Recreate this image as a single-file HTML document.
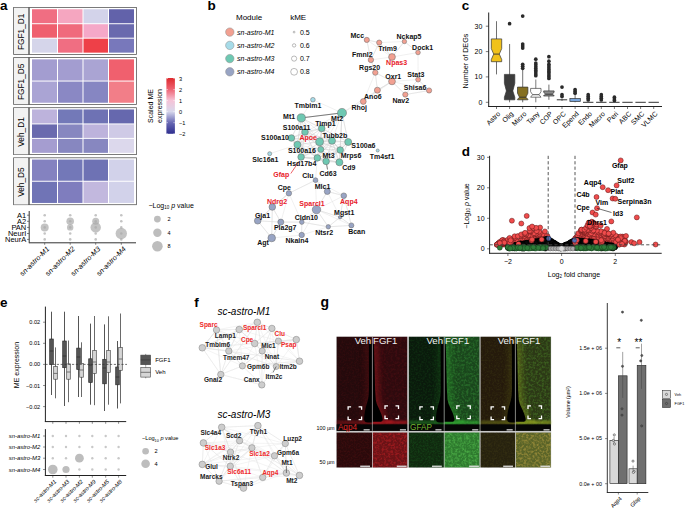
<!DOCTYPE html>
<html><head><meta charset="utf-8"><style>
html,body{margin:0;padding:0;background:#fff;width:685px;height:510px;overflow:hidden}
svg{display:block;font-family:"Liberation Sans",sans-serif}
</style></head><body>
<svg width="685" height="510" viewBox="0 0 685 510">
<rect width="685" height="510" fill="#fff"/>
<text x="0.00" y="9.80" font-size="13.5" text-anchor="start" font-weight="bold">a</text>
<rect x="13.6" y="7.5" width="122.8" height="46.9" fill="#fff" stroke="#5a5a5a" stroke-width="0.8"/>
<rect x="14.0" y="7.9" width="14.3" height="46.1" fill="#f2f2f2"/>
<line x1="29.0" y1="7.5" x2="29.0" y2="54.4" stroke="#444" stroke-width="1.3"/>
<text x="21.30" y="34.74" font-size="8.3" text-anchor="middle" transform="rotate(-90 21.30 31.75)">FGF1_D1</text>
<rect x="32.00" y="9.25" width="25.00" height="13.97" fill="#f06e82"/>
<rect x="58.00" y="9.25" width="24.50" height="13.97" fill="#f5a6c0"/>
<rect x="83.50" y="9.25" width="24.50" height="13.97" fill="#d3d3ea"/>
<rect x="109.00" y="9.25" width="25.00" height="13.97" fill="#6262aa"/>
<rect x="32.00" y="24.22" width="25.00" height="13.47" fill="#ef5f6e"/>
<rect x="58.00" y="24.22" width="24.50" height="13.47" fill="#f06a7c"/>
<rect x="83.50" y="24.22" width="24.50" height="13.47" fill="#f5a8c8"/>
<rect x="109.00" y="24.22" width="25.00" height="13.47" fill="#6a6aae"/>
<rect x="32.00" y="38.68" width="25.00" height="13.97" fill="#d5d5ea"/>
<rect x="58.00" y="38.68" width="24.50" height="13.97" fill="#f06e82"/>
<rect x="83.50" y="38.68" width="24.50" height="13.97" fill="#ee4048"/>
<rect x="109.00" y="38.68" width="25.00" height="13.97" fill="#7878bb"/>
<rect x="13.6" y="57.6" width="122.8" height="46.9" fill="#fff" stroke="#5a5a5a" stroke-width="0.8"/>
<rect x="14.0" y="58.0" width="14.3" height="46.1" fill="#f2f2f2"/>
<line x1="29.0" y1="57.6" x2="29.0" y2="104.5" stroke="#444" stroke-width="1.3"/>
<text x="21.30" y="84.84" font-size="8.3" text-anchor="middle" transform="rotate(-90 21.30 81.85)">FGF1_D5</text>
<rect x="32.00" y="59.35" width="25.00" height="21.20" fill="#a39dd0"/>
<rect x="58.00" y="59.35" width="24.50" height="21.20" fill="#a39dd0"/>
<rect x="83.50" y="59.35" width="24.50" height="21.20" fill="#aaa4d3"/>
<rect x="109.00" y="59.35" width="25.00" height="21.20" fill="#f0606e"/>
<rect x="32.00" y="81.55" width="25.00" height="21.20" fill="#aaa4d4"/>
<rect x="58.00" y="81.55" width="24.50" height="21.20" fill="#8a88c4"/>
<rect x="83.50" y="81.55" width="24.50" height="21.20" fill="#8686c2"/>
<rect x="109.00" y="81.55" width="25.00" height="21.20" fill="#f27e88"/>
<rect x="13.6" y="107.7" width="122.8" height="46.9" fill="#fff" stroke="#5a5a5a" stroke-width="0.8"/>
<rect x="14.0" y="108.10000000000001" width="14.3" height="46.1" fill="#f2f2f2"/>
<line x1="29.0" y1="107.7" x2="29.0" y2="154.6" stroke="#444" stroke-width="1.3"/>
<text x="21.30" y="134.94" font-size="8.3" text-anchor="middle" transform="rotate(-90 21.30 131.95)">Veh_D1</text>
<rect x="32.00" y="109.45" width="25.00" height="13.97" fill="#bdb3dc"/>
<rect x="58.00" y="109.45" width="24.50" height="13.97" fill="#7379b8"/>
<rect x="83.50" y="109.45" width="24.50" height="13.97" fill="#6e72b4"/>
<rect x="109.00" y="109.45" width="25.00" height="13.97" fill="#6668ae"/>
<rect x="32.00" y="124.42" width="25.00" height="13.47" fill="#6a6aae"/>
<rect x="58.00" y="124.42" width="24.50" height="13.47" fill="#8787c0"/>
<rect x="83.50" y="124.42" width="24.50" height="13.47" fill="#bdb3dc"/>
<rect x="109.00" y="124.42" width="25.00" height="13.47" fill="#cfcae6"/>
<rect x="32.00" y="138.88" width="25.00" height="13.97" fill="#a59dd0"/>
<rect x="58.00" y="138.88" width="24.50" height="13.97" fill="#8787c0"/>
<rect x="83.50" y="138.88" width="24.50" height="13.97" fill="#8787c0"/>
<rect x="109.00" y="138.88" width="25.00" height="13.97" fill="#dcd8ec"/>
<rect x="13.6" y="157.8" width="122.8" height="46.9" fill="#fff" stroke="#5a5a5a" stroke-width="0.8"/>
<rect x="14.0" y="158.20000000000002" width="14.3" height="46.1" fill="#f2f2f2"/>
<line x1="29.0" y1="157.8" x2="29.0" y2="204.70000000000002" stroke="#444" stroke-width="1.3"/>
<text x="21.30" y="185.04" font-size="8.3" text-anchor="middle" transform="rotate(-90 21.30 182.05)">Veh_D5</text>
<rect x="32.00" y="159.55" width="25.00" height="21.20" fill="#8482c0"/>
<rect x="58.00" y="159.55" width="24.50" height="21.20" fill="#7378b8"/>
<rect x="83.50" y="159.55" width="24.50" height="21.20" fill="#6e72b4"/>
<rect x="109.00" y="159.55" width="25.00" height="21.20" fill="#d2d2ea"/>
<rect x="32.00" y="181.75" width="25.00" height="21.20" fill="#7074b6"/>
<rect x="58.00" y="181.75" width="24.50" height="21.20" fill="#7f7dbe"/>
<rect x="83.50" y="181.75" width="24.50" height="21.20" fill="#c2b8de"/>
<rect x="109.00" y="181.75" width="25.00" height="21.20" fill="#d2d2ea"/>
<defs><linearGradient id="cb" x1="0" y1="1" x2="0" y2="0">
<stop offset="0" stop-color="#2e2e8e"/><stop offset="0.2" stop-color="#6868b4"/>
<stop offset="0.4" stop-color="#d8d8ec"/><stop offset="0.6" stop-color="#f6c2d6"/>
<stop offset="0.8" stop-color="#ee6272"/><stop offset="1" stop-color="#de2a2e"/></linearGradient></defs>
<rect x="166.4" y="78" width="8.5" height="55.8" fill="url(#cb)"/>
<line x1="166.4" y1="78.5" x2="168" y2="78.5" stroke="#fff" stroke-width="0.5"/>
<line x1="173.3" y1="78.5" x2="174.9" y2="78.5" stroke="#fff" stroke-width="0.5"/>
<text x="179.00" y="80.52" font-size="5.6" text-anchor="start">3</text>
<line x1="166.4" y1="89.6" x2="168" y2="89.6" stroke="#fff" stroke-width="0.5"/>
<line x1="173.3" y1="89.6" x2="174.9" y2="89.6" stroke="#fff" stroke-width="0.5"/>
<text x="179.00" y="91.58" font-size="5.6" text-anchor="start">2</text>
<line x1="166.4" y1="100.6" x2="168" y2="100.6" stroke="#fff" stroke-width="0.5"/>
<line x1="173.3" y1="100.6" x2="174.9" y2="100.6" stroke="#fff" stroke-width="0.5"/>
<text x="179.00" y="102.64" font-size="5.6" text-anchor="start">1</text>
<line x1="166.4" y1="111.7" x2="168" y2="111.7" stroke="#fff" stroke-width="0.5"/>
<line x1="173.3" y1="111.7" x2="174.9" y2="111.7" stroke="#fff" stroke-width="0.5"/>
<text x="179.00" y="113.70" font-size="5.6" text-anchor="start">0</text>
<line x1="166.4" y1="122.7" x2="168" y2="122.7" stroke="#fff" stroke-width="0.5"/>
<line x1="173.3" y1="122.7" x2="174.9" y2="122.7" stroke="#fff" stroke-width="0.5"/>
<text x="179.00" y="124.76" font-size="5.6" text-anchor="start">−1</text>
<line x1="166.4" y1="133.8" x2="168" y2="133.8" stroke="#fff" stroke-width="0.5"/>
<line x1="173.3" y1="133.8" x2="174.9" y2="133.8" stroke="#fff" stroke-width="0.5"/>
<text x="179.00" y="135.82" font-size="5.6" text-anchor="start">−2</text>
<text x="150.50" y="108.52" font-size="7" text-anchor="middle" transform="rotate(-90 150.50 106.00)">Scaled ME</text>
<text x="159.00" y="108.52" font-size="7" text-anchor="middle" transform="rotate(-90 159.00 106.00)">expression</text>
<line x1="29.2" y1="211" x2="29.2" y2="243.2" stroke="#333" stroke-width="1"/>
<line x1="29.2" y1="242.8" x2="136" y2="242.8" stroke="#333" stroke-width="1"/>
<line x1="27" y1="215.2" x2="29.2" y2="215.2" stroke="#333" stroke-width="0.6"/>
<text x="26.30" y="217.90" font-size="7.5" text-anchor="end">A1</text>
<line x1="27" y1="221.3" x2="29.2" y2="221.3" stroke="#333" stroke-width="0.6"/>
<text x="26.30" y="224.00" font-size="7.5" text-anchor="end">A2</text>
<line x1="27" y1="227.4" x2="29.2" y2="227.4" stroke="#333" stroke-width="0.6"/>
<text x="26.30" y="230.10" font-size="7.5" text-anchor="end">PAN</text>
<line x1="27" y1="233.5" x2="29.2" y2="233.5" stroke="#333" stroke-width="0.6"/>
<text x="26.30" y="236.20" font-size="7.5" text-anchor="end">NeurI</text>
<line x1="27" y1="239.4" x2="29.2" y2="239.4" stroke="#333" stroke-width="0.6"/>
<text x="26.30" y="242.10" font-size="7.5" text-anchor="end">NeurA</text>
<line x1="44.7" y1="242.8" x2="44.7" y2="244.8" stroke="#333" stroke-width="0.6"/>
<circle cx="44.7" cy="215.2" r="1.3" fill="#c4c4c4"/>
<circle cx="44.7" cy="221.3" r="1.3" fill="#c4c4c4"/>
<circle cx="44.7" cy="227.4" r="1.3" fill="#c4c4c4"/>
<circle cx="44.7" cy="233.5" r="1.3" fill="#c4c4c4"/>
<circle cx="44.7" cy="239.4" r="1.3" fill="#c4c4c4"/>
<line x1="70.2" y1="242.8" x2="70.2" y2="244.8" stroke="#333" stroke-width="0.6"/>
<circle cx="70.2" cy="215.2" r="1.3" fill="#c4c4c4"/>
<circle cx="70.2" cy="221.3" r="1.3" fill="#c4c4c4"/>
<circle cx="70.2" cy="227.4" r="1.3" fill="#c4c4c4"/>
<circle cx="70.2" cy="233.5" r="1.3" fill="#c4c4c4"/>
<circle cx="70.2" cy="239.4" r="1.3" fill="#c4c4c4"/>
<line x1="95.7" y1="242.8" x2="95.7" y2="244.8" stroke="#333" stroke-width="0.6"/>
<circle cx="95.7" cy="215.2" r="1.3" fill="#c4c4c4"/>
<circle cx="95.7" cy="221.3" r="1.3" fill="#c4c4c4"/>
<circle cx="95.7" cy="227.4" r="1.3" fill="#c4c4c4"/>
<circle cx="95.7" cy="233.5" r="1.3" fill="#c4c4c4"/>
<circle cx="95.7" cy="239.4" r="1.3" fill="#c4c4c4"/>
<line x1="121.3" y1="242.8" x2="121.3" y2="244.8" stroke="#333" stroke-width="0.6"/>
<circle cx="121.3" cy="215.2" r="1.3" fill="#c4c4c4"/>
<circle cx="121.3" cy="221.3" r="1.3" fill="#c4c4c4"/>
<circle cx="121.3" cy="227.4" r="1.3" fill="#c4c4c4"/>
<circle cx="121.3" cy="233.5" r="1.3" fill="#c4c4c4"/>
<circle cx="121.3" cy="239.4" r="1.3" fill="#c4c4c4"/>
<circle cx="44.7" cy="227.4" r="4.0" fill="#a9a9a9" fill-opacity="0.7"/>
<circle cx="70.2" cy="221.3" r="3.8" fill="#a9a9a9" fill-opacity="0.7"/>
<circle cx="70.2" cy="227.4" r="3.2" fill="#a9a9a9" fill-opacity="0.7"/>
<circle cx="95.7" cy="221.3" r="3.5" fill="#a9a9a9" fill-opacity="0.7"/>
<circle cx="95.7" cy="227.4" r="5.2" fill="#a9a9a9" fill-opacity="0.7"/>
<circle cx="121.3" cy="233.5" r="5.7" fill="#a9a9a9" fill-opacity="0.7"/>
<text x="47.90" y="250.09" font-size="7.2" text-anchor="end" font-style="italic" transform="rotate(-45 47.90 247.50)">sn-astro-M1</text>
<text x="73.40" y="250.09" font-size="7.2" text-anchor="end" font-style="italic" transform="rotate(-45 73.40 247.50)">sn-astro-M2</text>
<text x="98.90" y="250.09" font-size="7.2" text-anchor="end" font-style="italic" transform="rotate(-45 98.90 247.50)">sn-astro-M3</text>
<text x="124.50" y="250.09" font-size="7.2" text-anchor="end" font-style="italic" transform="rotate(-45 124.50 247.50)">sn-astro-M4</text>
<text x="148.50" y="207.92" font-size="7" text-anchor="start">−Log<tspan font-size="4.5" dy="1.5">10</tspan><tspan dy="-1.5"> </tspan><tspan font-style="italic">p</tspan> value</text>
<circle cx="157.4" cy="219.1" r="3.4" fill="#bdbdbd"/>
<text x="167.50" y="221.08" font-size="5.5" text-anchor="start">2</text>
<circle cx="157.4" cy="232.8" r="4.2" fill="#bdbdbd"/>
<text x="167.50" y="234.78" font-size="5.5" text-anchor="start">4</text>
<circle cx="157.4" cy="246.3" r="5.3" fill="#bdbdbd"/>
<text x="167.50" y="248.28" font-size="5.5" text-anchor="start">8</text>
<text x="207.60" y="9.60" font-size="13.5" text-anchor="start" font-weight="bold">b</text>
<text x="236.00" y="20.38" font-size="8" text-anchor="start">Module</text>
<text x="290.20" y="20.38" font-size="8" text-anchor="start">kME</text>
<circle cx="229.8" cy="32.1" r="4.2" fill="#f2a091" stroke="#888" stroke-width="0.5"/>
<text x="237.10" y="34.62" font-size="7" text-anchor="start" font-style="italic">sn-astro-M1</text>
<circle cx="229.8" cy="45.4" r="4.2" fill="#a6dbe8" stroke="#888" stroke-width="0.5"/>
<text x="237.10" y="47.87" font-size="7" text-anchor="start" font-style="italic">sn-astro-M2</text>
<circle cx="229.8" cy="58.6" r="4.2" fill="#6ec8b2" stroke="#888" stroke-width="0.5"/>
<text x="237.10" y="61.12" font-size="7" text-anchor="start" font-style="italic">sn-astro-M3</text>
<circle cx="229.8" cy="71.8" r="4.2" fill="#98a4c4" stroke="#888" stroke-width="0.5"/>
<text x="237.10" y="74.37" font-size="7" text-anchor="start" font-style="italic">sn-astro-M4</text>
<circle cx="294.1" cy="32.1" r="0.9" fill="#fff" stroke="#777" stroke-width="0.5"/>
<text x="299.90" y="34.62" font-size="7" text-anchor="start">0.5</text>
<circle cx="294.1" cy="45.4" r="1.7" fill="#fff" stroke="#777" stroke-width="0.5"/>
<text x="299.90" y="47.87" font-size="7" text-anchor="start">0.6</text>
<circle cx="294.1" cy="58.6" r="2.6" fill="#fff" stroke="#777" stroke-width="0.5"/>
<text x="299.90" y="61.12" font-size="7" text-anchor="start">0.7</text>
<circle cx="294.1" cy="71.8" r="3.4" fill="#fff" stroke="#777" stroke-width="0.5"/>
<text x="299.90" y="74.37" font-size="7" text-anchor="start">0.8</text>
<line x1="366.8" y1="39.9" x2="379.2" y2="42.6" stroke="#d8d8d8" stroke-width="0.4"/>
<line x1="366.8" y1="39.9" x2="370.9" y2="59.9" stroke="#d8d8d8" stroke-width="0.4"/>
<line x1="366.8" y1="39.9" x2="392" y2="57" stroke="#d8d8d8" stroke-width="0.4"/>
<line x1="379.2" y1="42.6" x2="366.8" y2="39.9" stroke="#d8d8d8" stroke-width="0.4"/>
<line x1="379.2" y1="42.6" x2="370.9" y2="59.9" stroke="#d8d8d8" stroke-width="0.4"/>
<line x1="379.2" y1="42.6" x2="392" y2="57" stroke="#d8d8d8" stroke-width="0.4"/>
<line x1="404.4" y1="41.5" x2="418" y2="52.5" stroke="#d8d8d8" stroke-width="0.4"/>
<line x1="404.4" y1="41.5" x2="392" y2="57" stroke="#d8d8d8" stroke-width="0.4"/>
<line x1="404.4" y1="41.5" x2="379.2" y2="42.6" stroke="#d8d8d8" stroke-width="0.4"/>
<line x1="418" y1="52.5" x2="404.4" y2="41.5" stroke="#d8d8d8" stroke-width="0.4"/>
<line x1="418" y1="52.5" x2="392" y2="57" stroke="#d8d8d8" stroke-width="0.4"/>
<line x1="418" y1="52.5" x2="418.1" y2="79.6" stroke="#d8d8d8" stroke-width="0.4"/>
<line x1="392" y1="57" x2="379.2" y2="42.6" stroke="#d8d8d8" stroke-width="0.4"/>
<line x1="392" y1="57" x2="404.4" y2="41.5" stroke="#d8d8d8" stroke-width="0.4"/>
<line x1="392" y1="57" x2="370.9" y2="59.9" stroke="#d8d8d8" stroke-width="0.4"/>
<line x1="370.9" y1="59.9" x2="375.3" y2="72.6" stroke="#d8d8d8" stroke-width="0.4"/>
<line x1="370.9" y1="59.9" x2="379.2" y2="42.6" stroke="#d8d8d8" stroke-width="0.4"/>
<line x1="370.9" y1="59.9" x2="366.8" y2="39.9" stroke="#d8d8d8" stroke-width="0.4"/>
<line x1="375.3" y1="72.6" x2="370.9" y2="59.9" stroke="#d8d8d8" stroke-width="0.4"/>
<line x1="375.3" y1="72.6" x2="377.4" y2="90.2" stroke="#d8d8d8" stroke-width="0.4"/>
<line x1="375.3" y1="72.6" x2="392" y2="81.4" stroke="#d8d8d8" stroke-width="0.4"/>
<line x1="392" y1="81.4" x2="377.4" y2="90.2" stroke="#d8d8d8" stroke-width="0.4"/>
<line x1="392" y1="81.4" x2="405.3" y2="94.6" stroke="#d8d8d8" stroke-width="0.4"/>
<line x1="392" y1="81.4" x2="375.3" y2="72.6" stroke="#d8d8d8" stroke-width="0.4"/>
<line x1="418.1" y1="79.6" x2="429.1" y2="90.5" stroke="#d8d8d8" stroke-width="0.4"/>
<line x1="418.1" y1="79.6" x2="405.3" y2="94.6" stroke="#d8d8d8" stroke-width="0.4"/>
<line x1="418.1" y1="79.6" x2="392" y2="81.4" stroke="#d8d8d8" stroke-width="0.4"/>
<line x1="429.1" y1="90.5" x2="418.1" y2="79.6" stroke="#d8d8d8" stroke-width="0.4"/>
<line x1="429.1" y1="90.5" x2="405.3" y2="94.6" stroke="#d8d8d8" stroke-width="0.4"/>
<line x1="429.1" y1="90.5" x2="392" y2="81.4" stroke="#d8d8d8" stroke-width="0.4"/>
<line x1="377.4" y1="90.2" x2="392" y2="81.4" stroke="#d8d8d8" stroke-width="0.4"/>
<line x1="377.4" y1="90.2" x2="375.3" y2="72.6" stroke="#d8d8d8" stroke-width="0.4"/>
<line x1="377.4" y1="90.2" x2="363.3" y2="101.5" stroke="#d8d8d8" stroke-width="0.4"/>
<line x1="405.3" y1="94.6" x2="392" y2="81.4" stroke="#d8d8d8" stroke-width="0.4"/>
<line x1="405.3" y1="94.6" x2="418.1" y2="79.6" stroke="#d8d8d8" stroke-width="0.4"/>
<line x1="405.3" y1="94.6" x2="429.1" y2="90.5" stroke="#d8d8d8" stroke-width="0.4"/>
<line x1="363.3" y1="101.5" x2="377.4" y2="90.2" stroke="#d8d8d8" stroke-width="0.4"/>
<line x1="363.3" y1="101.5" x2="375.3" y2="72.6" stroke="#d8d8d8" stroke-width="0.4"/>
<line x1="363.3" y1="101.5" x2="392" y2="81.4" stroke="#d8d8d8" stroke-width="0.4"/>
<line x1="301.3" y1="117.9" x2="305" y2="132" stroke="#cfcfcf" stroke-width="0.35"/>
<line x1="301.3" y1="117.9" x2="291.4" y2="138" stroke="#cfcfcf" stroke-width="0.35"/>
<line x1="301.3" y1="117.9" x2="321.7" y2="128.4" stroke="#cfcfcf" stroke-width="0.35"/>
<line x1="301.3" y1="117.9" x2="297.4" y2="144.7" stroke="#cfcfcf" stroke-width="0.35"/>
<line x1="301.3" y1="117.9" x2="319.6" y2="141.7" stroke="#cfcfcf" stroke-width="0.35"/>
<line x1="301.3" y1="117.9" x2="320.8" y2="149.4" stroke="#cfcfcf" stroke-width="0.35"/>
<line x1="301.3" y1="117.9" x2="332" y2="140.8" stroke="#cfcfcf" stroke-width="0.35"/>
<line x1="301.3" y1="117.9" x2="301.1" y2="157" stroke="#cfcfcf" stroke-width="0.35"/>
<line x1="301.3" y1="117.9" x2="342" y2="112.9" stroke="#cfcfcf" stroke-width="0.35"/>
<line x1="342" y1="112.9" x2="321.7" y2="128.4" stroke="#cfcfcf" stroke-width="0.35"/>
<line x1="342" y1="112.9" x2="332" y2="140.8" stroke="#cfcfcf" stroke-width="0.35"/>
<line x1="342" y1="112.9" x2="348.2" y2="142" stroke="#cfcfcf" stroke-width="0.35"/>
<line x1="342" y1="112.9" x2="319.6" y2="141.7" stroke="#cfcfcf" stroke-width="0.35"/>
<line x1="342" y1="112.9" x2="340.2" y2="150" stroke="#cfcfcf" stroke-width="0.35"/>
<line x1="342" y1="112.9" x2="301.3" y2="117.9" stroke="#cfcfcf" stroke-width="0.35"/>
<line x1="342" y1="112.9" x2="305" y2="132" stroke="#cfcfcf" stroke-width="0.35"/>
<line x1="342" y1="112.9" x2="320.8" y2="149.4" stroke="#cfcfcf" stroke-width="0.35"/>
<line x1="342" y1="112.9" x2="339.4" y2="162.3" stroke="#cfcfcf" stroke-width="0.35"/>
<line x1="321.7" y1="128.4" x2="319.6" y2="141.7" stroke="#cfcfcf" stroke-width="0.35"/>
<line x1="321.7" y1="128.4" x2="332" y2="140.8" stroke="#cfcfcf" stroke-width="0.35"/>
<line x1="321.7" y1="128.4" x2="305" y2="132" stroke="#cfcfcf" stroke-width="0.35"/>
<line x1="321.7" y1="128.4" x2="320.8" y2="149.4" stroke="#cfcfcf" stroke-width="0.35"/>
<line x1="321.7" y1="128.4" x2="301.3" y2="117.9" stroke="#cfcfcf" stroke-width="0.35"/>
<line x1="321.7" y1="128.4" x2="342" y2="112.9" stroke="#cfcfcf" stroke-width="0.35"/>
<line x1="321.7" y1="128.4" x2="340.2" y2="150" stroke="#cfcfcf" stroke-width="0.35"/>
<line x1="321.7" y1="128.4" x2="297.4" y2="144.7" stroke="#cfcfcf" stroke-width="0.35"/>
<line x1="321.7" y1="128.4" x2="348.2" y2="142" stroke="#cfcfcf" stroke-width="0.35"/>
<line x1="305" y1="132" x2="301.3" y2="117.9" stroke="#cfcfcf" stroke-width="0.35"/>
<line x1="305" y1="132" x2="297.4" y2="144.7" stroke="#cfcfcf" stroke-width="0.35"/>
<line x1="305" y1="132" x2="291.4" y2="138" stroke="#cfcfcf" stroke-width="0.35"/>
<line x1="305" y1="132" x2="321.7" y2="128.4" stroke="#cfcfcf" stroke-width="0.35"/>
<line x1="305" y1="132" x2="319.6" y2="141.7" stroke="#cfcfcf" stroke-width="0.35"/>
<line x1="305" y1="132" x2="320.8" y2="149.4" stroke="#cfcfcf" stroke-width="0.35"/>
<line x1="305" y1="132" x2="301.1" y2="157" stroke="#cfcfcf" stroke-width="0.35"/>
<line x1="305" y1="132" x2="332" y2="140.8" stroke="#cfcfcf" stroke-width="0.35"/>
<line x1="305" y1="132" x2="317.3" y2="157.9" stroke="#cfcfcf" stroke-width="0.35"/>
<line x1="291.4" y1="138" x2="297.4" y2="144.7" stroke="#cfcfcf" stroke-width="0.35"/>
<line x1="291.4" y1="138" x2="305" y2="132" stroke="#cfcfcf" stroke-width="0.35"/>
<line x1="291.4" y1="138" x2="301.1" y2="157" stroke="#cfcfcf" stroke-width="0.35"/>
<line x1="291.4" y1="138" x2="301.3" y2="117.9" stroke="#cfcfcf" stroke-width="0.35"/>
<line x1="291.4" y1="138" x2="319.6" y2="141.7" stroke="#cfcfcf" stroke-width="0.35"/>
<line x1="291.4" y1="138" x2="320.8" y2="149.4" stroke="#cfcfcf" stroke-width="0.35"/>
<line x1="291.4" y1="138" x2="321.7" y2="128.4" stroke="#cfcfcf" stroke-width="0.35"/>
<line x1="291.4" y1="138" x2="317.3" y2="157.9" stroke="#cfcfcf" stroke-width="0.35"/>
<line x1="291.4" y1="138" x2="332" y2="140.8" stroke="#cfcfcf" stroke-width="0.35"/>
<line x1="319.6" y1="141.7" x2="320.8" y2="149.4" stroke="#cfcfcf" stroke-width="0.35"/>
<line x1="319.6" y1="141.7" x2="332" y2="140.8" stroke="#cfcfcf" stroke-width="0.35"/>
<line x1="319.6" y1="141.7" x2="321.7" y2="128.4" stroke="#cfcfcf" stroke-width="0.35"/>
<line x1="319.6" y1="141.7" x2="317.3" y2="157.9" stroke="#cfcfcf" stroke-width="0.35"/>
<line x1="319.6" y1="141.7" x2="305" y2="132" stroke="#cfcfcf" stroke-width="0.35"/>
<line x1="319.6" y1="141.7" x2="326.1" y2="161.4" stroke="#cfcfcf" stroke-width="0.35"/>
<line x1="319.6" y1="141.7" x2="340.2" y2="150" stroke="#cfcfcf" stroke-width="0.35"/>
<line x1="319.6" y1="141.7" x2="297.4" y2="144.7" stroke="#cfcfcf" stroke-width="0.35"/>
<line x1="319.6" y1="141.7" x2="301.1" y2="157" stroke="#cfcfcf" stroke-width="0.35"/>
<line x1="332" y1="140.8" x2="340.2" y2="150" stroke="#cfcfcf" stroke-width="0.35"/>
<line x1="332" y1="140.8" x2="319.6" y2="141.7" stroke="#cfcfcf" stroke-width="0.35"/>
<line x1="332" y1="140.8" x2="320.8" y2="149.4" stroke="#cfcfcf" stroke-width="0.35"/>
<line x1="332" y1="140.8" x2="321.7" y2="128.4" stroke="#cfcfcf" stroke-width="0.35"/>
<line x1="332" y1="140.8" x2="348.2" y2="142" stroke="#cfcfcf" stroke-width="0.35"/>
<line x1="332" y1="140.8" x2="326.1" y2="161.4" stroke="#cfcfcf" stroke-width="0.35"/>
<line x1="332" y1="140.8" x2="317.3" y2="157.9" stroke="#cfcfcf" stroke-width="0.35"/>
<line x1="332" y1="140.8" x2="339.4" y2="162.3" stroke="#cfcfcf" stroke-width="0.35"/>
<line x1="332" y1="140.8" x2="305" y2="132" stroke="#cfcfcf" stroke-width="0.35"/>
<line x1="348.2" y1="142" x2="340.2" y2="150" stroke="#cfcfcf" stroke-width="0.35"/>
<line x1="348.2" y1="142" x2="332" y2="140.8" stroke="#cfcfcf" stroke-width="0.35"/>
<line x1="348.2" y1="142" x2="339.4" y2="162.3" stroke="#cfcfcf" stroke-width="0.35"/>
<line x1="348.2" y1="142" x2="320.8" y2="149.4" stroke="#cfcfcf" stroke-width="0.35"/>
<line x1="348.2" y1="142" x2="319.6" y2="141.7" stroke="#cfcfcf" stroke-width="0.35"/>
<line x1="348.2" y1="142" x2="326.1" y2="161.4" stroke="#cfcfcf" stroke-width="0.35"/>
<line x1="348.2" y1="142" x2="342" y2="112.9" stroke="#cfcfcf" stroke-width="0.35"/>
<line x1="348.2" y1="142" x2="321.7" y2="128.4" stroke="#cfcfcf" stroke-width="0.35"/>
<line x1="348.2" y1="142" x2="317.3" y2="157.9" stroke="#cfcfcf" stroke-width="0.35"/>
<line x1="297.4" y1="144.7" x2="291.4" y2="138" stroke="#cfcfcf" stroke-width="0.35"/>
<line x1="297.4" y1="144.7" x2="301.1" y2="157" stroke="#cfcfcf" stroke-width="0.35"/>
<line x1="297.4" y1="144.7" x2="305" y2="132" stroke="#cfcfcf" stroke-width="0.35"/>
<line x1="297.4" y1="144.7" x2="319.6" y2="141.7" stroke="#cfcfcf" stroke-width="0.35"/>
<line x1="297.4" y1="144.7" x2="320.8" y2="149.4" stroke="#cfcfcf" stroke-width="0.35"/>
<line x1="297.4" y1="144.7" x2="317.3" y2="157.9" stroke="#cfcfcf" stroke-width="0.35"/>
<line x1="297.4" y1="144.7" x2="301.3" y2="117.9" stroke="#cfcfcf" stroke-width="0.35"/>
<line x1="297.4" y1="144.7" x2="321.7" y2="128.4" stroke="#cfcfcf" stroke-width="0.35"/>
<line x1="297.4" y1="144.7" x2="326.1" y2="161.4" stroke="#cfcfcf" stroke-width="0.35"/>
<line x1="320.8" y1="149.4" x2="319.6" y2="141.7" stroke="#cfcfcf" stroke-width="0.35"/>
<line x1="320.8" y1="149.4" x2="317.3" y2="157.9" stroke="#cfcfcf" stroke-width="0.35"/>
<line x1="320.8" y1="149.4" x2="326.1" y2="161.4" stroke="#cfcfcf" stroke-width="0.35"/>
<line x1="320.8" y1="149.4" x2="332" y2="140.8" stroke="#cfcfcf" stroke-width="0.35"/>
<line x1="320.8" y1="149.4" x2="340.2" y2="150" stroke="#cfcfcf" stroke-width="0.35"/>
<line x1="320.8" y1="149.4" x2="321.7" y2="128.4" stroke="#cfcfcf" stroke-width="0.35"/>
<line x1="320.8" y1="149.4" x2="301.1" y2="157" stroke="#cfcfcf" stroke-width="0.35"/>
<line x1="320.8" y1="149.4" x2="339.4" y2="162.3" stroke="#cfcfcf" stroke-width="0.35"/>
<line x1="320.8" y1="149.4" x2="305" y2="132" stroke="#cfcfcf" stroke-width="0.35"/>
<line x1="340.2" y1="150" x2="348.2" y2="142" stroke="#cfcfcf" stroke-width="0.35"/>
<line x1="340.2" y1="150" x2="332" y2="140.8" stroke="#cfcfcf" stroke-width="0.35"/>
<line x1="340.2" y1="150" x2="339.4" y2="162.3" stroke="#cfcfcf" stroke-width="0.35"/>
<line x1="340.2" y1="150" x2="326.1" y2="161.4" stroke="#cfcfcf" stroke-width="0.35"/>
<line x1="340.2" y1="150" x2="320.8" y2="149.4" stroke="#cfcfcf" stroke-width="0.35"/>
<line x1="340.2" y1="150" x2="319.6" y2="141.7" stroke="#cfcfcf" stroke-width="0.35"/>
<line x1="340.2" y1="150" x2="317.3" y2="157.9" stroke="#cfcfcf" stroke-width="0.35"/>
<line x1="340.2" y1="150" x2="321.7" y2="128.4" stroke="#cfcfcf" stroke-width="0.35"/>
<line x1="340.2" y1="150" x2="342" y2="112.9" stroke="#cfcfcf" stroke-width="0.35"/>
<line x1="301.1" y1="157" x2="297.4" y2="144.7" stroke="#cfcfcf" stroke-width="0.35"/>
<line x1="301.1" y1="157" x2="317.3" y2="157.9" stroke="#cfcfcf" stroke-width="0.35"/>
<line x1="301.1" y1="157" x2="320.8" y2="149.4" stroke="#cfcfcf" stroke-width="0.35"/>
<line x1="301.1" y1="157" x2="291.4" y2="138" stroke="#cfcfcf" stroke-width="0.35"/>
<line x1="301.1" y1="157" x2="319.6" y2="141.7" stroke="#cfcfcf" stroke-width="0.35"/>
<line x1="301.1" y1="157" x2="305" y2="132" stroke="#cfcfcf" stroke-width="0.35"/>
<line x1="301.1" y1="157" x2="326.1" y2="161.4" stroke="#cfcfcf" stroke-width="0.35"/>
<line x1="301.1" y1="157" x2="332" y2="140.8" stroke="#cfcfcf" stroke-width="0.35"/>
<line x1="301.1" y1="157" x2="321.7" y2="128.4" stroke="#cfcfcf" stroke-width="0.35"/>
<line x1="317.3" y1="157.9" x2="320.8" y2="149.4" stroke="#cfcfcf" stroke-width="0.35"/>
<line x1="317.3" y1="157.9" x2="326.1" y2="161.4" stroke="#cfcfcf" stroke-width="0.35"/>
<line x1="317.3" y1="157.9" x2="301.1" y2="157" stroke="#cfcfcf" stroke-width="0.35"/>
<line x1="317.3" y1="157.9" x2="319.6" y2="141.7" stroke="#cfcfcf" stroke-width="0.35"/>
<line x1="317.3" y1="157.9" x2="339.4" y2="162.3" stroke="#cfcfcf" stroke-width="0.35"/>
<line x1="317.3" y1="157.9" x2="332" y2="140.8" stroke="#cfcfcf" stroke-width="0.35"/>
<line x1="317.3" y1="157.9" x2="297.4" y2="144.7" stroke="#cfcfcf" stroke-width="0.35"/>
<line x1="317.3" y1="157.9" x2="340.2" y2="150" stroke="#cfcfcf" stroke-width="0.35"/>
<line x1="317.3" y1="157.9" x2="305" y2="132" stroke="#cfcfcf" stroke-width="0.35"/>
<line x1="326.1" y1="161.4" x2="317.3" y2="157.9" stroke="#cfcfcf" stroke-width="0.35"/>
<line x1="326.1" y1="161.4" x2="320.8" y2="149.4" stroke="#cfcfcf" stroke-width="0.35"/>
<line x1="326.1" y1="161.4" x2="339.4" y2="162.3" stroke="#cfcfcf" stroke-width="0.35"/>
<line x1="326.1" y1="161.4" x2="340.2" y2="150" stroke="#cfcfcf" stroke-width="0.35"/>
<line x1="326.1" y1="161.4" x2="319.6" y2="141.7" stroke="#cfcfcf" stroke-width="0.35"/>
<line x1="326.1" y1="161.4" x2="332" y2="140.8" stroke="#cfcfcf" stroke-width="0.35"/>
<line x1="326.1" y1="161.4" x2="301.1" y2="157" stroke="#cfcfcf" stroke-width="0.35"/>
<line x1="326.1" y1="161.4" x2="348.2" y2="142" stroke="#cfcfcf" stroke-width="0.35"/>
<line x1="326.1" y1="161.4" x2="297.4" y2="144.7" stroke="#cfcfcf" stroke-width="0.35"/>
<line x1="339.4" y1="162.3" x2="340.2" y2="150" stroke="#cfcfcf" stroke-width="0.35"/>
<line x1="339.4" y1="162.3" x2="326.1" y2="161.4" stroke="#cfcfcf" stroke-width="0.35"/>
<line x1="339.4" y1="162.3" x2="348.2" y2="142" stroke="#cfcfcf" stroke-width="0.35"/>
<line x1="339.4" y1="162.3" x2="317.3" y2="157.9" stroke="#cfcfcf" stroke-width="0.35"/>
<line x1="339.4" y1="162.3" x2="320.8" y2="149.4" stroke="#cfcfcf" stroke-width="0.35"/>
<line x1="339.4" y1="162.3" x2="332" y2="140.8" stroke="#cfcfcf" stroke-width="0.35"/>
<line x1="339.4" y1="162.3" x2="319.6" y2="141.7" stroke="#cfcfcf" stroke-width="0.35"/>
<line x1="339.4" y1="162.3" x2="321.7" y2="128.4" stroke="#cfcfcf" stroke-width="0.35"/>
<line x1="339.4" y1="162.3" x2="301.1" y2="157" stroke="#cfcfcf" stroke-width="0.35"/>
<line x1="315.5" y1="180.2" x2="327.3" y2="191.5" stroke="#d8d8d8" stroke-width="0.4"/>
<line x1="315.5" y1="180.2" x2="316.5" y2="209.6" stroke="#d8d8d8" stroke-width="0.4"/>
<line x1="315.5" y1="180.2" x2="288.9" y2="193.3" stroke="#d8d8d8" stroke-width="0.4"/>
<line x1="315.5" y1="180.2" x2="343.8" y2="195.7" stroke="#d8d8d8" stroke-width="0.4"/>
<line x1="327.3" y1="191.5" x2="315.5" y2="180.2" stroke="#d8d8d8" stroke-width="0.4"/>
<line x1="327.3" y1="191.5" x2="343.8" y2="195.7" stroke="#d8d8d8" stroke-width="0.4"/>
<line x1="327.3" y1="191.5" x2="316.5" y2="209.6" stroke="#d8d8d8" stroke-width="0.4"/>
<line x1="327.3" y1="191.5" x2="340.1" y2="217.2" stroke="#d8d8d8" stroke-width="0.4"/>
<line x1="288.9" y1="193.3" x2="272.3" y2="207" stroke="#d8d8d8" stroke-width="0.4"/>
<line x1="288.9" y1="193.3" x2="315.5" y2="180.2" stroke="#d8d8d8" stroke-width="0.4"/>
<line x1="288.9" y1="193.3" x2="280.8" y2="222.1" stroke="#d8d8d8" stroke-width="0.4"/>
<line x1="288.9" y1="193.3" x2="301.8" y2="222.1" stroke="#d8d8d8" stroke-width="0.4"/>
<line x1="272.3" y1="207" x2="280.8" y2="222.1" stroke="#d8d8d8" stroke-width="0.4"/>
<line x1="272.3" y1="207" x2="257.7" y2="220.8" stroke="#d8d8d8" stroke-width="0.4"/>
<line x1="272.3" y1="207" x2="288.9" y2="193.3" stroke="#d8d8d8" stroke-width="0.4"/>
<line x1="272.3" y1="207" x2="271.7" y2="238" stroke="#d8d8d8" stroke-width="0.4"/>
<line x1="316.5" y1="209.6" x2="301.8" y2="222.1" stroke="#d8d8d8" stroke-width="0.4"/>
<line x1="316.5" y1="209.6" x2="328.3" y2="226.8" stroke="#d8d8d8" stroke-width="0.4"/>
<line x1="316.5" y1="209.6" x2="327.3" y2="191.5" stroke="#d8d8d8" stroke-width="0.4"/>
<line x1="316.5" y1="209.6" x2="340.1" y2="217.2" stroke="#d8d8d8" stroke-width="0.4"/>
<line x1="257.7" y1="220.8" x2="272.3" y2="207" stroke="#d8d8d8" stroke-width="0.4"/>
<line x1="257.7" y1="220.8" x2="271.7" y2="238" stroke="#d8d8d8" stroke-width="0.4"/>
<line x1="257.7" y1="220.8" x2="280.8" y2="222.1" stroke="#d8d8d8" stroke-width="0.4"/>
<line x1="257.7" y1="220.8" x2="288.9" y2="193.3" stroke="#d8d8d8" stroke-width="0.4"/>
<line x1="301.8" y1="222.1" x2="301.7" y2="235" stroke="#d8d8d8" stroke-width="0.4"/>
<line x1="301.8" y1="222.1" x2="316.5" y2="209.6" stroke="#d8d8d8" stroke-width="0.4"/>
<line x1="301.8" y1="222.1" x2="280.8" y2="222.1" stroke="#d8d8d8" stroke-width="0.4"/>
<line x1="301.8" y1="222.1" x2="328.3" y2="226.8" stroke="#d8d8d8" stroke-width="0.4"/>
<line x1="280.8" y1="222.1" x2="272.3" y2="207" stroke="#d8d8d8" stroke-width="0.4"/>
<line x1="280.8" y1="222.1" x2="271.7" y2="238" stroke="#d8d8d8" stroke-width="0.4"/>
<line x1="280.8" y1="222.1" x2="301.8" y2="222.1" stroke="#d8d8d8" stroke-width="0.4"/>
<line x1="280.8" y1="222.1" x2="257.7" y2="220.8" stroke="#d8d8d8" stroke-width="0.4"/>
<line x1="343.8" y1="195.7" x2="327.3" y2="191.5" stroke="#d8d8d8" stroke-width="0.4"/>
<line x1="343.8" y1="195.7" x2="340.1" y2="217.2" stroke="#d8d8d8" stroke-width="0.4"/>
<line x1="343.8" y1="195.7" x2="316.5" y2="209.6" stroke="#d8d8d8" stroke-width="0.4"/>
<line x1="343.8" y1="195.7" x2="351.4" y2="225.4" stroke="#d8d8d8" stroke-width="0.4"/>
<line x1="340.1" y1="217.2" x2="351.4" y2="225.4" stroke="#d8d8d8" stroke-width="0.4"/>
<line x1="340.1" y1="217.2" x2="328.3" y2="226.8" stroke="#d8d8d8" stroke-width="0.4"/>
<line x1="340.1" y1="217.2" x2="343.8" y2="195.7" stroke="#d8d8d8" stroke-width="0.4"/>
<line x1="340.1" y1="217.2" x2="316.5" y2="209.6" stroke="#d8d8d8" stroke-width="0.4"/>
<line x1="351.4" y1="225.4" x2="340.1" y2="217.2" stroke="#d8d8d8" stroke-width="0.4"/>
<line x1="351.4" y1="225.4" x2="328.3" y2="226.8" stroke="#d8d8d8" stroke-width="0.4"/>
<line x1="351.4" y1="225.4" x2="343.8" y2="195.7" stroke="#d8d8d8" stroke-width="0.4"/>
<line x1="351.4" y1="225.4" x2="316.5" y2="209.6" stroke="#d8d8d8" stroke-width="0.4"/>
<line x1="328.3" y1="226.8" x2="340.1" y2="217.2" stroke="#d8d8d8" stroke-width="0.4"/>
<line x1="328.3" y1="226.8" x2="316.5" y2="209.6" stroke="#d8d8d8" stroke-width="0.4"/>
<line x1="328.3" y1="226.8" x2="351.4" y2="225.4" stroke="#d8d8d8" stroke-width="0.4"/>
<line x1="328.3" y1="226.8" x2="301.8" y2="222.1" stroke="#d8d8d8" stroke-width="0.4"/>
<line x1="301.7" y1="235" x2="301.8" y2="222.1" stroke="#d8d8d8" stroke-width="0.4"/>
<line x1="301.7" y1="235" x2="280.8" y2="222.1" stroke="#d8d8d8" stroke-width="0.4"/>
<line x1="301.7" y1="235" x2="328.3" y2="226.8" stroke="#d8d8d8" stroke-width="0.4"/>
<line x1="301.7" y1="235" x2="316.5" y2="209.6" stroke="#d8d8d8" stroke-width="0.4"/>
<line x1="271.7" y1="238" x2="280.8" y2="222.1" stroke="#d8d8d8" stroke-width="0.4"/>
<line x1="271.7" y1="238" x2="257.7" y2="220.8" stroke="#d8d8d8" stroke-width="0.4"/>
<line x1="271.7" y1="238" x2="301.7" y2="235" stroke="#d8d8d8" stroke-width="0.4"/>
<line x1="271.7" y1="238" x2="272.3" y2="207" stroke="#d8d8d8" stroke-width="0.4"/>
<line x1="312.9" y1="99.7" x2="301.4" y2="117.3" stroke="#d8d8d8" stroke-width="0.4"/>
<line x1="312.9" y1="99.7" x2="342" y2="112.9" stroke="#d8d8d8" stroke-width="0.4"/>
<line x1="363.3" y1="101.5" x2="342" y2="112.9" stroke="#d8d8d8" stroke-width="0.4"/>
<line x1="269.7" y1="153.7" x2="297.4" y2="144.7" stroke="#d8d8d8" stroke-width="0.4"/>
<line x1="315.5" y1="180.2" x2="317.3" y2="157.9" stroke="#d8d8d8" stroke-width="0.4"/>
<line x1="315.5" y1="180.2" x2="327.3" y2="191.5" stroke="#d8d8d8" stroke-width="0.4"/>
<line x1="377.4" y1="90.2" x2="342" y2="112.9" stroke="#d8d8d8" stroke-width="0.4"/>
<line x1="392" y1="81.4" x2="377.4" y2="90.2" stroke="#d8d8d8" stroke-width="0.4"/>
<line x1="301.3" y1="117.9" x2="342" y2="112.9" stroke="#333" stroke-width="0.6"/>
<line x1="326.1" y1="161.4" x2="327.5" y2="169.5" stroke="#222" stroke-width="0.6"/>
<line x1="290.8" y1="173.5" x2="298.6" y2="162" stroke="#e8202a" stroke-width="0.7"/>
<circle cx="366.8" cy="39.9" r="2.6" fill="#f2a091" stroke="#707070" stroke-width="0.55"/>
<circle cx="379.2" cy="42.6" r="2.6" fill="#f2a091" stroke="#707070" stroke-width="0.55"/>
<circle cx="404.4" cy="41.5" r="2.2" fill="#f2a091" stroke="#707070" stroke-width="0.55"/>
<circle cx="418" cy="52.5" r="2.3" fill="#f2a091" stroke="#707070" stroke-width="0.55"/>
<circle cx="392" cy="57" r="3.4" fill="#f2a091" stroke="#707070" stroke-width="0.55"/>
<circle cx="370.9" cy="59.9" r="2.7" fill="#f2a091" stroke="#707070" stroke-width="0.55"/>
<circle cx="375.3" cy="72.6" r="2.7" fill="#f2a091" stroke="#707070" stroke-width="0.55"/>
<circle cx="392" cy="81.4" r="3.4" fill="#f2a091" stroke="#707070" stroke-width="0.55"/>
<circle cx="418.1" cy="79.6" r="2.4" fill="#f2a091" stroke="#707070" stroke-width="0.55"/>
<circle cx="429.1" cy="90.5" r="2.6" fill="#f2a091" stroke="#707070" stroke-width="0.55"/>
<circle cx="377.4" cy="90.2" r="3.0" fill="#f2a091" stroke="#707070" stroke-width="0.55"/>
<circle cx="405.3" cy="94.6" r="2.6" fill="#f2a091" stroke="#707070" stroke-width="0.55"/>
<circle cx="363.3" cy="101.5" r="2.9" fill="#f2a091" stroke="#707070" stroke-width="0.55"/>
<circle cx="301.3" cy="117.9" r="4.1" fill="#6ec8b2" stroke="#707070" stroke-width="0.55"/>
<circle cx="342" cy="112.9" r="4.5" fill="#6ec8b2" stroke="#707070" stroke-width="0.55"/>
<circle cx="321.7" cy="128.4" r="3.3" fill="#6ec8b2" stroke="#707070" stroke-width="0.55"/>
<circle cx="305" cy="132" r="3.3" fill="#6ec8b2" stroke="#707070" stroke-width="0.55"/>
<circle cx="291.4" cy="138" r="3.3" fill="#6ec8b2" stroke="#707070" stroke-width="0.55"/>
<circle cx="319.6" cy="141.7" r="4.0" fill="#6ec8b2" stroke="#707070" stroke-width="0.55"/>
<circle cx="332" cy="140.8" r="3.5" fill="#6ec8b2" stroke="#707070" stroke-width="0.55"/>
<circle cx="348.2" cy="142" r="3.5" fill="#6ec8b2" stroke="#707070" stroke-width="0.55"/>
<circle cx="297.4" cy="144.7" r="3.5" fill="#6ec8b2" stroke="#707070" stroke-width="0.55"/>
<circle cx="320.8" cy="149.4" r="3.0" fill="#6ec8b2" stroke="#707070" stroke-width="0.55"/>
<circle cx="340.2" cy="150" r="3.3" fill="#6ec8b2" stroke="#707070" stroke-width="0.55"/>
<circle cx="301.1" cy="157" r="3.3" fill="#6ec8b2" stroke="#707070" stroke-width="0.55"/>
<circle cx="317.3" cy="157.9" r="3.3" fill="#6ec8b2" stroke="#707070" stroke-width="0.55"/>
<circle cx="326.1" cy="161.4" r="3.3" fill="#6ec8b2" stroke="#707070" stroke-width="0.55"/>
<circle cx="339.4" cy="162.3" r="3.5" fill="#6ec8b2" stroke="#707070" stroke-width="0.55"/>
<circle cx="312.9" cy="99.7" r="2.3" fill="#a6dbe8" stroke="#707070" stroke-width="0.55"/>
<circle cx="269.7" cy="153.7" r="2.0" fill="#a6dbe8" stroke="#707070" stroke-width="0.55"/>
<circle cx="377.7" cy="150.5" r="1.5" fill="#a6dbe8" stroke="#707070" stroke-width="0.55"/>
<circle cx="315.5" cy="180.2" r="2.4" fill="#98a4c4" stroke="#707070" stroke-width="0.55"/>
<circle cx="327.3" cy="191.5" r="3.0" fill="#98a4c4" stroke="#707070" stroke-width="0.55"/>
<circle cx="288.9" cy="193.3" r="2.7" fill="#98a4c4" stroke="#707070" stroke-width="0.55"/>
<circle cx="272.3" cy="207" r="3.3" fill="#98a4c4" stroke="#707070" stroke-width="0.55"/>
<circle cx="316.5" cy="209.6" r="4.2" fill="#98a4c4" stroke="#707070" stroke-width="0.55"/>
<circle cx="257.7" cy="220.8" r="3.3" fill="#98a4c4" stroke="#707070" stroke-width="0.55"/>
<circle cx="301.8" cy="222.1" r="2.3" fill="#98a4c4" stroke="#707070" stroke-width="0.55"/>
<circle cx="280.8" cy="222.1" r="3.0" fill="#98a4c4" stroke="#707070" stroke-width="0.55"/>
<circle cx="343.8" cy="195.7" r="2.8" fill="#98a4c4" stroke="#707070" stroke-width="0.55"/>
<circle cx="340.1" cy="217.2" r="1.7" fill="#98a4c4" stroke="#707070" stroke-width="0.55"/>
<circle cx="351.4" cy="225.4" r="2.5" fill="#98a4c4" stroke="#707070" stroke-width="0.55"/>
<circle cx="328.3" cy="226.8" r="2.2" fill="#98a4c4" stroke="#707070" stroke-width="0.55"/>
<circle cx="301.7" cy="235" r="2.7" fill="#98a4c4" stroke="#707070" stroke-width="0.55"/>
<circle cx="271.7" cy="238" r="3.8" fill="#98a4c4" stroke="#707070" stroke-width="0.55"/>
<text x="357.30" y="38.42" font-size="7" text-anchor="middle" font-weight="bold" fill="#111">Mcc</text>
<text x="387.60" y="50.72" font-size="7" text-anchor="middle" font-weight="bold" fill="#111">Trim9</text>
<text x="409.00" y="38.72" font-size="7" text-anchor="middle" font-weight="bold" fill="#111">Nckap5</text>
<text x="422.60" y="49.82" font-size="7" text-anchor="middle" font-weight="bold" fill="#111">Dock1</text>
<text x="396.60" y="64.82" font-size="7" text-anchor="middle" font-weight="bold" fill="#e8202a">Npas3</text>
<text x="362.30" y="56.92" font-size="7" text-anchor="middle" font-weight="bold" fill="#111">Fmnl2</text>
<text x="369.60" y="69.82" font-size="7" text-anchor="middle" font-weight="bold" fill="#111">Rgs20</text>
<text x="393.30" y="78.62" font-size="7" text-anchor="middle" font-weight="bold" fill="#111">Oxr1</text>
<text x="415.90" y="76.82" font-size="7" text-anchor="middle" font-weight="bold" fill="#111">Stat3</text>
<text x="415.10" y="89.52" font-size="7" text-anchor="middle" font-weight="bold" fill="#111">Shisa6</text>
<text x="372.80" y="98.72" font-size="7" text-anchor="middle" font-weight="bold" fill="#111">Ano6</text>
<text x="400.80" y="103.32" font-size="7" text-anchor="middle" font-weight="bold" fill="#111">Nav2</text>
<text x="359.20" y="109.82" font-size="7" text-anchor="middle" font-weight="bold" fill="#111">Rhoj</text>
<text x="289.10" y="119.02" font-size="7" text-anchor="middle" font-weight="bold" fill="#111">Mt1</text>
<text x="337.10" y="120.72" font-size="7" text-anchor="middle" font-weight="bold" fill="#111">Mt2</text>
<text x="325.40" y="125.72" font-size="7" text-anchor="middle" font-weight="bold" fill="#111">Timp1</text>
<text x="296.60" y="129.52" font-size="7" text-anchor="middle" font-weight="bold" fill="#111">S100a11</text>
<text x="275.00" y="140.12" font-size="7" text-anchor="middle" font-weight="bold" fill="#111">S100a10</text>
<text x="308.20" y="140.12" font-size="7" text-anchor="middle" font-weight="bold" fill="#e8202a">Apoe</text>
<text x="334.90" y="137.52" font-size="7" text-anchor="middle" font-weight="bold" fill="#111">Tubb2b</text>
<text x="363.40" y="148.02" font-size="7" text-anchor="middle" font-weight="bold" fill="#111">S100a6</text>
<text x="301.90" y="153.02" font-size="7" text-anchor="middle" font-weight="bold" fill="#111">S100a16</text>
<text x="351.10" y="158.22" font-size="7" text-anchor="middle" font-weight="bold" fill="#111">Mrps6</text>
<text x="301.70" y="165.72" font-size="7" text-anchor="middle" font-weight="bold" fill="#111">Hsd17b4</text>
<text x="328.50" y="157.82" font-size="7" text-anchor="middle" font-weight="bold" fill="#111">Mt3</text>
<text x="328.10" y="176.32" font-size="7" text-anchor="middle" font-weight="bold" fill="#111">Cd63</text>
<text x="348.90" y="169.62" font-size="7" text-anchor="middle" font-weight="bold" fill="#111">Cd9</text>
<text x="308.00" y="108.42" font-size="7" text-anchor="middle" font-weight="bold" fill="#111">Tmbim1</text>
<text x="265.30" y="161.92" font-size="7" text-anchor="middle" font-weight="bold" fill="#111">Slc16a1</text>
<text x="382.10" y="158.52" font-size="7" text-anchor="middle" font-weight="bold" fill="#111">Tm4sf1</text>
<text x="307.90" y="177.82" font-size="7" text-anchor="middle" font-weight="bold" fill="#111">Clu</text>
<text x="322.50" y="188.72" font-size="7" text-anchor="middle" font-weight="bold" fill="#111">Mlc1</text>
<text x="284.30" y="190.12" font-size="7" text-anchor="middle" font-weight="bold" fill="#111">Cpe</text>
<text x="277.00" y="204.22" font-size="7" text-anchor="middle" font-weight="bold" fill="#e8202a">Ndrg2</text>
<text x="312.00" y="206.32" font-size="7" text-anchor="middle" font-weight="bold" fill="#e8202a">Sparcl1</text>
<text x="262.50" y="218.02" font-size="7" text-anchor="middle" font-weight="bold" fill="#111">Gja1</text>
<text x="306.30" y="219.62" font-size="7" text-anchor="middle" font-weight="bold" fill="#111">Cldn10</text>
<text x="285.20" y="230.12" font-size="7" text-anchor="middle" font-weight="bold" fill="#111">Pla2g7</text>
<text x="348.80" y="203.72" font-size="7" text-anchor="middle" font-weight="bold" fill="#e8202a">Aqp4</text>
<text x="344.20" y="214.62" font-size="7" text-anchor="middle" font-weight="bold" fill="#111">Mgst1</text>
<text x="356.70" y="234.02" font-size="7" text-anchor="middle" font-weight="bold" fill="#111">Bcan</text>
<text x="324.10" y="235.42" font-size="7" text-anchor="middle" font-weight="bold" fill="#111">Ntsr2</text>
<text x="297.00" y="243.22" font-size="7" text-anchor="middle" font-weight="bold" fill="#111">Nkain4</text>
<text x="263.00" y="245.22" font-size="7" text-anchor="middle" font-weight="bold" fill="#111">Agt</text>
<text x="281.30" y="176.92" font-size="7" text-anchor="middle" font-weight="bold" fill="#e8202a">Gfap</text>
<text x="461.80" y="10.30" font-size="13.5" text-anchor="start" font-weight="bold">c</text>
<line x1="488.7" y1="12.5" x2="488.7" y2="106.9" stroke="#222" stroke-width="1"/>
<line x1="488.2" y1="106.5" x2="662" y2="106.5" stroke="#222" stroke-width="1"/>
<line x1="485.8" y1="102.3" x2="488.7" y2="102.3" stroke="#222" stroke-width="0.6"/>
<text x="482.30" y="104.82" font-size="7" text-anchor="end">0</text>
<line x1="485.8" y1="76.9" x2="488.7" y2="76.9" stroke="#222" stroke-width="0.6"/>
<text x="482.30" y="79.47" font-size="7" text-anchor="end">10</text>
<line x1="485.8" y1="51.6" x2="488.7" y2="51.6" stroke="#222" stroke-width="0.6"/>
<text x="482.30" y="54.12" font-size="7" text-anchor="end">20</text>
<line x1="485.8" y1="26.2" x2="488.7" y2="26.2" stroke="#222" stroke-width="0.6"/>
<text x="482.30" y="28.77" font-size="7" text-anchor="end">30</text>
<text x="465.30" y="63.59" font-size="7.2" text-anchor="middle" transform="rotate(-90 465.30 61.00)">Number of DEGs</text>
<line x1="496.5" y1="106.5" x2="496.5" y2="109" stroke="#222" stroke-width="0.6"/>
<line x1="496.5" y1="21.2" x2="496.5" y2="74.4" stroke="#333" stroke-width="0.7"/>
<path d="M491.3,38.9 L501.7,38.9 L501.7,48.6 L499.3,54.1 L501.7,59.5 L501.7,61.7 L491.3,61.7 L491.3,59.5 L493.7,54.1 L491.3,48.6 Z" fill="#f1c21b" stroke="#333" stroke-width="0.7"/>
<line x1="493.7" y1="54.1" x2="499.3" y2="54.1" stroke="#333" stroke-width="0.9"/>
<text x="499.00" y="115.02" font-size="7" text-anchor="end" transform="rotate(-45 499.00 112.50)">Astro</text>
<line x1="509.6" y1="106.5" x2="509.6" y2="109" stroke="#222" stroke-width="0.6"/>
<line x1="509.6" y1="44.0" x2="509.6" y2="102.3" stroke="#333" stroke-width="0.7"/>
<path d="M504.4,74.4 L514.8,74.4 L514.8,83.3 L512.8,90.9 L514.8,97.2 L514.8,99.8 L504.4,99.8 L504.4,97.2 L506.4,90.9 L504.4,83.3 Z" fill="#3c3c3c" stroke="#333" stroke-width="0.7"/>
<line x1="506.4" y1="90.9" x2="512.8" y2="90.9" stroke="#333" stroke-width="0.9"/>
<circle cx="509.6" cy="23.7" r="1.85" fill="#2a2a2a"/>
<text x="512.10" y="115.02" font-size="7" text-anchor="end" transform="rotate(-45 512.10 112.50)">Olig</text>
<line x1="522.7" y1="106.5" x2="522.7" y2="109" stroke="#222" stroke-width="0.6"/>
<line x1="522.7" y1="69.3" x2="522.7" y2="102.3" stroke="#333" stroke-width="0.7"/>
<path d="M517.5,87.1 L527.9,87.1 L527.9,93.2 L525.9,97.2 L527.9,99.3 L527.9,99.8 L517.5,99.8 L517.5,99.3 L519.5,97.2 L517.5,93.2 Z" fill="#857022" stroke="#333" stroke-width="0.7"/>
<line x1="519.5" y1="97.2" x2="525.9" y2="97.2" stroke="#333" stroke-width="0.9"/>
<circle cx="522.7" cy="16.1" r="1.85" fill="#2a2a2a"/>
<circle cx="522.7" cy="44.0" r="1.85" fill="#2a2a2a"/>
<circle cx="522.7" cy="46.0" r="1.85" fill="#2a2a2a"/>
<circle cx="522.7" cy="48.1" r="1.85" fill="#2a2a2a"/>
<circle cx="522.7" cy="64.3" r="1.85" fill="#2a2a2a"/>
<circle cx="522.7" cy="66.3" r="1.85" fill="#2a2a2a"/>
<circle cx="522.7" cy="68.3" r="1.85" fill="#2a2a2a"/>
<text x="525.20" y="115.02" font-size="7" text-anchor="end" transform="rotate(-45 525.20 112.50)">Micro</text>
<line x1="535.8" y1="106.5" x2="535.8" y2="109" stroke="#222" stroke-width="0.6"/>
<line x1="535.8" y1="79.5" x2="535.8" y2="102.3" stroke="#444" stroke-width="0.7"/>
<path d="M530.6,88.4 L541.0,88.4 L541.0,91.7 L539.0,94.7 L541.0,97.2 L541.0,97.2 L530.6,97.2 L530.6,97.2 L532.6,94.7 L530.6,91.7 Z" fill="#ffffff" stroke="#444" stroke-width="0.7"/>
<line x1="532.6" y1="94.7" x2="539.0" y2="94.7" stroke="#444" stroke-width="0.9"/>
<circle cx="535.8" cy="59.2" r="1.85" fill="#2a2a2a"/>
<circle cx="535.8" cy="63.0" r="1.85" fill="#2a2a2a"/>
<circle cx="535.8" cy="64.8" r="1.85" fill="#2a2a2a"/>
<circle cx="535.8" cy="66.8" r="1.85" fill="#2a2a2a"/>
<circle cx="535.8" cy="68.6" r="1.85" fill="#2a2a2a"/>
<circle cx="535.8" cy="70.4" r="1.85" fill="#2a2a2a"/>
<circle cx="535.8" cy="72.1" r="1.85" fill="#2a2a2a"/>
<circle cx="535.8" cy="73.9" r="1.85" fill="#2a2a2a"/>
<circle cx="535.8" cy="75.7" r="1.85" fill="#2a2a2a"/>
<text x="538.30" y="115.02" font-size="7" text-anchor="end" transform="rotate(-45 538.30 112.50)">Tany</text>
<line x1="548.9" y1="106.5" x2="548.9" y2="109" stroke="#222" stroke-width="0.6"/>
<line x1="548.9" y1="84.6" x2="548.9" y2="99.8" stroke="#333" stroke-width="0.7"/>
<path d="M543.7,90.9 L554.1,90.9 L554.1,92.4 L552.1,94.2 L554.1,95.5 L554.1,96.0 L543.7,96.0 L543.7,95.5 L545.7,94.2 L543.7,92.4 Z" fill="#8c8c8c" stroke="#333" stroke-width="0.7"/>
<line x1="545.7" y1="94.2" x2="552.1" y2="94.2" stroke="#333" stroke-width="0.9"/>
<circle cx="548.9" cy="56.7" r="1.85" fill="#2a2a2a"/>
<circle cx="548.9" cy="61.2" r="1.85" fill="#2a2a2a"/>
<circle cx="548.9" cy="64.3" r="1.85" fill="#2a2a2a"/>
<circle cx="548.9" cy="66.0" r="1.85" fill="#2a2a2a"/>
<circle cx="548.9" cy="67.8" r="1.85" fill="#2a2a2a"/>
<circle cx="548.9" cy="69.6" r="1.85" fill="#2a2a2a"/>
<circle cx="548.9" cy="71.4" r="1.85" fill="#2a2a2a"/>
<circle cx="548.9" cy="73.1" r="1.85" fill="#2a2a2a"/>
<circle cx="548.9" cy="74.9" r="1.85" fill="#2a2a2a"/>
<circle cx="548.9" cy="76.7" r="1.85" fill="#2a2a2a"/>
<circle cx="548.9" cy="78.5" r="1.85" fill="#2a2a2a"/>
<text x="551.40" y="115.02" font-size="7" text-anchor="end" transform="rotate(-45 551.40 112.50)">COP</text>
<line x1="562.0" y1="106.5" x2="562.0" y2="109" stroke="#222" stroke-width="0.6"/>
<line x1="562.0" y1="98.5" x2="562.0" y2="101.0" stroke="#333" stroke-width="0.7"/>
<line x1="556.8" y1="99.8" x2="567.2" y2="99.8" stroke="#333" stroke-width="1"/>
<circle cx="562.0" cy="87.1" r="1.85" fill="#2a2a2a"/>
<circle cx="562.0" cy="94.7" r="1.85" fill="#2a2a2a"/>
<circle cx="562.0" cy="96.5" r="1.85" fill="#2a2a2a"/>
<text x="564.50" y="115.02" font-size="7" text-anchor="end" transform="rotate(-45 564.50 112.50)">OPC</text>
<line x1="575.1" y1="106.5" x2="575.1" y2="109" stroke="#222" stroke-width="0.6"/>
<line x1="575.1" y1="94.7" x2="575.1" y2="102.3" stroke="#333" stroke-width="0.7"/>
<rect x="569.9" y="98.5" width="10.4" height="3.0" fill="#7aa6dc" stroke="#333" stroke-width="0.7"/>
<circle cx="575.1" cy="89.6" r="1.85" fill="#2a2a2a"/>
<circle cx="575.1" cy="91.4" r="1.85" fill="#2a2a2a"/>
<circle cx="575.1" cy="93.2" r="1.85" fill="#2a2a2a"/>
<text x="577.60" y="115.02" font-size="7" text-anchor="end" transform="rotate(-45 577.60 112.50)">Epend</text>
<line x1="588.2" y1="106.5" x2="588.2" y2="109" stroke="#222" stroke-width="0.6"/>
<line x1="588.2" y1="102.3" x2="588.2" y2="102.3" stroke="#333" stroke-width="0.7"/>
<line x1="583.0" y1="102.3" x2="593.4" y2="102.3" stroke="#333" stroke-width="1"/>
<circle cx="588.2" cy="94.7" r="1.85" fill="#2a2a2a"/>
<circle cx="588.2" cy="96.5" r="1.85" fill="#2a2a2a"/>
<circle cx="588.2" cy="98.2" r="1.85" fill="#2a2a2a"/>
<circle cx="588.2" cy="100.0" r="1.85" fill="#2a2a2a"/>
<text x="590.70" y="115.02" font-size="7" text-anchor="end" transform="rotate(-45 590.70 112.50)">Endo</text>
<line x1="601.3" y1="106.5" x2="601.3" y2="109" stroke="#222" stroke-width="0.6"/>
<line x1="601.3" y1="102.3" x2="601.3" y2="102.3" stroke="#333" stroke-width="0.7"/>
<line x1="596.1" y1="102.3" x2="606.5" y2="102.3" stroke="#333" stroke-width="1"/>
<circle cx="601.3" cy="94.7" r="1.85" fill="#2a2a2a"/>
<circle cx="601.3" cy="96.5" r="1.85" fill="#2a2a2a"/>
<circle cx="601.3" cy="98.2" r="1.85" fill="#2a2a2a"/>
<circle cx="601.3" cy="100.0" r="1.85" fill="#2a2a2a"/>
<text x="603.80" y="115.02" font-size="7" text-anchor="end" transform="rotate(-45 603.80 112.50)">Macro</text>
<line x1="614.4" y1="106.5" x2="614.4" y2="109" stroke="#222" stroke-width="0.6"/>
<line x1="614.4" y1="102.3" x2="614.4" y2="102.3" stroke="#333" stroke-width="0.7"/>
<line x1="609.2" y1="102.3" x2="619.6" y2="102.3" stroke="#333" stroke-width="1"/>
<circle cx="614.4" cy="97.2" r="1.85" fill="#2a2a2a"/>
<circle cx="614.4" cy="99.0" r="1.85" fill="#2a2a2a"/>
<circle cx="614.4" cy="100.5" r="1.85" fill="#2a2a2a"/>
<text x="616.90" y="115.02" font-size="7" text-anchor="end" transform="rotate(-45 616.90 112.50)">Peri</text>
<line x1="627.5" y1="106.5" x2="627.5" y2="109" stroke="#222" stroke-width="0.6"/>
<line x1="627.5" y1="102.3" x2="627.5" y2="102.3" stroke="#333" stroke-width="0.7"/>
<line x1="622.3" y1="102.3" x2="632.7" y2="102.3" stroke="#333" stroke-width="1"/>
<text x="630.00" y="115.02" font-size="7" text-anchor="end" transform="rotate(-45 630.00 112.50)">ABC</text>
<line x1="640.6" y1="106.5" x2="640.6" y2="109" stroke="#222" stroke-width="0.6"/>
<line x1="640.6" y1="102.3" x2="640.6" y2="102.3" stroke="#333" stroke-width="0.7"/>
<line x1="635.4" y1="102.3" x2="645.8" y2="102.3" stroke="#333" stroke-width="1"/>
<text x="643.10" y="115.02" font-size="7" text-anchor="end" transform="rotate(-45 643.10 112.50)">SMC</text>
<line x1="653.7" y1="106.5" x2="653.7" y2="109" stroke="#222" stroke-width="0.6"/>
<line x1="653.7" y1="102.3" x2="653.7" y2="102.3" stroke="#333" stroke-width="0.7"/>
<line x1="648.5" y1="102.3" x2="658.9" y2="102.3" stroke="#333" stroke-width="1"/>
<text x="656.20" y="115.02" font-size="7" text-anchor="end" transform="rotate(-45 656.20 112.50)">VLMC</text>
<text x="461.80" y="156.30" font-size="13.5" text-anchor="start" font-weight="bold">d</text>
<line x1="489.6" y1="155.8" x2="489.6" y2="253.8" stroke="#222" stroke-width="1"/>
<line x1="489.1" y1="253.3" x2="661.7" y2="253.3" stroke="#222" stroke-width="1"/>
<line x1="487" y1="248.8" x2="489.6" y2="248.8" stroke="#222" stroke-width="0.6"/>
<text x="484.60" y="251.32" font-size="7" text-anchor="end">0</text>
<line x1="487" y1="218.3" x2="489.6" y2="218.3" stroke="#222" stroke-width="0.6"/>
<text x="484.60" y="220.82" font-size="7" text-anchor="end">10</text>
<line x1="487" y1="187.8" x2="489.6" y2="187.8" stroke="#222" stroke-width="0.6"/>
<text x="484.60" y="190.32" font-size="7" text-anchor="end">20</text>
<line x1="487" y1="157.3" x2="489.6" y2="157.3" stroke="#222" stroke-width="0.6"/>
<text x="484.60" y="159.82" font-size="7" text-anchor="end">30</text>
<line x1="507.9" y1="253.3" x2="507.9" y2="256" stroke="#222" stroke-width="0.6"/>
<text x="507.90" y="264.12" font-size="7" text-anchor="middle">−2</text>
<line x1="561.6" y1="253.3" x2="561.6" y2="256" stroke="#222" stroke-width="0.6"/>
<text x="561.60" y="264.12" font-size="7" text-anchor="middle">0</text>
<line x1="615.3" y1="253.3" x2="615.3" y2="256" stroke="#222" stroke-width="0.6"/>
<text x="615.30" y="264.12" font-size="7" text-anchor="middle">2</text>
<text x="574.00" y="276.62" font-size="7" text-anchor="middle">Log<tspan font-size="4.5" dy="1.5">2</tspan><tspan dy="-1.5"> fold change</tspan></text>
<text x="466.00" y="208.52" font-size="7" text-anchor="middle" transform="rotate(-90 466.00 206.00)">−Log<tspan font-size="4.5" dy="1.5">10</tspan><tspan dy="-1.5"> </tspan><tspan font-style="italic">p</tspan> value</text>
<circle cx="512.0" cy="244.8" r="2.5" fill="#f04c4c" stroke="#5a1414" stroke-width="0.5"/>
<circle cx="496.8" cy="244.8" r="2.5" fill="#f04c4c" stroke="#5a1414" stroke-width="0.5"/>
<circle cx="506.3" cy="244.8" r="2.5" fill="#f04c4c" stroke="#5a1414" stroke-width="0.5"/>
<circle cx="602.0" cy="244.7" r="2.5" fill="#f04c4c" stroke="#5a1414" stroke-width="0.5"/>
<circle cx="584.1" cy="244.7" r="2.5" fill="#f04c4c" stroke="#5a1414" stroke-width="0.5"/>
<circle cx="501.1" cy="244.7" r="2.5" fill="#f04c4c" stroke="#5a1414" stroke-width="0.5"/>
<circle cx="584.1" cy="244.7" r="2.5" fill="#f04c4c" stroke="#5a1414" stroke-width="0.5"/>
<circle cx="498.9" cy="244.7" r="2.5" fill="#f04c4c" stroke="#5a1414" stroke-width="0.5"/>
<circle cx="511.8" cy="244.6" r="2.5" fill="#f04c4c" stroke="#5a1414" stroke-width="0.5"/>
<circle cx="501.3" cy="244.6" r="2.5" fill="#f04c4c" stroke="#5a1414" stroke-width="0.5"/>
<circle cx="498.6" cy="244.6" r="2.5" fill="#f04c4c" stroke="#5a1414" stroke-width="0.5"/>
<circle cx="575.7" cy="244.6" r="2.5" fill="#f04c4c" stroke="#5a1414" stroke-width="0.5"/>
<circle cx="499.6" cy="244.6" r="2.5" fill="#f04c4c" stroke="#5a1414" stroke-width="0.5"/>
<circle cx="524.5" cy="244.6" r="2.5" fill="#f04c4c" stroke="#5a1414" stroke-width="0.5"/>
<circle cx="503.8" cy="244.6" r="2.5" fill="#f04c4c" stroke="#5a1414" stroke-width="0.5"/>
<circle cx="498.0" cy="244.5" r="2.5" fill="#f04c4c" stroke="#5a1414" stroke-width="0.5"/>
<circle cx="497.0" cy="244.5" r="2.5" fill="#f04c4c" stroke="#5a1414" stroke-width="0.5"/>
<circle cx="497.4" cy="244.5" r="2.5" fill="#f04c4c" stroke="#5a1414" stroke-width="0.5"/>
<circle cx="497.3" cy="244.5" r="2.5" fill="#f04c4c" stroke="#5a1414" stroke-width="0.5"/>
<circle cx="624.4" cy="244.5" r="2.5" fill="#f04c4c" stroke="#5a1414" stroke-width="0.5"/>
<circle cx="619.4" cy="244.5" r="2.5" fill="#f04c4c" stroke="#5a1414" stroke-width="0.5"/>
<circle cx="499.1" cy="244.5" r="2.5" fill="#f04c4c" stroke="#5a1414" stroke-width="0.5"/>
<circle cx="618.4" cy="244.4" r="2.5" fill="#f04c4c" stroke="#5a1414" stroke-width="0.5"/>
<circle cx="509.2" cy="244.3" r="2.5" fill="#f04c4c" stroke="#5a1414" stroke-width="0.5"/>
<circle cx="522.9" cy="244.3" r="2.5" fill="#f04c4c" stroke="#5a1414" stroke-width="0.5"/>
<circle cx="577.8" cy="244.3" r="2.5" fill="#f04c4c" stroke="#5a1414" stroke-width="0.5"/>
<circle cx="539.2" cy="244.3" r="2.5" fill="#f04c4c" stroke="#5a1414" stroke-width="0.5"/>
<circle cx="498.5" cy="244.3" r="2.5" fill="#f04c4c" stroke="#5a1414" stroke-width="0.5"/>
<circle cx="579.8" cy="244.2" r="2.5" fill="#f04c4c" stroke="#5a1414" stroke-width="0.5"/>
<circle cx="517.0" cy="244.1" r="2.5" fill="#f04c4c" stroke="#5a1414" stroke-width="0.5"/>
<circle cx="581.3" cy="244.1" r="2.5" fill="#f04c4c" stroke="#5a1414" stroke-width="0.5"/>
<circle cx="577.8" cy="244.1" r="2.5" fill="#f04c4c" stroke="#5a1414" stroke-width="0.5"/>
<circle cx="508.3" cy="244.0" r="2.5" fill="#f04c4c" stroke="#5a1414" stroke-width="0.5"/>
<circle cx="503.7" cy="244.0" r="2.5" fill="#f04c4c" stroke="#5a1414" stroke-width="0.5"/>
<circle cx="518.5" cy="243.9" r="2.5" fill="#f04c4c" stroke="#5a1414" stroke-width="0.5"/>
<circle cx="612.3" cy="243.9" r="2.5" fill="#f04c4c" stroke="#5a1414" stroke-width="0.5"/>
<circle cx="501.2" cy="243.9" r="2.5" fill="#f04c4c" stroke="#5a1414" stroke-width="0.5"/>
<circle cx="575.0" cy="243.9" r="2.5" fill="#f04c4c" stroke="#5a1414" stroke-width="0.5"/>
<circle cx="509.4" cy="243.9" r="2.5" fill="#f04c4c" stroke="#5a1414" stroke-width="0.5"/>
<circle cx="503.4" cy="243.9" r="2.5" fill="#f04c4c" stroke="#5a1414" stroke-width="0.5"/>
<circle cx="498.3" cy="243.7" r="2.5" fill="#f04c4c" stroke="#5a1414" stroke-width="0.5"/>
<circle cx="529.0" cy="243.7" r="2.5" fill="#f04c4c" stroke="#5a1414" stroke-width="0.5"/>
<circle cx="623.5" cy="243.7" r="2.5" fill="#f04c4c" stroke="#5a1414" stroke-width="0.5"/>
<circle cx="509.5" cy="243.7" r="2.5" fill="#f04c4c" stroke="#5a1414" stroke-width="0.5"/>
<circle cx="577.7" cy="243.7" r="2.5" fill="#f04c4c" stroke="#5a1414" stroke-width="0.5"/>
<circle cx="516.4" cy="243.7" r="2.5" fill="#f04c4c" stroke="#5a1414" stroke-width="0.5"/>
<circle cx="509.0" cy="243.6" r="2.5" fill="#f04c4c" stroke="#5a1414" stroke-width="0.5"/>
<circle cx="520.2" cy="243.6" r="2.5" fill="#f04c4c" stroke="#5a1414" stroke-width="0.5"/>
<circle cx="583.8" cy="243.6" r="2.5" fill="#f04c4c" stroke="#5a1414" stroke-width="0.5"/>
<circle cx="601.4" cy="243.6" r="2.5" fill="#f04c4c" stroke="#5a1414" stroke-width="0.5"/>
<circle cx="503.0" cy="243.6" r="2.5" fill="#f04c4c" stroke="#5a1414" stroke-width="0.5"/>
<circle cx="593.4" cy="243.5" r="2.5" fill="#f04c4c" stroke="#5a1414" stroke-width="0.5"/>
<circle cx="502.6" cy="243.5" r="2.5" fill="#f04c4c" stroke="#5a1414" stroke-width="0.5"/>
<circle cx="499.6" cy="243.5" r="2.5" fill="#f04c4c" stroke="#5a1414" stroke-width="0.5"/>
<circle cx="499.0" cy="243.5" r="2.5" fill="#f04c4c" stroke="#5a1414" stroke-width="0.5"/>
<circle cx="506.7" cy="243.5" r="2.5" fill="#f04c4c" stroke="#5a1414" stroke-width="0.5"/>
<circle cx="528.5" cy="243.4" r="2.5" fill="#f04c4c" stroke="#5a1414" stroke-width="0.5"/>
<circle cx="581.3" cy="243.4" r="2.5" fill="#f04c4c" stroke="#5a1414" stroke-width="0.5"/>
<circle cx="498.8" cy="243.4" r="2.5" fill="#f04c4c" stroke="#5a1414" stroke-width="0.5"/>
<circle cx="589.3" cy="243.4" r="2.5" fill="#f04c4c" stroke="#5a1414" stroke-width="0.5"/>
<circle cx="590.8" cy="243.3" r="2.5" fill="#f04c4c" stroke="#5a1414" stroke-width="0.5"/>
<circle cx="575.4" cy="243.3" r="2.5" fill="#f04c4c" stroke="#5a1414" stroke-width="0.5"/>
<circle cx="501.9" cy="243.2" r="2.5" fill="#f04c4c" stroke="#5a1414" stroke-width="0.5"/>
<circle cx="621.8" cy="243.2" r="2.5" fill="#f04c4c" stroke="#5a1414" stroke-width="0.5"/>
<circle cx="509.6" cy="243.2" r="2.5" fill="#f04c4c" stroke="#5a1414" stroke-width="0.5"/>
<circle cx="528.1" cy="243.1" r="2.5" fill="#f04c4c" stroke="#5a1414" stroke-width="0.5"/>
<circle cx="510.6" cy="243.1" r="2.5" fill="#f04c4c" stroke="#5a1414" stroke-width="0.5"/>
<circle cx="580.0" cy="243.1" r="2.5" fill="#f04c4c" stroke="#5a1414" stroke-width="0.5"/>
<circle cx="502.6" cy="243.1" r="2.5" fill="#f04c4c" stroke="#5a1414" stroke-width="0.5"/>
<circle cx="619.6" cy="243.1" r="2.5" fill="#f04c4c" stroke="#5a1414" stroke-width="0.5"/>
<circle cx="514.9" cy="243.1" r="2.5" fill="#f04c4c" stroke="#5a1414" stroke-width="0.5"/>
<circle cx="509.6" cy="243.0" r="2.5" fill="#f04c4c" stroke="#5a1414" stroke-width="0.5"/>
<circle cx="525.7" cy="243.0" r="2.5" fill="#f04c4c" stroke="#5a1414" stroke-width="0.5"/>
<circle cx="518.0" cy="243.0" r="2.5" fill="#f04c4c" stroke="#5a1414" stroke-width="0.5"/>
<circle cx="520.7" cy="242.9" r="2.5" fill="#f04c4c" stroke="#5a1414" stroke-width="0.5"/>
<circle cx="499.3" cy="242.9" r="2.5" fill="#f04c4c" stroke="#5a1414" stroke-width="0.5"/>
<circle cx="595.8" cy="242.8" r="2.5" fill="#f04c4c" stroke="#5a1414" stroke-width="0.5"/>
<circle cx="617.3" cy="242.8" r="2.5" fill="#f04c4c" stroke="#5a1414" stroke-width="0.5"/>
<circle cx="509.0" cy="242.8" r="2.5" fill="#f04c4c" stroke="#5a1414" stroke-width="0.5"/>
<circle cx="575.2" cy="242.8" r="2.5" fill="#f04c4c" stroke="#5a1414" stroke-width="0.5"/>
<circle cx="618.3" cy="242.8" r="2.5" fill="#f04c4c" stroke="#5a1414" stroke-width="0.5"/>
<circle cx="505.4" cy="242.8" r="2.5" fill="#f04c4c" stroke="#5a1414" stroke-width="0.5"/>
<circle cx="530.0" cy="242.7" r="2.5" fill="#f04c4c" stroke="#5a1414" stroke-width="0.5"/>
<circle cx="524.9" cy="242.7" r="2.5" fill="#f04c4c" stroke="#5a1414" stroke-width="0.5"/>
<circle cx="513.6" cy="242.7" r="2.5" fill="#f04c4c" stroke="#5a1414" stroke-width="0.5"/>
<circle cx="617.1" cy="242.7" r="2.5" fill="#f04c4c" stroke="#5a1414" stroke-width="0.5"/>
<circle cx="504.3" cy="242.6" r="2.5" fill="#f04c4c" stroke="#5a1414" stroke-width="0.5"/>
<circle cx="619.6" cy="242.6" r="2.5" fill="#f04c4c" stroke="#5a1414" stroke-width="0.5"/>
<circle cx="502.5" cy="242.6" r="2.5" fill="#f04c4c" stroke="#5a1414" stroke-width="0.5"/>
<circle cx="545.6" cy="242.6" r="2.5" fill="#f04c4c" stroke="#5a1414" stroke-width="0.5"/>
<circle cx="506.1" cy="242.6" r="2.5" fill="#f04c4c" stroke="#5a1414" stroke-width="0.5"/>
<circle cx="621.2" cy="242.6" r="2.5" fill="#f04c4c" stroke="#5a1414" stroke-width="0.5"/>
<circle cx="620.0" cy="242.6" r="2.5" fill="#f04c4c" stroke="#5a1414" stroke-width="0.5"/>
<circle cx="536.6" cy="242.5" r="2.5" fill="#f04c4c" stroke="#5a1414" stroke-width="0.5"/>
<circle cx="503.5" cy="242.5" r="2.5" fill="#f04c4c" stroke="#5a1414" stroke-width="0.5"/>
<circle cx="509.8" cy="242.5" r="2.5" fill="#f04c4c" stroke="#5a1414" stroke-width="0.5"/>
<circle cx="578.5" cy="242.4" r="2.5" fill="#f04c4c" stroke="#5a1414" stroke-width="0.5"/>
<circle cx="610.0" cy="242.4" r="2.5" fill="#f04c4c" stroke="#5a1414" stroke-width="0.5"/>
<circle cx="518.9" cy="242.4" r="2.5" fill="#f04c4c" stroke="#5a1414" stroke-width="0.5"/>
<circle cx="581.3" cy="242.3" r="2.5" fill="#f04c4c" stroke="#5a1414" stroke-width="0.5"/>
<circle cx="619.0" cy="242.3" r="2.5" fill="#f04c4c" stroke="#5a1414" stroke-width="0.5"/>
<circle cx="502.0" cy="242.3" r="2.5" fill="#f04c4c" stroke="#5a1414" stroke-width="0.5"/>
<circle cx="623.3" cy="242.2" r="2.5" fill="#f04c4c" stroke="#5a1414" stroke-width="0.5"/>
<circle cx="575.8" cy="242.2" r="2.5" fill="#f04c4c" stroke="#5a1414" stroke-width="0.5"/>
<circle cx="511.8" cy="242.2" r="2.5" fill="#f04c4c" stroke="#5a1414" stroke-width="0.5"/>
<circle cx="615.9" cy="242.2" r="2.5" fill="#f04c4c" stroke="#5a1414" stroke-width="0.5"/>
<circle cx="501.3" cy="242.1" r="2.5" fill="#f04c4c" stroke="#5a1414" stroke-width="0.5"/>
<circle cx="617.4" cy="242.1" r="2.5" fill="#f04c4c" stroke="#5a1414" stroke-width="0.5"/>
<circle cx="578.6" cy="242.1" r="2.5" fill="#f04c4c" stroke="#5a1414" stroke-width="0.5"/>
<circle cx="601.5" cy="242.1" r="2.5" fill="#f04c4c" stroke="#5a1414" stroke-width="0.5"/>
<circle cx="608.2" cy="242.1" r="2.5" fill="#f04c4c" stroke="#5a1414" stroke-width="0.5"/>
<circle cx="499.6" cy="242.0" r="2.5" fill="#f04c4c" stroke="#5a1414" stroke-width="0.5"/>
<circle cx="545.4" cy="241.9" r="2.5" fill="#f04c4c" stroke="#5a1414" stroke-width="0.5"/>
<circle cx="610.2" cy="241.9" r="2.5" fill="#f04c4c" stroke="#5a1414" stroke-width="0.5"/>
<circle cx="620.0" cy="241.9" r="2.5" fill="#f04c4c" stroke="#5a1414" stroke-width="0.5"/>
<circle cx="609.1" cy="241.9" r="2.5" fill="#f04c4c" stroke="#5a1414" stroke-width="0.5"/>
<circle cx="507.3" cy="241.9" r="2.5" fill="#f04c4c" stroke="#5a1414" stroke-width="0.5"/>
<circle cx="618.4" cy="241.8" r="2.5" fill="#f04c4c" stroke="#5a1414" stroke-width="0.5"/>
<circle cx="541.6" cy="241.8" r="2.5" fill="#f04c4c" stroke="#5a1414" stroke-width="0.5"/>
<circle cx="616.1" cy="241.8" r="2.5" fill="#f04c4c" stroke="#5a1414" stroke-width="0.5"/>
<circle cx="591.6" cy="241.8" r="2.5" fill="#f04c4c" stroke="#5a1414" stroke-width="0.5"/>
<circle cx="508.0" cy="241.8" r="2.5" fill="#f04c4c" stroke="#5a1414" stroke-width="0.5"/>
<circle cx="617.6" cy="241.8" r="2.5" fill="#f04c4c" stroke="#5a1414" stroke-width="0.5"/>
<circle cx="575.3" cy="241.8" r="2.5" fill="#f04c4c" stroke="#5a1414" stroke-width="0.5"/>
<circle cx="577.1" cy="241.8" r="2.5" fill="#f04c4c" stroke="#5a1414" stroke-width="0.5"/>
<circle cx="504.8" cy="241.8" r="2.5" fill="#f04c4c" stroke="#5a1414" stroke-width="0.5"/>
<circle cx="508.0" cy="241.7" r="2.5" fill="#f04c4c" stroke="#5a1414" stroke-width="0.5"/>
<circle cx="625.9" cy="241.7" r="2.5" fill="#f04c4c" stroke="#5a1414" stroke-width="0.5"/>
<circle cx="511.2" cy="241.7" r="2.5" fill="#f04c4c" stroke="#5a1414" stroke-width="0.5"/>
<circle cx="595.8" cy="241.7" r="2.5" fill="#f04c4c" stroke="#5a1414" stroke-width="0.5"/>
<circle cx="625.3" cy="241.7" r="2.5" fill="#f04c4c" stroke="#5a1414" stroke-width="0.5"/>
<circle cx="575.6" cy="241.6" r="2.5" fill="#f04c4c" stroke="#5a1414" stroke-width="0.5"/>
<circle cx="580.5" cy="241.6" r="2.5" fill="#f04c4c" stroke="#5a1414" stroke-width="0.5"/>
<circle cx="602.0" cy="241.6" r="2.5" fill="#f04c4c" stroke="#5a1414" stroke-width="0.5"/>
<circle cx="503.9" cy="241.6" r="2.5" fill="#f04c4c" stroke="#5a1414" stroke-width="0.5"/>
<circle cx="579.6" cy="241.5" r="2.5" fill="#f04c4c" stroke="#5a1414" stroke-width="0.5"/>
<circle cx="522.0" cy="241.5" r="2.5" fill="#f04c4c" stroke="#5a1414" stroke-width="0.5"/>
<circle cx="535.1" cy="241.5" r="2.5" fill="#f04c4c" stroke="#5a1414" stroke-width="0.5"/>
<circle cx="620.5" cy="241.5" r="2.5" fill="#f04c4c" stroke="#5a1414" stroke-width="0.5"/>
<circle cx="525.2" cy="241.5" r="2.5" fill="#f04c4c" stroke="#5a1414" stroke-width="0.5"/>
<circle cx="576.3" cy="241.4" r="2.5" fill="#f04c4c" stroke="#5a1414" stroke-width="0.5"/>
<circle cx="575.0" cy="241.4" r="2.5" fill="#f04c4c" stroke="#5a1414" stroke-width="0.5"/>
<circle cx="512.8" cy="241.4" r="2.5" fill="#f04c4c" stroke="#5a1414" stroke-width="0.5"/>
<circle cx="575.2" cy="241.4" r="2.5" fill="#f04c4c" stroke="#5a1414" stroke-width="0.5"/>
<circle cx="594.0" cy="241.3" r="2.5" fill="#f04c4c" stroke="#5a1414" stroke-width="0.5"/>
<circle cx="579.7" cy="241.2" r="2.5" fill="#f04c4c" stroke="#5a1414" stroke-width="0.5"/>
<circle cx="509.4" cy="241.2" r="2.5" fill="#f04c4c" stroke="#5a1414" stroke-width="0.5"/>
<circle cx="534.2" cy="241.2" r="2.5" fill="#f04c4c" stroke="#5a1414" stroke-width="0.5"/>
<circle cx="578.3" cy="241.2" r="2.5" fill="#f04c4c" stroke="#5a1414" stroke-width="0.5"/>
<circle cx="519.9" cy="241.2" r="2.5" fill="#f04c4c" stroke="#5a1414" stroke-width="0.5"/>
<circle cx="607.4" cy="241.1" r="2.5" fill="#f04c4c" stroke="#5a1414" stroke-width="0.5"/>
<circle cx="576.7" cy="241.1" r="2.5" fill="#f04c4c" stroke="#5a1414" stroke-width="0.5"/>
<circle cx="586.5" cy="241.1" r="2.5" fill="#f04c4c" stroke="#5a1414" stroke-width="0.5"/>
<circle cx="510.7" cy="241.0" r="2.5" fill="#f04c4c" stroke="#5a1414" stroke-width="0.5"/>
<circle cx="523.2" cy="241.0" r="2.5" fill="#f04c4c" stroke="#5a1414" stroke-width="0.5"/>
<circle cx="547.1" cy="241.0" r="2.5" fill="#f04c4c" stroke="#5a1414" stroke-width="0.5"/>
<circle cx="576.9" cy="241.0" r="2.5" fill="#f04c4c" stroke="#5a1414" stroke-width="0.5"/>
<circle cx="546.9" cy="241.0" r="2.5" fill="#f04c4c" stroke="#5a1414" stroke-width="0.5"/>
<circle cx="577.5" cy="241.0" r="2.5" fill="#f04c4c" stroke="#5a1414" stroke-width="0.5"/>
<circle cx="539.1" cy="240.9" r="2.5" fill="#f04c4c" stroke="#5a1414" stroke-width="0.5"/>
<circle cx="546.7" cy="240.9" r="2.5" fill="#f04c4c" stroke="#5a1414" stroke-width="0.5"/>
<circle cx="585.7" cy="240.9" r="2.5" fill="#f04c4c" stroke="#5a1414" stroke-width="0.5"/>
<circle cx="617.4" cy="240.9" r="2.5" fill="#f04c4c" stroke="#5a1414" stroke-width="0.5"/>
<circle cx="586.4" cy="240.9" r="2.5" fill="#f04c4c" stroke="#5a1414" stroke-width="0.5"/>
<circle cx="621.9" cy="240.8" r="2.5" fill="#f04c4c" stroke="#5a1414" stroke-width="0.5"/>
<circle cx="610.7" cy="240.8" r="2.5" fill="#f04c4c" stroke="#5a1414" stroke-width="0.5"/>
<circle cx="602.7" cy="240.8" r="2.5" fill="#f04c4c" stroke="#5a1414" stroke-width="0.5"/>
<circle cx="613.3" cy="240.7" r="2.5" fill="#f04c4c" stroke="#5a1414" stroke-width="0.5"/>
<circle cx="577.2" cy="240.7" r="2.5" fill="#f04c4c" stroke="#5a1414" stroke-width="0.5"/>
<circle cx="585.2" cy="240.7" r="2.5" fill="#f04c4c" stroke="#5a1414" stroke-width="0.5"/>
<circle cx="515.8" cy="240.6" r="2.5" fill="#f04c4c" stroke="#5a1414" stroke-width="0.5"/>
<circle cx="624.2" cy="240.6" r="2.5" fill="#f04c4c" stroke="#5a1414" stroke-width="0.5"/>
<circle cx="619.3" cy="240.6" r="2.5" fill="#f04c4c" stroke="#5a1414" stroke-width="0.5"/>
<circle cx="605.5" cy="240.6" r="2.5" fill="#f04c4c" stroke="#5a1414" stroke-width="0.5"/>
<circle cx="526.5" cy="240.5" r="2.5" fill="#f04c4c" stroke="#5a1414" stroke-width="0.5"/>
<circle cx="575.7" cy="240.5" r="2.5" fill="#f04c4c" stroke="#5a1414" stroke-width="0.5"/>
<circle cx="603.6" cy="240.5" r="2.5" fill="#f04c4c" stroke="#5a1414" stroke-width="0.5"/>
<circle cx="586.9" cy="240.4" r="2.5" fill="#f04c4c" stroke="#5a1414" stroke-width="0.5"/>
<circle cx="531.6" cy="240.4" r="2.5" fill="#f04c4c" stroke="#5a1414" stroke-width="0.5"/>
<circle cx="513.1" cy="240.4" r="2.5" fill="#f04c4c" stroke="#5a1414" stroke-width="0.5"/>
<circle cx="578.3" cy="240.3" r="2.5" fill="#f04c4c" stroke="#5a1414" stroke-width="0.5"/>
<circle cx="579.0" cy="240.3" r="2.5" fill="#f04c4c" stroke="#5a1414" stroke-width="0.5"/>
<circle cx="575.4" cy="240.3" r="2.5" fill="#f04c4c" stroke="#5a1414" stroke-width="0.5"/>
<circle cx="502.2" cy="240.3" r="2.5" fill="#f04c4c" stroke="#5a1414" stroke-width="0.5"/>
<circle cx="547.4" cy="240.2" r="2.5" fill="#f04c4c" stroke="#5a1414" stroke-width="0.5"/>
<circle cx="524.3" cy="240.2" r="2.5" fill="#f04c4c" stroke="#5a1414" stroke-width="0.5"/>
<circle cx="576.8" cy="240.2" r="2.5" fill="#f04c4c" stroke="#5a1414" stroke-width="0.5"/>
<circle cx="601.2" cy="240.2" r="2.5" fill="#f04c4c" stroke="#5a1414" stroke-width="0.5"/>
<circle cx="575.1" cy="240.1" r="2.5" fill="#f04c4c" stroke="#5a1414" stroke-width="0.5"/>
<circle cx="538.7" cy="240.1" r="2.5" fill="#f04c4c" stroke="#5a1414" stroke-width="0.5"/>
<circle cx="579.2" cy="240.0" r="2.5" fill="#f04c4c" stroke="#5a1414" stroke-width="0.5"/>
<circle cx="590.4" cy="240.0" r="2.5" fill="#f04c4c" stroke="#5a1414" stroke-width="0.5"/>
<circle cx="503.3" cy="240.0" r="2.5" fill="#f04c4c" stroke="#5a1414" stroke-width="0.5"/>
<circle cx="603.3" cy="240.0" r="2.5" fill="#f04c4c" stroke="#5a1414" stroke-width="0.5"/>
<circle cx="612.6" cy="240.0" r="2.5" fill="#f04c4c" stroke="#5a1414" stroke-width="0.5"/>
<circle cx="507.5" cy="239.9" r="2.5" fill="#f04c4c" stroke="#5a1414" stroke-width="0.5"/>
<circle cx="603.5" cy="239.9" r="2.5" fill="#f04c4c" stroke="#5a1414" stroke-width="0.5"/>
<circle cx="575.4" cy="239.9" r="2.5" fill="#f04c4c" stroke="#5a1414" stroke-width="0.5"/>
<circle cx="537.4" cy="239.9" r="2.5" fill="#f04c4c" stroke="#5a1414" stroke-width="0.5"/>
<circle cx="541.8" cy="239.9" r="2.5" fill="#f04c4c" stroke="#5a1414" stroke-width="0.5"/>
<circle cx="531.4" cy="239.9" r="2.5" fill="#f04c4c" stroke="#5a1414" stroke-width="0.5"/>
<circle cx="576.2" cy="239.8" r="2.5" fill="#f04c4c" stroke="#5a1414" stroke-width="0.5"/>
<circle cx="576.6" cy="239.8" r="2.5" fill="#f04c4c" stroke="#5a1414" stroke-width="0.5"/>
<circle cx="595.9" cy="239.7" r="2.5" fill="#f04c4c" stroke="#5a1414" stroke-width="0.5"/>
<circle cx="616.5" cy="239.7" r="2.5" fill="#f04c4c" stroke="#5a1414" stroke-width="0.5"/>
<circle cx="598.8" cy="239.7" r="2.5" fill="#f04c4c" stroke="#5a1414" stroke-width="0.5"/>
<circle cx="605.9" cy="239.7" r="2.5" fill="#f04c4c" stroke="#5a1414" stroke-width="0.5"/>
<circle cx="609.7" cy="239.6" r="2.5" fill="#f04c4c" stroke="#5a1414" stroke-width="0.5"/>
<circle cx="597.7" cy="239.5" r="2.5" fill="#f04c4c" stroke="#5a1414" stroke-width="0.5"/>
<circle cx="541.4" cy="239.5" r="2.5" fill="#f04c4c" stroke="#5a1414" stroke-width="0.5"/>
<circle cx="578.0" cy="239.5" r="2.5" fill="#f04c4c" stroke="#5a1414" stroke-width="0.5"/>
<circle cx="532.1" cy="239.5" r="2.5" fill="#f04c4c" stroke="#5a1414" stroke-width="0.5"/>
<circle cx="623.8" cy="239.5" r="2.5" fill="#f04c4c" stroke="#5a1414" stroke-width="0.5"/>
<circle cx="583.5" cy="239.4" r="2.5" fill="#f04c4c" stroke="#5a1414" stroke-width="0.5"/>
<circle cx="575.9" cy="239.4" r="2.5" fill="#f04c4c" stroke="#5a1414" stroke-width="0.5"/>
<circle cx="606.5" cy="239.4" r="2.5" fill="#f04c4c" stroke="#5a1414" stroke-width="0.5"/>
<circle cx="541.7" cy="239.4" r="2.5" fill="#f04c4c" stroke="#5a1414" stroke-width="0.5"/>
<circle cx="610.5" cy="239.3" r="2.5" fill="#f04c4c" stroke="#5a1414" stroke-width="0.5"/>
<circle cx="579.8" cy="239.3" r="2.5" fill="#f04c4c" stroke="#5a1414" stroke-width="0.5"/>
<circle cx="521.4" cy="239.3" r="2.5" fill="#f04c4c" stroke="#5a1414" stroke-width="0.5"/>
<circle cx="618.3" cy="239.3" r="2.5" fill="#f04c4c" stroke="#5a1414" stroke-width="0.5"/>
<circle cx="621.7" cy="239.2" r="2.5" fill="#f04c4c" stroke="#5a1414" stroke-width="0.5"/>
<circle cx="575.0" cy="239.2" r="2.5" fill="#f04c4c" stroke="#5a1414" stroke-width="0.5"/>
<circle cx="598.5" cy="239.2" r="2.5" fill="#f04c4c" stroke="#5a1414" stroke-width="0.5"/>
<circle cx="618.0" cy="239.2" r="2.5" fill="#f04c4c" stroke="#5a1414" stroke-width="0.5"/>
<circle cx="602.8" cy="239.1" r="2.5" fill="#f04c4c" stroke="#5a1414" stroke-width="0.5"/>
<circle cx="546.7" cy="239.1" r="2.5" fill="#f04c4c" stroke="#5a1414" stroke-width="0.5"/>
<circle cx="578.4" cy="239.1" r="2.5" fill="#f04c4c" stroke="#5a1414" stroke-width="0.5"/>
<circle cx="619.0" cy="239.0" r="2.5" fill="#f04c4c" stroke="#5a1414" stroke-width="0.5"/>
<circle cx="525.0" cy="239.0" r="2.5" fill="#f04c4c" stroke="#5a1414" stroke-width="0.5"/>
<circle cx="543.5" cy="239.0" r="2.5" fill="#f04c4c" stroke="#5a1414" stroke-width="0.5"/>
<circle cx="575.5" cy="239.0" r="2.5" fill="#f04c4c" stroke="#5a1414" stroke-width="0.5"/>
<circle cx="541.1" cy="239.0" r="2.5" fill="#f04c4c" stroke="#5a1414" stroke-width="0.5"/>
<circle cx="601.3" cy="238.9" r="2.5" fill="#f04c4c" stroke="#5a1414" stroke-width="0.5"/>
<circle cx="585.8" cy="238.9" r="2.5" fill="#f04c4c" stroke="#5a1414" stroke-width="0.5"/>
<circle cx="624.4" cy="238.9" r="2.5" fill="#f04c4c" stroke="#5a1414" stroke-width="0.5"/>
<circle cx="608.1" cy="238.8" r="2.5" fill="#f04c4c" stroke="#5a1414" stroke-width="0.5"/>
<circle cx="533.6" cy="238.7" r="2.5" fill="#f04c4c" stroke="#5a1414" stroke-width="0.5"/>
<circle cx="594.8" cy="238.7" r="2.5" fill="#f04c4c" stroke="#5a1414" stroke-width="0.5"/>
<circle cx="592.7" cy="238.7" r="2.5" fill="#f04c4c" stroke="#5a1414" stroke-width="0.5"/>
<circle cx="575.8" cy="238.6" r="2.5" fill="#f04c4c" stroke="#5a1414" stroke-width="0.5"/>
<circle cx="575.1" cy="238.5" r="2.5" fill="#f04c4c" stroke="#5a1414" stroke-width="0.5"/>
<circle cx="613.0" cy="238.5" r="2.5" fill="#f04c4c" stroke="#5a1414" stroke-width="0.5"/>
<circle cx="577.3" cy="238.5" r="2.5" fill="#f04c4c" stroke="#5a1414" stroke-width="0.5"/>
<circle cx="599.8" cy="238.4" r="2.5" fill="#f04c4c" stroke="#5a1414" stroke-width="0.5"/>
<circle cx="623.3" cy="238.4" r="2.5" fill="#f04c4c" stroke="#5a1414" stroke-width="0.5"/>
<circle cx="513.6" cy="238.3" r="2.5" fill="#f04c4c" stroke="#5a1414" stroke-width="0.5"/>
<circle cx="577.5" cy="238.3" r="2.5" fill="#f04c4c" stroke="#5a1414" stroke-width="0.5"/>
<circle cx="526.9" cy="238.3" r="2.5" fill="#f04c4c" stroke="#5a1414" stroke-width="0.5"/>
<circle cx="607.3" cy="238.3" r="2.5" fill="#f04c4c" stroke="#5a1414" stroke-width="0.5"/>
<circle cx="538.3" cy="238.2" r="2.5" fill="#f04c4c" stroke="#5a1414" stroke-width="0.5"/>
<circle cx="583.7" cy="238.1" r="2.5" fill="#f04c4c" stroke="#5a1414" stroke-width="0.5"/>
<circle cx="583.0" cy="238.1" r="2.5" fill="#f04c4c" stroke="#5a1414" stroke-width="0.5"/>
<circle cx="586.9" cy="238.0" r="2.5" fill="#f04c4c" stroke="#5a1414" stroke-width="0.5"/>
<circle cx="607.9" cy="237.9" r="2.5" fill="#f04c4c" stroke="#5a1414" stroke-width="0.5"/>
<circle cx="509.6" cy="237.9" r="2.5" fill="#f04c4c" stroke="#5a1414" stroke-width="0.5"/>
<circle cx="543.9" cy="237.8" r="2.5" fill="#f04c4c" stroke="#5a1414" stroke-width="0.5"/>
<circle cx="581.3" cy="237.8" r="2.5" fill="#f04c4c" stroke="#5a1414" stroke-width="0.5"/>
<circle cx="531.8" cy="237.8" r="2.5" fill="#f04c4c" stroke="#5a1414" stroke-width="0.5"/>
<circle cx="526.4" cy="237.7" r="2.5" fill="#f04c4c" stroke="#5a1414" stroke-width="0.5"/>
<circle cx="577.1" cy="237.7" r="2.5" fill="#f04c4c" stroke="#5a1414" stroke-width="0.5"/>
<circle cx="579.7" cy="237.7" r="2.5" fill="#f04c4c" stroke="#5a1414" stroke-width="0.5"/>
<circle cx="527.9" cy="237.7" r="2.5" fill="#f04c4c" stroke="#5a1414" stroke-width="0.5"/>
<circle cx="583.9" cy="237.6" r="2.5" fill="#f04c4c" stroke="#5a1414" stroke-width="0.5"/>
<circle cx="587.7" cy="237.6" r="2.5" fill="#f04c4c" stroke="#5a1414" stroke-width="0.5"/>
<circle cx="576.9" cy="237.6" r="2.5" fill="#f04c4c" stroke="#5a1414" stroke-width="0.5"/>
<circle cx="515.2" cy="237.6" r="2.5" fill="#f04c4c" stroke="#5a1414" stroke-width="0.5"/>
<circle cx="529.3" cy="237.5" r="2.5" fill="#f04c4c" stroke="#5a1414" stroke-width="0.5"/>
<circle cx="579.6" cy="237.5" r="2.5" fill="#f04c4c" stroke="#5a1414" stroke-width="0.5"/>
<circle cx="530.6" cy="237.4" r="2.5" fill="#f04c4c" stroke="#5a1414" stroke-width="0.5"/>
<circle cx="538.5" cy="237.4" r="2.5" fill="#f04c4c" stroke="#5a1414" stroke-width="0.5"/>
<circle cx="576.2" cy="237.4" r="2.5" fill="#f04c4c" stroke="#5a1414" stroke-width="0.5"/>
<circle cx="547.0" cy="237.3" r="2.5" fill="#f04c4c" stroke="#5a1414" stroke-width="0.5"/>
<circle cx="538.7" cy="237.2" r="2.5" fill="#f04c4c" stroke="#5a1414" stroke-width="0.5"/>
<circle cx="539.5" cy="237.2" r="2.5" fill="#f04c4c" stroke="#5a1414" stroke-width="0.5"/>
<circle cx="583.4" cy="237.2" r="2.5" fill="#f04c4c" stroke="#5a1414" stroke-width="0.5"/>
<circle cx="582.0" cy="237.2" r="2.5" fill="#f04c4c" stroke="#5a1414" stroke-width="0.5"/>
<circle cx="593.7" cy="237.2" r="2.5" fill="#f04c4c" stroke="#5a1414" stroke-width="0.5"/>
<circle cx="576.8" cy="237.1" r="2.5" fill="#f04c4c" stroke="#5a1414" stroke-width="0.5"/>
<circle cx="530.3" cy="237.1" r="2.5" fill="#f04c4c" stroke="#5a1414" stroke-width="0.5"/>
<circle cx="532.1" cy="237.1" r="2.5" fill="#f04c4c" stroke="#5a1414" stroke-width="0.5"/>
<circle cx="618.9" cy="237.1" r="2.5" fill="#f04c4c" stroke="#5a1414" stroke-width="0.5"/>
<circle cx="589.4" cy="237.0" r="2.5" fill="#f04c4c" stroke="#5a1414" stroke-width="0.5"/>
<circle cx="582.0" cy="237.0" r="2.5" fill="#f04c4c" stroke="#5a1414" stroke-width="0.5"/>
<circle cx="617.8" cy="237.0" r="2.5" fill="#f04c4c" stroke="#5a1414" stroke-width="0.5"/>
<circle cx="622.7" cy="237.0" r="2.5" fill="#f04c4c" stroke="#5a1414" stroke-width="0.5"/>
<circle cx="614.8" cy="236.9" r="2.5" fill="#f04c4c" stroke="#5a1414" stroke-width="0.5"/>
<circle cx="547.4" cy="236.9" r="2.5" fill="#f04c4c" stroke="#5a1414" stroke-width="0.5"/>
<circle cx="597.9" cy="236.9" r="2.5" fill="#f04c4c" stroke="#5a1414" stroke-width="0.5"/>
<circle cx="594.4" cy="236.9" r="2.5" fill="#f04c4c" stroke="#5a1414" stroke-width="0.5"/>
<circle cx="587.3" cy="236.9" r="2.5" fill="#f04c4c" stroke="#5a1414" stroke-width="0.5"/>
<circle cx="578.1" cy="236.8" r="2.5" fill="#f04c4c" stroke="#5a1414" stroke-width="0.5"/>
<circle cx="543.0" cy="236.8" r="2.5" fill="#f04c4c" stroke="#5a1414" stroke-width="0.5"/>
<circle cx="579.7" cy="236.7" r="2.5" fill="#f04c4c" stroke="#5a1414" stroke-width="0.5"/>
<circle cx="535.0" cy="236.7" r="2.5" fill="#f04c4c" stroke="#5a1414" stroke-width="0.5"/>
<circle cx="622.6" cy="236.6" r="2.5" fill="#f04c4c" stroke="#5a1414" stroke-width="0.5"/>
<circle cx="520.9" cy="236.6" r="2.5" fill="#f04c4c" stroke="#5a1414" stroke-width="0.5"/>
<circle cx="607.7" cy="236.5" r="2.5" fill="#f04c4c" stroke="#5a1414" stroke-width="0.5"/>
<circle cx="529.5" cy="236.5" r="2.5" fill="#f04c4c" stroke="#5a1414" stroke-width="0.5"/>
<circle cx="620.5" cy="236.5" r="2.5" fill="#f04c4c" stroke="#5a1414" stroke-width="0.5"/>
<circle cx="514.6" cy="236.3" r="2.5" fill="#f04c4c" stroke="#5a1414" stroke-width="0.5"/>
<circle cx="536.3" cy="236.2" r="2.5" fill="#f04c4c" stroke="#5a1414" stroke-width="0.5"/>
<circle cx="579.0" cy="236.2" r="2.5" fill="#f04c4c" stroke="#5a1414" stroke-width="0.5"/>
<circle cx="532.1" cy="236.2" r="2.5" fill="#f04c4c" stroke="#5a1414" stroke-width="0.5"/>
<circle cx="535.6" cy="236.2" r="2.5" fill="#f04c4c" stroke="#5a1414" stroke-width="0.5"/>
<circle cx="612.6" cy="236.2" r="2.5" fill="#f04c4c" stroke="#5a1414" stroke-width="0.5"/>
<circle cx="579.7" cy="236.1" r="2.5" fill="#f04c4c" stroke="#5a1414" stroke-width="0.5"/>
<circle cx="541.7" cy="236.1" r="2.5" fill="#f04c4c" stroke="#5a1414" stroke-width="0.5"/>
<circle cx="520.8" cy="236.1" r="2.5" fill="#f04c4c" stroke="#5a1414" stroke-width="0.5"/>
<circle cx="517.9" cy="236.1" r="2.5" fill="#f04c4c" stroke="#5a1414" stroke-width="0.5"/>
<circle cx="534.0" cy="236.0" r="2.5" fill="#f04c4c" stroke="#5a1414" stroke-width="0.5"/>
<circle cx="604.8" cy="236.0" r="2.5" fill="#f04c4c" stroke="#5a1414" stroke-width="0.5"/>
<circle cx="547.4" cy="236.0" r="2.5" fill="#f04c4c" stroke="#5a1414" stroke-width="0.5"/>
<circle cx="524.5" cy="235.9" r="2.5" fill="#f04c4c" stroke="#5a1414" stroke-width="0.5"/>
<circle cx="580.4" cy="235.9" r="2.5" fill="#f04c4c" stroke="#5a1414" stroke-width="0.5"/>
<circle cx="593.7" cy="235.9" r="2.5" fill="#f04c4c" stroke="#5a1414" stroke-width="0.5"/>
<circle cx="532.0" cy="235.8" r="2.5" fill="#f04c4c" stroke="#5a1414" stroke-width="0.5"/>
<circle cx="531.2" cy="235.8" r="2.5" fill="#f04c4c" stroke="#5a1414" stroke-width="0.5"/>
<circle cx="580.7" cy="235.8" r="2.5" fill="#f04c4c" stroke="#5a1414" stroke-width="0.5"/>
<circle cx="610.3" cy="235.5" r="2.5" fill="#f04c4c" stroke="#5a1414" stroke-width="0.5"/>
<circle cx="537.8" cy="235.4" r="2.5" fill="#f04c4c" stroke="#5a1414" stroke-width="0.5"/>
<circle cx="615.5" cy="235.4" r="2.5" fill="#f04c4c" stroke="#5a1414" stroke-width="0.5"/>
<circle cx="544.7" cy="235.3" r="2.5" fill="#f04c4c" stroke="#5a1414" stroke-width="0.5"/>
<circle cx="577.7" cy="235.3" r="2.5" fill="#f04c4c" stroke="#5a1414" stroke-width="0.5"/>
<circle cx="530.8" cy="235.3" r="2.5" fill="#f04c4c" stroke="#5a1414" stroke-width="0.5"/>
<circle cx="539.8" cy="235.3" r="2.5" fill="#f04c4c" stroke="#5a1414" stroke-width="0.5"/>
<circle cx="538.0" cy="235.3" r="2.5" fill="#f04c4c" stroke="#5a1414" stroke-width="0.5"/>
<circle cx="599.7" cy="235.1" r="2.5" fill="#f04c4c" stroke="#5a1414" stroke-width="0.5"/>
<circle cx="583.7" cy="235.0" r="2.5" fill="#f04c4c" stroke="#5a1414" stroke-width="0.5"/>
<circle cx="589.8" cy="235.0" r="2.5" fill="#f04c4c" stroke="#5a1414" stroke-width="0.5"/>
<circle cx="522.2" cy="235.0" r="2.5" fill="#f04c4c" stroke="#5a1414" stroke-width="0.5"/>
<circle cx="528.7" cy="235.0" r="2.5" fill="#f04c4c" stroke="#5a1414" stroke-width="0.5"/>
<circle cx="597.7" cy="234.5" r="2.5" fill="#f04c4c" stroke="#5a1414" stroke-width="0.5"/>
<circle cx="607.0" cy="234.5" r="2.5" fill="#f04c4c" stroke="#5a1414" stroke-width="0.5"/>
<circle cx="525.9" cy="234.5" r="2.5" fill="#f04c4c" stroke="#5a1414" stroke-width="0.5"/>
<circle cx="603.8" cy="234.5" r="2.5" fill="#f04c4c" stroke="#5a1414" stroke-width="0.5"/>
<circle cx="542.5" cy="234.4" r="2.5" fill="#f04c4c" stroke="#5a1414" stroke-width="0.5"/>
<circle cx="537.1" cy="234.4" r="2.5" fill="#f04c4c" stroke="#5a1414" stroke-width="0.5"/>
<circle cx="521.3" cy="234.4" r="2.5" fill="#f04c4c" stroke="#5a1414" stroke-width="0.5"/>
<circle cx="607.9" cy="234.3" r="2.5" fill="#f04c4c" stroke="#5a1414" stroke-width="0.5"/>
<circle cx="526.0" cy="234.3" r="2.5" fill="#f04c4c" stroke="#5a1414" stroke-width="0.5"/>
<circle cx="589.1" cy="234.2" r="2.5" fill="#f04c4c" stroke="#5a1414" stroke-width="0.5"/>
<circle cx="589.2" cy="234.2" r="2.5" fill="#f04c4c" stroke="#5a1414" stroke-width="0.5"/>
<circle cx="593.6" cy="234.1" r="2.5" fill="#f04c4c" stroke="#5a1414" stroke-width="0.5"/>
<circle cx="594.0" cy="234.1" r="2.5" fill="#f04c4c" stroke="#5a1414" stroke-width="0.5"/>
<circle cx="608.5" cy="234.1" r="2.5" fill="#f04c4c" stroke="#5a1414" stroke-width="0.5"/>
<circle cx="611.7" cy="234.1" r="2.5" fill="#f04c4c" stroke="#5a1414" stroke-width="0.5"/>
<circle cx="581.6" cy="234.1" r="2.5" fill="#f04c4c" stroke="#5a1414" stroke-width="0.5"/>
<circle cx="539.4" cy="234.1" r="2.5" fill="#f04c4c" stroke="#5a1414" stroke-width="0.5"/>
<circle cx="583.2" cy="233.9" r="2.5" fill="#f04c4c" stroke="#5a1414" stroke-width="0.5"/>
<circle cx="608.0" cy="233.8" r="2.5" fill="#f04c4c" stroke="#5a1414" stroke-width="0.5"/>
<circle cx="535.1" cy="233.6" r="2.5" fill="#f04c4c" stroke="#5a1414" stroke-width="0.5"/>
<circle cx="524.6" cy="233.6" r="2.5" fill="#f04c4c" stroke="#5a1414" stroke-width="0.5"/>
<circle cx="586.2" cy="233.5" r="2.5" fill="#f04c4c" stroke="#5a1414" stroke-width="0.5"/>
<circle cx="536.2" cy="233.5" r="2.5" fill="#f04c4c" stroke="#5a1414" stroke-width="0.5"/>
<circle cx="581.5" cy="233.4" r="2.5" fill="#f04c4c" stroke="#5a1414" stroke-width="0.5"/>
<circle cx="591.2" cy="233.3" r="2.5" fill="#f04c4c" stroke="#5a1414" stroke-width="0.5"/>
<circle cx="599.7" cy="233.3" r="2.5" fill="#f04c4c" stroke="#5a1414" stroke-width="0.5"/>
<circle cx="534.0" cy="233.2" r="2.5" fill="#f04c4c" stroke="#5a1414" stroke-width="0.5"/>
<circle cx="604.4" cy="233.2" r="2.5" fill="#f04c4c" stroke="#5a1414" stroke-width="0.5"/>
<circle cx="578.4" cy="233.2" r="2.5" fill="#f04c4c" stroke="#5a1414" stroke-width="0.5"/>
<circle cx="585.3" cy="233.1" r="2.5" fill="#f04c4c" stroke="#5a1414" stroke-width="0.5"/>
<circle cx="606.3" cy="233.0" r="2.5" fill="#f04c4c" stroke="#5a1414" stroke-width="0.5"/>
<circle cx="525.1" cy="232.8" r="2.5" fill="#f04c4c" stroke="#5a1414" stroke-width="0.5"/>
<circle cx="613.3" cy="232.7" r="2.5" fill="#f04c4c" stroke="#5a1414" stroke-width="0.5"/>
<circle cx="539.9" cy="232.7" r="2.5" fill="#f04c4c" stroke="#5a1414" stroke-width="0.5"/>
<circle cx="584.2" cy="232.6" r="2.5" fill="#f04c4c" stroke="#5a1414" stroke-width="0.5"/>
<circle cx="596.5" cy="232.2" r="2.5" fill="#f04c4c" stroke="#5a1414" stroke-width="0.5"/>
<circle cx="598.7" cy="232.2" r="2.5" fill="#f04c4c" stroke="#5a1414" stroke-width="0.5"/>
<circle cx="584.7" cy="231.9" r="2.5" fill="#f04c4c" stroke="#5a1414" stroke-width="0.5"/>
<circle cx="530.4" cy="231.8" r="2.5" fill="#f04c4c" stroke="#5a1414" stroke-width="0.5"/>
<circle cx="604.6" cy="231.8" r="2.5" fill="#f04c4c" stroke="#5a1414" stroke-width="0.5"/>
<circle cx="584.6" cy="231.8" r="2.5" fill="#f04c4c" stroke="#5a1414" stroke-width="0.5"/>
<circle cx="582.7" cy="231.7" r="2.5" fill="#f04c4c" stroke="#5a1414" stroke-width="0.5"/>
<circle cx="600.6" cy="231.6" r="2.5" fill="#f04c4c" stroke="#5a1414" stroke-width="0.5"/>
<circle cx="581.3" cy="231.6" r="2.5" fill="#f04c4c" stroke="#5a1414" stroke-width="0.5"/>
<circle cx="539.1" cy="231.6" r="2.5" fill="#f04c4c" stroke="#5a1414" stroke-width="0.5"/>
<circle cx="544.9" cy="231.4" r="2.5" fill="#f04c4c" stroke="#5a1414" stroke-width="0.5"/>
<circle cx="600.9" cy="231.2" r="2.5" fill="#f04c4c" stroke="#5a1414" stroke-width="0.5"/>
<circle cx="536.7" cy="231.1" r="2.5" fill="#f04c4c" stroke="#5a1414" stroke-width="0.5"/>
<circle cx="581.7" cy="231.1" r="2.5" fill="#f04c4c" stroke="#5a1414" stroke-width="0.5"/>
<circle cx="592.5" cy="231.1" r="2.5" fill="#f04c4c" stroke="#5a1414" stroke-width="0.5"/>
<circle cx="530.9" cy="231.1" r="2.5" fill="#f04c4c" stroke="#5a1414" stroke-width="0.5"/>
<circle cx="529.7" cy="230.8" r="2.5" fill="#f04c4c" stroke="#5a1414" stroke-width="0.5"/>
<circle cx="596.8" cy="230.7" r="2.5" fill="#f04c4c" stroke="#5a1414" stroke-width="0.5"/>
<circle cx="585.1" cy="230.7" r="2.5" fill="#f04c4c" stroke="#5a1414" stroke-width="0.5"/>
<circle cx="582.7" cy="230.4" r="2.5" fill="#f04c4c" stroke="#5a1414" stroke-width="0.5"/>
<circle cx="581.3" cy="230.4" r="2.5" fill="#f04c4c" stroke="#5a1414" stroke-width="0.5"/>
<circle cx="588.8" cy="230.3" r="2.5" fill="#f04c4c" stroke="#5a1414" stroke-width="0.5"/>
<circle cx="593.5" cy="230.3" r="2.5" fill="#f04c4c" stroke="#5a1414" stroke-width="0.5"/>
<circle cx="580.9" cy="230.2" r="2.5" fill="#f04c4c" stroke="#5a1414" stroke-width="0.5"/>
<circle cx="581.7" cy="229.8" r="2.5" fill="#f04c4c" stroke="#5a1414" stroke-width="0.5"/>
<circle cx="587.6" cy="229.7" r="2.5" fill="#f04c4c" stroke="#5a1414" stroke-width="0.5"/>
<circle cx="581.5" cy="229.6" r="2.5" fill="#f04c4c" stroke="#5a1414" stroke-width="0.5"/>
<circle cx="584.5" cy="229.5" r="2.5" fill="#f04c4c" stroke="#5a1414" stroke-width="0.5"/>
<circle cx="607.0" cy="228.9" r="2.5" fill="#f04c4c" stroke="#5a1414" stroke-width="0.5"/>
<circle cx="591.0" cy="228.1" r="2.5" fill="#f04c4c" stroke="#5a1414" stroke-width="0.5"/>
<circle cx="586.2" cy="227.7" r="2.5" fill="#f04c4c" stroke="#5a1414" stroke-width="0.5"/>
<circle cx="596.0" cy="227.1" r="2.5" fill="#f04c4c" stroke="#5a1414" stroke-width="0.5"/>
<circle cx="590.1" cy="226.6" r="2.5" fill="#f04c4c" stroke="#5a1414" stroke-width="0.5"/>
<circle cx="596.1" cy="226.3" r="2.5" fill="#f04c4c" stroke="#5a1414" stroke-width="0.5"/>
<circle cx="588.1" cy="226.1" r="2.5" fill="#f04c4c" stroke="#5a1414" stroke-width="0.5"/>
<circle cx="600.6" cy="225.6" r="2.5" fill="#f04c4c" stroke="#5a1414" stroke-width="0.5"/>
<circle cx="591.7" cy="225.1" r="2.5" fill="#f04c4c" stroke="#5a1414" stroke-width="0.5"/>
<circle cx="587.6" cy="225.1" r="2.5" fill="#f04c4c" stroke="#5a1414" stroke-width="0.5"/>
<circle cx="594.3" cy="223.9" r="2.5" fill="#f04c4c" stroke="#5a1414" stroke-width="0.5"/>
<circle cx="590.9" cy="223.0" r="2.5" fill="#f04c4c" stroke="#5a1414" stroke-width="0.5"/>
<circle cx="588.7" cy="222.7" r="2.5" fill="#f04c4c" stroke="#5a1414" stroke-width="0.5"/>
<circle cx="592.6" cy="222.2" r="2.5" fill="#f04c4c" stroke="#5a1414" stroke-width="0.5"/>
<circle cx="591.7" cy="221.7" r="2.5" fill="#f04c4c" stroke="#5a1414" stroke-width="0.5"/>
<circle cx="554.8" cy="243.8" r="2.5" fill="#0a0a0a" stroke="#000" stroke-width="0.5"/>
<circle cx="545.1" cy="240.9" r="2.5" fill="#0a0a0a" stroke="#000" stroke-width="0.5"/>
<circle cx="565.7" cy="247.1" r="2.5" fill="#0a0a0a" stroke="#000" stroke-width="0.5"/>
<circle cx="600.5" cy="247.4" r="2.5" fill="#0a0a0a" stroke="#000" stroke-width="0.5"/>
<circle cx="595.9" cy="246.5" r="2.5" fill="#0a0a0a" stroke="#000" stroke-width="0.5"/>
<circle cx="508.0" cy="247.9" r="2.5" fill="#0a0a0a" stroke="#000" stroke-width="0.5"/>
<circle cx="589.8" cy="241.2" r="2.5" fill="#0a0a0a" stroke="#000" stroke-width="0.5"/>
<circle cx="508.4" cy="247.1" r="2.5" fill="#0a0a0a" stroke="#000" stroke-width="0.5"/>
<circle cx="560.7" cy="246.5" r="2.5" fill="#0a0a0a" stroke="#000" stroke-width="0.5"/>
<circle cx="527.7" cy="244.5" r="2.5" fill="#0a0a0a" stroke="#000" stroke-width="0.5"/>
<circle cx="545.2" cy="240.1" r="2.5" fill="#0a0a0a" stroke="#000" stroke-width="0.5"/>
<circle cx="535.9" cy="241.2" r="2.5" fill="#0a0a0a" stroke="#000" stroke-width="0.5"/>
<circle cx="538.4" cy="245.5" r="2.5" fill="#0a0a0a" stroke="#000" stroke-width="0.5"/>
<circle cx="583.0" cy="243.3" r="2.5" fill="#0a0a0a" stroke="#000" stroke-width="0.5"/>
<circle cx="519.7" cy="244.9" r="2.5" fill="#0a0a0a" stroke="#000" stroke-width="0.5"/>
<circle cx="516.6" cy="245.0" r="2.5" fill="#0a0a0a" stroke="#000" stroke-width="0.5"/>
<circle cx="582.8" cy="241.5" r="2.5" fill="#0a0a0a" stroke="#000" stroke-width="0.5"/>
<circle cx="575.3" cy="243.9" r="2.5" fill="#0a0a0a" stroke="#000" stroke-width="0.5"/>
<circle cx="551.0" cy="244.0" r="2.5" fill="#0a0a0a" stroke="#000" stroke-width="0.5"/>
<circle cx="603.5" cy="247.6" r="2.5" fill="#0a0a0a" stroke="#000" stroke-width="0.5"/>
<circle cx="603.3" cy="248.2" r="2.5" fill="#0a0a0a" stroke="#000" stroke-width="0.5"/>
<circle cx="530.0" cy="245.7" r="2.5" fill="#0a0a0a" stroke="#000" stroke-width="0.5"/>
<circle cx="604.7" cy="245.6" r="2.5" fill="#0a0a0a" stroke="#000" stroke-width="0.5"/>
<circle cx="548.6" cy="239.5" r="2.5" fill="#0a0a0a" stroke="#000" stroke-width="0.5"/>
<circle cx="533.0" cy="244.2" r="2.5" fill="#0a0a0a" stroke="#000" stroke-width="0.5"/>
<circle cx="565.0" cy="245.5" r="2.5" fill="#0a0a0a" stroke="#000" stroke-width="0.5"/>
<circle cx="588.8" cy="242.7" r="2.5" fill="#0a0a0a" stroke="#000" stroke-width="0.5"/>
<circle cx="545.3" cy="243.8" r="2.5" fill="#0a0a0a" stroke="#000" stroke-width="0.5"/>
<circle cx="524.6" cy="243.4" r="2.5" fill="#0a0a0a" stroke="#000" stroke-width="0.5"/>
<circle cx="579.0" cy="241.5" r="2.5" fill="#0a0a0a" stroke="#000" stroke-width="0.5"/>
<circle cx="526.1" cy="245.0" r="2.5" fill="#0a0a0a" stroke="#000" stroke-width="0.5"/>
<circle cx="591.0" cy="243.4" r="2.5" fill="#0a0a0a" stroke="#000" stroke-width="0.5"/>
<circle cx="521.4" cy="245.3" r="2.5" fill="#0a0a0a" stroke="#000" stroke-width="0.5"/>
<circle cx="603.0" cy="246.6" r="2.5" fill="#0a0a0a" stroke="#000" stroke-width="0.5"/>
<circle cx="528.5" cy="245.6" r="2.5" fill="#0a0a0a" stroke="#000" stroke-width="0.5"/>
<circle cx="583.4" cy="241.2" r="2.5" fill="#0a0a0a" stroke="#000" stroke-width="0.5"/>
<circle cx="524.5" cy="246.8" r="2.5" fill="#0a0a0a" stroke="#000" stroke-width="0.5"/>
<circle cx="534.5" cy="244.9" r="2.5" fill="#0a0a0a" stroke="#000" stroke-width="0.5"/>
<circle cx="564.0" cy="247.7" r="2.5" fill="#0a0a0a" stroke="#000" stroke-width="0.5"/>
<circle cx="543.1" cy="245.4" r="2.5" fill="#0a0a0a" stroke="#000" stroke-width="0.5"/>
<circle cx="612.6" cy="246.1" r="2.5" fill="#0a0a0a" stroke="#000" stroke-width="0.5"/>
<circle cx="518.8" cy="244.0" r="2.5" fill="#0a0a0a" stroke="#000" stroke-width="0.5"/>
<circle cx="518.8" cy="246.0" r="2.5" fill="#0a0a0a" stroke="#000" stroke-width="0.5"/>
<circle cx="613.6" cy="246.1" r="2.5" fill="#0a0a0a" stroke="#000" stroke-width="0.5"/>
<circle cx="586.7" cy="243.9" r="2.5" fill="#0a0a0a" stroke="#000" stroke-width="0.5"/>
<circle cx="529.0" cy="243.7" r="2.5" fill="#0a0a0a" stroke="#000" stroke-width="0.5"/>
<circle cx="519.4" cy="246.8" r="2.5" fill="#0a0a0a" stroke="#000" stroke-width="0.5"/>
<circle cx="549.6" cy="247.6" r="2.5" fill="#0a0a0a" stroke="#000" stroke-width="0.5"/>
<circle cx="550.8" cy="241.3" r="2.5" fill="#0a0a0a" stroke="#000" stroke-width="0.5"/>
<circle cx="582.4" cy="243.2" r="2.5" fill="#0a0a0a" stroke="#000" stroke-width="0.5"/>
<circle cx="575.8" cy="243.1" r="2.5" fill="#0a0a0a" stroke="#000" stroke-width="0.5"/>
<circle cx="523.1" cy="244.5" r="2.5" fill="#0a0a0a" stroke="#000" stroke-width="0.5"/>
<circle cx="551.4" cy="242.0" r="2.5" fill="#0a0a0a" stroke="#000" stroke-width="0.5"/>
<circle cx="605.4" cy="245.9" r="2.5" fill="#0a0a0a" stroke="#000" stroke-width="0.5"/>
<circle cx="569.5" cy="243.5" r="2.5" fill="#0a0a0a" stroke="#000" stroke-width="0.5"/>
<circle cx="553.1" cy="245.9" r="2.5" fill="#0a0a0a" stroke="#000" stroke-width="0.5"/>
<circle cx="585.5" cy="241.2" r="2.5" fill="#0a0a0a" stroke="#000" stroke-width="0.5"/>
<circle cx="591.0" cy="242.8" r="2.5" fill="#0a0a0a" stroke="#000" stroke-width="0.5"/>
<circle cx="599.5" cy="244.1" r="2.5" fill="#0a0a0a" stroke="#000" stroke-width="0.5"/>
<circle cx="576.8" cy="243.2" r="2.5" fill="#0a0a0a" stroke="#000" stroke-width="0.5"/>
<circle cx="541.5" cy="242.0" r="2.5" fill="#0a0a0a" stroke="#000" stroke-width="0.5"/>
<circle cx="518.4" cy="245.9" r="2.5" fill="#0a0a0a" stroke="#000" stroke-width="0.5"/>
<circle cx="591.9" cy="242.8" r="2.5" fill="#0a0a0a" stroke="#000" stroke-width="0.5"/>
<circle cx="575.5" cy="244.8" r="2.5" fill="#0a0a0a" stroke="#000" stroke-width="0.5"/>
<circle cx="553.4" cy="244.6" r="2.5" fill="#0a0a0a" stroke="#000" stroke-width="0.5"/>
<circle cx="574.7" cy="243.6" r="2.5" fill="#0a0a0a" stroke="#000" stroke-width="0.5"/>
<circle cx="580.4" cy="240.5" r="2.5" fill="#0a0a0a" stroke="#000" stroke-width="0.5"/>
<circle cx="527.6" cy="243.8" r="2.5" fill="#0a0a0a" stroke="#000" stroke-width="0.5"/>
<circle cx="591.5" cy="244.6" r="2.5" fill="#0a0a0a" stroke="#000" stroke-width="0.5"/>
<circle cx="560.5" cy="246.1" r="2.5" fill="#0a0a0a" stroke="#000" stroke-width="0.5"/>
<circle cx="512.0" cy="246.5" r="2.5" fill="#0a0a0a" stroke="#000" stroke-width="0.5"/>
<circle cx="525.2" cy="243.5" r="2.5" fill="#0a0a0a" stroke="#000" stroke-width="0.5"/>
<circle cx="608.9" cy="246.1" r="2.5" fill="#0a0a0a" stroke="#000" stroke-width="0.5"/>
<circle cx="518.8" cy="245.3" r="2.5" fill="#0a0a0a" stroke="#000" stroke-width="0.5"/>
<circle cx="566.0" cy="245.2" r="2.5" fill="#0a0a0a" stroke="#000" stroke-width="0.5"/>
<circle cx="562.9" cy="246.7" r="2.5" fill="#0a0a0a" stroke="#000" stroke-width="0.5"/>
<circle cx="596.9" cy="244.5" r="2.5" fill="#0a0a0a" stroke="#000" stroke-width="0.5"/>
<circle cx="552.0" cy="241.3" r="2.5" fill="#0a0a0a" stroke="#000" stroke-width="0.5"/>
<circle cx="530.5" cy="243.3" r="2.5" fill="#0a0a0a" stroke="#000" stroke-width="0.5"/>
<circle cx="550.1" cy="241.1" r="2.5" fill="#0a0a0a" stroke="#000" stroke-width="0.5"/>
<circle cx="521.0" cy="243.4" r="2.5" fill="#0a0a0a" stroke="#000" stroke-width="0.5"/>
<circle cx="546.1" cy="247.0" r="2.5" fill="#0a0a0a" stroke="#000" stroke-width="0.5"/>
<circle cx="537.4" cy="244.1" r="2.5" fill="#0a0a0a" stroke="#000" stroke-width="0.5"/>
<circle cx="509.3" cy="247.2" r="2.5" fill="#0a0a0a" stroke="#000" stroke-width="0.5"/>
<circle cx="553.1" cy="243.1" r="2.5" fill="#0a0a0a" stroke="#000" stroke-width="0.5"/>
<circle cx="545.7" cy="244.4" r="2.5" fill="#0a0a0a" stroke="#000" stroke-width="0.5"/>
<circle cx="532.0" cy="242.8" r="2.5" fill="#0a0a0a" stroke="#000" stroke-width="0.5"/>
<circle cx="608.8" cy="246.0" r="2.5" fill="#0a0a0a" stroke="#000" stroke-width="0.5"/>
<circle cx="531.4" cy="242.6" r="2.5" fill="#0a0a0a" stroke="#000" stroke-width="0.5"/>
<circle cx="550.0" cy="245.2" r="2.5" fill="#0a0a0a" stroke="#000" stroke-width="0.5"/>
<circle cx="521.8" cy="244.0" r="2.5" fill="#0a0a0a" stroke="#000" stroke-width="0.5"/>
<circle cx="594.8" cy="243.7" r="2.5" fill="#0a0a0a" stroke="#000" stroke-width="0.5"/>
<circle cx="558.3" cy="246.1" r="2.5" fill="#0a0a0a" stroke="#000" stroke-width="0.5"/>
<circle cx="532.2" cy="241.7" r="2.5" fill="#0a0a0a" stroke="#000" stroke-width="0.5"/>
<circle cx="545.8" cy="241.2" r="2.5" fill="#0a0a0a" stroke="#000" stroke-width="0.5"/>
<circle cx="595.8" cy="243.0" r="2.5" fill="#0a0a0a" stroke="#000" stroke-width="0.5"/>
<circle cx="558.2" cy="246.9" r="2.5" fill="#0a0a0a" stroke="#000" stroke-width="0.5"/>
<circle cx="566.8" cy="247.4" r="2.5" fill="#0a0a0a" stroke="#000" stroke-width="0.5"/>
<circle cx="597.4" cy="245.4" r="2.5" fill="#0a0a0a" stroke="#000" stroke-width="0.5"/>
<circle cx="599.3" cy="246.1" r="2.5" fill="#0a0a0a" stroke="#000" stroke-width="0.5"/>
<circle cx="548.3" cy="244.3" r="2.5" fill="#0a0a0a" stroke="#000" stroke-width="0.5"/>
<circle cx="553.7" cy="246.4" r="2.5" fill="#0a0a0a" stroke="#000" stroke-width="0.5"/>
<circle cx="508.2" cy="246.7" r="2.5" fill="#0a0a0a" stroke="#000" stroke-width="0.5"/>
<circle cx="538.1" cy="245.2" r="2.5" fill="#0a0a0a" stroke="#000" stroke-width="0.5"/>
<circle cx="540.3" cy="243.2" r="2.5" fill="#0a0a0a" stroke="#000" stroke-width="0.5"/>
<circle cx="553.9" cy="243.9" r="2.5" fill="#0a0a0a" stroke="#000" stroke-width="0.5"/>
<circle cx="578.7" cy="244.0" r="2.5" fill="#0a0a0a" stroke="#000" stroke-width="0.5"/>
<circle cx="607.6" cy="244.9" r="2.5" fill="#0a0a0a" stroke="#000" stroke-width="0.5"/>
<circle cx="514.0" cy="245.4" r="2.5" fill="#0a0a0a" stroke="#000" stroke-width="0.5"/>
<circle cx="605.2" cy="244.6" r="2.5" fill="#0a0a0a" stroke="#000" stroke-width="0.5"/>
<circle cx="523.0" cy="243.7" r="2.5" fill="#0a0a0a" stroke="#000" stroke-width="0.5"/>
<circle cx="575.9" cy="248.1" r="2.5" fill="#0a0a0a" stroke="#000" stroke-width="0.5"/>
<circle cx="509.1" cy="246.2" r="2.5" fill="#0a0a0a" stroke="#000" stroke-width="0.5"/>
<circle cx="578.3" cy="244.9" r="2.5" fill="#0a0a0a" stroke="#000" stroke-width="0.5"/>
<circle cx="518.8" cy="247.3" r="2.5" fill="#0a0a0a" stroke="#000" stroke-width="0.5"/>
<circle cx="533.0" cy="242.5" r="2.5" fill="#0a0a0a" stroke="#000" stroke-width="0.5"/>
<circle cx="545.1" cy="245.6" r="2.5" fill="#0a0a0a" stroke="#000" stroke-width="0.5"/>
<circle cx="605.0" cy="244.6" r="2.5" fill="#0a0a0a" stroke="#000" stroke-width="0.5"/>
<circle cx="525.9" cy="243.0" r="2.5" fill="#0a0a0a" stroke="#000" stroke-width="0.5"/>
<circle cx="573.2" cy="241.7" r="2.5" fill="#0a0a0a" stroke="#000" stroke-width="0.5"/>
<circle cx="579.7" cy="240.6" r="2.5" fill="#0a0a0a" stroke="#000" stroke-width="0.5"/>
<circle cx="592.5" cy="242.3" r="2.5" fill="#0a0a0a" stroke="#000" stroke-width="0.5"/>
<circle cx="529.1" cy="243.4" r="2.5" fill="#0a0a0a" stroke="#000" stroke-width="0.5"/>
<circle cx="564.9" cy="245.6" r="2.5" fill="#0a0a0a" stroke="#000" stroke-width="0.5"/>
<circle cx="555.0" cy="243.5" r="2.5" fill="#0a0a0a" stroke="#000" stroke-width="0.5"/>
<circle cx="567.5" cy="246.5" r="2.5" fill="#0a0a0a" stroke="#000" stroke-width="0.5"/>
<circle cx="533.1" cy="246.5" r="2.5" fill="#0a0a0a" stroke="#000" stroke-width="0.5"/>
<circle cx="560.9" cy="248.3" r="2.5" fill="#0a0a0a" stroke="#000" stroke-width="0.5"/>
<circle cx="558.1" cy="247.6" r="2.5" fill="#0a0a0a" stroke="#000" stroke-width="0.5"/>
<circle cx="560.7" cy="247.1" r="2.5" fill="#0a0a0a" stroke="#000" stroke-width="0.5"/>
<circle cx="565.8" cy="244.9" r="2.5" fill="#0a0a0a" stroke="#000" stroke-width="0.5"/>
<circle cx="508.6" cy="246.5" r="2.5" fill="#0a0a0a" stroke="#000" stroke-width="0.5"/>
<circle cx="558.2" cy="246.0" r="2.5" fill="#0a0a0a" stroke="#000" stroke-width="0.5"/>
<circle cx="579.4" cy="240.9" r="2.5" fill="#0a0a0a" stroke="#000" stroke-width="0.5"/>
<circle cx="548.2" cy="242.6" r="2.5" fill="#0a0a0a" stroke="#000" stroke-width="0.5"/>
<circle cx="611.1" cy="248.0" r="2.5" fill="#0a0a0a" stroke="#000" stroke-width="0.5"/>
<circle cx="576.3" cy="241.9" r="2.5" fill="#0a0a0a" stroke="#000" stroke-width="0.5"/>
<circle cx="511.0" cy="246.5" r="2.5" fill="#0a0a0a" stroke="#000" stroke-width="0.5"/>
<circle cx="581.2" cy="240.6" r="2.5" fill="#0a0a0a" stroke="#000" stroke-width="0.5"/>
<circle cx="543.4" cy="239.5" r="2.5" fill="#0a0a0a" stroke="#000" stroke-width="0.5"/>
<circle cx="562.7" cy="247.0" r="2.5" fill="#0a0a0a" stroke="#000" stroke-width="0.5"/>
<circle cx="604.3" cy="248.1" r="2.5" fill="#0a0a0a" stroke="#000" stroke-width="0.5"/>
<circle cx="585.0" cy="242.6" r="2.5" fill="#0a0a0a" stroke="#000" stroke-width="0.5"/>
<circle cx="544.3" cy="240.0" r="2.5" fill="#0a0a0a" stroke="#000" stroke-width="0.5"/>
<circle cx="547.2" cy="242.3" r="2.5" fill="#0a0a0a" stroke="#000" stroke-width="0.5"/>
<circle cx="564.3" cy="245.8" r="2.5" fill="#0a0a0a" stroke="#000" stroke-width="0.5"/>
<circle cx="530.5" cy="244.6" r="2.5" fill="#0a0a0a" stroke="#000" stroke-width="0.5"/>
<circle cx="553.3" cy="244.0" r="2.5" fill="#0a0a0a" stroke="#000" stroke-width="0.5"/>
<circle cx="596.7" cy="245.7" r="2.5" fill="#0a0a0a" stroke="#000" stroke-width="0.5"/>
<circle cx="596.8" cy="245.1" r="2.5" fill="#0a0a0a" stroke="#000" stroke-width="0.5"/>
<circle cx="562.0" cy="247.7" r="2.5" fill="#0a0a0a" stroke="#000" stroke-width="0.5"/>
<circle cx="562.3" cy="246.3" r="2.5" fill="#0a0a0a" stroke="#000" stroke-width="0.5"/>
<circle cx="578.2" cy="241.1" r="2.5" fill="#0a0a0a" stroke="#000" stroke-width="0.5"/>
<circle cx="543.4" cy="244.1" r="2.5" fill="#0a0a0a" stroke="#000" stroke-width="0.5"/>
<circle cx="540.0" cy="242.5" r="2.5" fill="#0a0a0a" stroke="#000" stroke-width="0.5"/>
<circle cx="576.1" cy="241.0" r="2.5" fill="#0a0a0a" stroke="#000" stroke-width="0.5"/>
<circle cx="512.2" cy="246.0" r="2.5" fill="#0a0a0a" stroke="#000" stroke-width="0.5"/>
<circle cx="603.0" cy="245.1" r="2.5" fill="#0a0a0a" stroke="#000" stroke-width="0.5"/>
<circle cx="513.2" cy="247.0" r="2.5" fill="#0a0a0a" stroke="#000" stroke-width="0.5"/>
<circle cx="508.6" cy="247.8" r="2.5" fill="#0a0a0a" stroke="#000" stroke-width="0.5"/>
<circle cx="606.9" cy="245.5" r="2.5" fill="#0a0a0a" stroke="#000" stroke-width="0.5"/>
<circle cx="578.6" cy="241.1" r="2.5" fill="#0a0a0a" stroke="#000" stroke-width="0.5"/>
<circle cx="605.6" cy="245.3" r="2.5" fill="#0a0a0a" stroke="#000" stroke-width="0.5"/>
<circle cx="574.1" cy="242.2" r="2.5" fill="#0a0a0a" stroke="#000" stroke-width="0.5"/>
<circle cx="582.7" cy="242.6" r="2.5" fill="#0a0a0a" stroke="#000" stroke-width="0.5"/>
<circle cx="581.0" cy="245.4" r="2.5" fill="#0a0a0a" stroke="#000" stroke-width="0.5"/>
<circle cx="579.5" cy="243.3" r="2.5" fill="#0a0a0a" stroke="#000" stroke-width="0.5"/>
<circle cx="589.8" cy="246.9" r="2.5" fill="#0a0a0a" stroke="#000" stroke-width="0.5"/>
<circle cx="527.4" cy="247.9" r="2.5" fill="#0a0a0a" stroke="#000" stroke-width="0.5"/>
<circle cx="591.1" cy="241.7" r="2.5" fill="#0a0a0a" stroke="#000" stroke-width="0.5"/>
<circle cx="578.3" cy="243.9" r="2.5" fill="#0a0a0a" stroke="#000" stroke-width="0.5"/>
<circle cx="596.2" cy="243.2" r="2.5" fill="#0a0a0a" stroke="#000" stroke-width="0.5"/>
<circle cx="568.3" cy="246.3" r="2.5" fill="#0a0a0a" stroke="#000" stroke-width="0.5"/>
<circle cx="540.3" cy="243.6" r="2.5" fill="#0a0a0a" stroke="#000" stroke-width="0.5"/>
<circle cx="542.1" cy="243.3" r="2.5" fill="#0a0a0a" stroke="#000" stroke-width="0.5"/>
<circle cx="576.8" cy="240.2" r="2.5" fill="#0a0a0a" stroke="#000" stroke-width="0.5"/>
<circle cx="513.8" cy="246.1" r="2.5" fill="#0a0a0a" stroke="#000" stroke-width="0.5"/>
<circle cx="512.1" cy="247.9" r="2.5" fill="#0a0a0a" stroke="#000" stroke-width="0.5"/>
<circle cx="594.9" cy="244.0" r="2.5" fill="#0a0a0a" stroke="#000" stroke-width="0.5"/>
<circle cx="606.6" cy="246.0" r="2.5" fill="#0a0a0a" stroke="#000" stroke-width="0.5"/>
<circle cx="509.4" cy="247.2" r="2.5" fill="#0a0a0a" stroke="#000" stroke-width="0.5"/>
<circle cx="571.5" cy="241.8" r="2.5" fill="#0a0a0a" stroke="#000" stroke-width="0.5"/>
<circle cx="613.2" cy="246.8" r="2.5" fill="#0a0a0a" stroke="#000" stroke-width="0.5"/>
<circle cx="552.2" cy="246.9" r="2.5" fill="#0a0a0a" stroke="#000" stroke-width="0.5"/>
<circle cx="577.1" cy="245.3" r="2.5" fill="#0a0a0a" stroke="#000" stroke-width="0.5"/>
<circle cx="524.2" cy="248.3" r="2.5" fill="#0a0a0a" stroke="#000" stroke-width="0.5"/>
<circle cx="508.4" cy="246.8" r="2.5" fill="#0a0a0a" stroke="#000" stroke-width="0.5"/>
<circle cx="521.0" cy="243.5" r="2.5" fill="#0a0a0a" stroke="#000" stroke-width="0.5"/>
<circle cx="517.4" cy="244.6" r="2.5" fill="#0a0a0a" stroke="#000" stroke-width="0.5"/>
<circle cx="521.8" cy="248.3" r="2.5" fill="#0a0a0a" stroke="#000" stroke-width="0.5"/>
<circle cx="585.2" cy="245.3" r="2.5" fill="#0a0a0a" stroke="#000" stroke-width="0.5"/>
<circle cx="586.7" cy="245.8" r="2.5" fill="#0a0a0a" stroke="#000" stroke-width="0.5"/>
<circle cx="513.3" cy="245.7" r="2.5" fill="#0a0a0a" stroke="#000" stroke-width="0.5"/>
<circle cx="584.5" cy="241.3" r="2.5" fill="#0a0a0a" stroke="#000" stroke-width="0.5"/>
<circle cx="586.3" cy="247.0" r="2.5" fill="#0a0a0a" stroke="#000" stroke-width="0.5"/>
<circle cx="575.4" cy="241.4" r="2.5" fill="#0a0a0a" stroke="#000" stroke-width="0.5"/>
<circle cx="557.4" cy="244.7" r="2.5" fill="#0a0a0a" stroke="#000" stroke-width="0.5"/>
<circle cx="535.2" cy="241.3" r="2.5" fill="#0a0a0a" stroke="#000" stroke-width="0.5"/>
<circle cx="584.9" cy="248.2" r="2.5" fill="#0a0a0a" stroke="#000" stroke-width="0.5"/>
<circle cx="509.5" cy="246.6" r="2.5" fill="#0a0a0a" stroke="#000" stroke-width="0.5"/>
<circle cx="595.7" cy="247.3" r="2.5" fill="#0a0a0a" stroke="#000" stroke-width="0.5"/>
<circle cx="541.3" cy="241.4" r="2.5" fill="#0a0a0a" stroke="#000" stroke-width="0.5"/>
<circle cx="525.7" cy="243.1" r="2.5" fill="#0a0a0a" stroke="#000" stroke-width="0.5"/>
<circle cx="560.1" cy="248.3" r="2.5" fill="#0a0a0a" stroke="#000" stroke-width="0.5"/>
<circle cx="547.4" cy="241.5" r="2.5" fill="#0a0a0a" stroke="#000" stroke-width="0.5"/>
<circle cx="555.0" cy="244.3" r="2.5" fill="#0a0a0a" stroke="#000" stroke-width="0.5"/>
<circle cx="523.5" cy="243.7" r="2.5" fill="#0a0a0a" stroke="#000" stroke-width="0.5"/>
<circle cx="546.9" cy="241.0" r="2.5" fill="#0a0a0a" stroke="#000" stroke-width="0.5"/>
<circle cx="575.5" cy="243.4" r="2.5" fill="#0a0a0a" stroke="#000" stroke-width="0.5"/>
<circle cx="549.3" cy="240.5" r="2.5" fill="#0a0a0a" stroke="#000" stroke-width="0.5"/>
<circle cx="609.4" cy="245.4" r="2.5" fill="#0a0a0a" stroke="#000" stroke-width="0.5"/>
<circle cx="568.8" cy="246.0" r="2.5" fill="#0a0a0a" stroke="#000" stroke-width="0.5"/>
<circle cx="514.4" cy="244.9" r="2.5" fill="#0a0a0a" stroke="#000" stroke-width="0.5"/>
<circle cx="583.4" cy="241.3" r="2.5" fill="#0a0a0a" stroke="#000" stroke-width="0.5"/>
<circle cx="543.6" cy="241.8" r="2.5" fill="#0a0a0a" stroke="#000" stroke-width="0.5"/>
<circle cx="612.9" cy="245.9" r="2.5" fill="#0a0a0a" stroke="#000" stroke-width="0.5"/>
<circle cx="572.5" cy="245.0" r="2.5" fill="#0a0a0a" stroke="#000" stroke-width="0.5"/>
<circle cx="553.9" cy="242.8" r="2.5" fill="#0a0a0a" stroke="#000" stroke-width="0.5"/>
<circle cx="548.4" cy="240.6" r="2.5" fill="#0a0a0a" stroke="#000" stroke-width="0.5"/>
<circle cx="572.5" cy="241.5" r="2.5" fill="#0a0a0a" stroke="#000" stroke-width="0.5"/>
<circle cx="594.6" cy="245.6" r="2.5" fill="#0a0a0a" stroke="#000" stroke-width="0.5"/>
<circle cx="508.1" cy="247.7" r="2.5" fill="#0a0a0a" stroke="#000" stroke-width="0.5"/>
<circle cx="553.3" cy="243.8" r="2.5" fill="#0a0a0a" stroke="#000" stroke-width="0.5"/>
<circle cx="595.5" cy="242.6" r="2.5" fill="#0a0a0a" stroke="#000" stroke-width="0.5"/>
<circle cx="512.4" cy="245.7" r="2.5" fill="#0a0a0a" stroke="#000" stroke-width="0.5"/>
<circle cx="595.1" cy="242.6" r="2.5" fill="#0a0a0a" stroke="#000" stroke-width="0.5"/>
<circle cx="569.3" cy="246.0" r="2.5" fill="#0a0a0a" stroke="#000" stroke-width="0.5"/>
<circle cx="599.3" cy="243.6" r="2.5" fill="#0a0a0a" stroke="#000" stroke-width="0.5"/>
<circle cx="581.4" cy="240.7" r="2.5" fill="#0a0a0a" stroke="#000" stroke-width="0.5"/>
<circle cx="545.2" cy="246.6" r="2.5" fill="#0a0a0a" stroke="#000" stroke-width="0.5"/>
<circle cx="567.4" cy="244.4" r="2.5" fill="#0a0a0a" stroke="#000" stroke-width="0.5"/>
<circle cx="529.4" cy="243.1" r="2.5" fill="#0a0a0a" stroke="#000" stroke-width="0.5"/>
<circle cx="608.0" cy="247.0" r="2.5" fill="#0a0a0a" stroke="#000" stroke-width="0.5"/>
<circle cx="573.1" cy="242.4" r="2.5" fill="#0a0a0a" stroke="#000" stroke-width="0.5"/>
<circle cx="557.9" cy="247.2" r="2.5" fill="#0a0a0a" stroke="#000" stroke-width="0.5"/>
<circle cx="535.3" cy="242.3" r="2.5" fill="#0a0a0a" stroke="#000" stroke-width="0.5"/>
<circle cx="592.9" cy="244.3" r="2.5" fill="#0a0a0a" stroke="#000" stroke-width="0.5"/>
<circle cx="517.3" cy="244.8" r="2.5" fill="#0a0a0a" stroke="#000" stroke-width="0.5"/>
<circle cx="590.8" cy="245.7" r="2.5" fill="#0a0a0a" stroke="#000" stroke-width="0.5"/>
<circle cx="570.1" cy="242.7" r="2.5" fill="#0a0a0a" stroke="#000" stroke-width="0.5"/>
<circle cx="603.0" cy="245.2" r="2.5" fill="#0a0a0a" stroke="#000" stroke-width="0.5"/>
<circle cx="559.1" cy="246.3" r="2.5" fill="#0a0a0a" stroke="#000" stroke-width="0.5"/>
<circle cx="528.2" cy="246.4" r="2.5" fill="#0a0a0a" stroke="#000" stroke-width="0.5"/>
<circle cx="527.3" cy="243.6" r="2.5" fill="#0a0a0a" stroke="#000" stroke-width="0.5"/>
<circle cx="546.9" cy="241.6" r="2.5" fill="#0a0a0a" stroke="#000" stroke-width="0.5"/>
<circle cx="551.1" cy="243.2" r="2.5" fill="#0a0a0a" stroke="#000" stroke-width="0.5"/>
<circle cx="523.9" cy="247.9" r="2.5" fill="#0a0a0a" stroke="#000" stroke-width="0.5"/>
<circle cx="615.0" cy="247.2" r="2.5" fill="#0a0a0a" stroke="#000" stroke-width="0.5"/>
<circle cx="519.3" cy="245.0" r="2.5" fill="#0a0a0a" stroke="#000" stroke-width="0.5"/>
<circle cx="592.5" cy="246.4" r="2.5" fill="#0a0a0a" stroke="#000" stroke-width="0.5"/>
<circle cx="572.0" cy="244.8" r="2.5" fill="#0a0a0a" stroke="#000" stroke-width="0.5"/>
<circle cx="563.7" cy="248.5" r="2.5" fill="#0a0a0a" stroke="#000" stroke-width="0.5"/>
<circle cx="511.5" cy="245.6" r="2.5" fill="#0a0a0a" stroke="#000" stroke-width="0.5"/>
<circle cx="600.9" cy="245.1" r="2.5" fill="#0a0a0a" stroke="#000" stroke-width="0.5"/>
<circle cx="568.8" cy="246.2" r="2.5" fill="#0a0a0a" stroke="#000" stroke-width="0.5"/>
<circle cx="591.6" cy="244.4" r="2.5" fill="#0a0a0a" stroke="#000" stroke-width="0.5"/>
<circle cx="609.6" cy="245.5" r="2.5" fill="#0a0a0a" stroke="#000" stroke-width="0.5"/>
<circle cx="595.8" cy="242.4" r="2.5" fill="#0a0a0a" stroke="#000" stroke-width="0.5"/>
<circle cx="535.2" cy="247.7" r="2.5" fill="#0a0a0a" stroke="#000" stroke-width="0.5"/>
<circle cx="529.5" cy="246.4" r="2.5" fill="#0a0a0a" stroke="#000" stroke-width="0.5"/>
<circle cx="516.9" cy="248.0" r="2.5" fill="#0a0a0a" stroke="#000" stroke-width="0.5"/>
<circle cx="567.8" cy="243.9" r="2.5" fill="#0a0a0a" stroke="#000" stroke-width="0.5"/>
<circle cx="557.1" cy="244.5" r="2.5" fill="#0a0a0a" stroke="#000" stroke-width="0.5"/>
<circle cx="605.6" cy="247.9" r="2.5" fill="#0a0a0a" stroke="#000" stroke-width="0.5"/>
<circle cx="572.1" cy="244.4" r="2.5" fill="#0a0a0a" stroke="#000" stroke-width="0.5"/>
<circle cx="520.8" cy="243.6" r="2.5" fill="#0a0a0a" stroke="#000" stroke-width="0.5"/>
<circle cx="535.5" cy="243.3" r="2.5" fill="#0a0a0a" stroke="#000" stroke-width="0.5"/>
<circle cx="576.7" cy="240.0" r="2.5" fill="#0a0a0a" stroke="#000" stroke-width="0.5"/>
<circle cx="579.8" cy="243.8" r="2.5" fill="#0a0a0a" stroke="#000" stroke-width="0.5"/>
<circle cx="556.1" cy="247.1" r="2.5" fill="#0a0a0a" stroke="#000" stroke-width="0.5"/>
<circle cx="611.6" cy="245.3" r="2.5" fill="#0a0a0a" stroke="#000" stroke-width="0.5"/>
<circle cx="531.7" cy="247.8" r="2.5" fill="#0a0a0a" stroke="#000" stroke-width="0.5"/>
<circle cx="535.4" cy="244.7" r="2.5" fill="#0a0a0a" stroke="#000" stroke-width="0.5"/>
<circle cx="604.9" cy="244.2" r="2.5" fill="#0a0a0a" stroke="#000" stroke-width="0.5"/>
<circle cx="597.8" cy="247.8" r="2.5" fill="#0a0a0a" stroke="#000" stroke-width="0.5"/>
<circle cx="592.4" cy="242.9" r="2.5" fill="#0a0a0a" stroke="#000" stroke-width="0.5"/>
<circle cx="577.4" cy="239.9" r="2.5" fill="#0a0a0a" stroke="#000" stroke-width="0.5"/>
<circle cx="513.9" cy="247.6" r="2.5" fill="#0a0a0a" stroke="#000" stroke-width="0.5"/>
<circle cx="589.0" cy="241.3" r="2.5" fill="#0a0a0a" stroke="#000" stroke-width="0.5"/>
<circle cx="580.6" cy="244.6" r="2.5" fill="#0a0a0a" stroke="#000" stroke-width="0.5"/>
<circle cx="571.4" cy="242.7" r="2.5" fill="#0a0a0a" stroke="#000" stroke-width="0.5"/>
<circle cx="519.2" cy="246.3" r="2.5" fill="#0a0a0a" stroke="#000" stroke-width="0.5"/>
<circle cx="535.5" cy="246.6" r="2.5" fill="#0a0a0a" stroke="#000" stroke-width="0.5"/>
<circle cx="559.6" cy="247.7" r="2.5" fill="#0a0a0a" stroke="#000" stroke-width="0.5"/>
<circle cx="533.5" cy="246.5" r="2.5" fill="#0a0a0a" stroke="#000" stroke-width="0.5"/>
<circle cx="580.7" cy="248.2" r="2.5" fill="#0a0a0a" stroke="#000" stroke-width="0.5"/>
<circle cx="584.9" cy="245.7" r="2.5" fill="#0a0a0a" stroke="#000" stroke-width="0.5"/>
<circle cx="511.8" cy="245.6" r="2.5" fill="#0a0a0a" stroke="#000" stroke-width="0.5"/>
<circle cx="531.6" cy="242.0" r="2.5" fill="#0a0a0a" stroke="#000" stroke-width="0.5"/>
<circle cx="601.0" cy="243.5" r="2.5" fill="#0a0a0a" stroke="#000" stroke-width="0.5"/>
<circle cx="522.9" cy="245.3" r="2.5" fill="#0a0a0a" stroke="#000" stroke-width="0.5"/>
<circle cx="518.3" cy="244.2" r="2.5" fill="#0a0a0a" stroke="#000" stroke-width="0.5"/>
<circle cx="598.4" cy="244.2" r="2.5" fill="#0a0a0a" stroke="#000" stroke-width="0.5"/>
<circle cx="556.5" cy="246.3" r="2.5" fill="#0a0a0a" stroke="#000" stroke-width="0.5"/>
<circle cx="596.3" cy="244.6" r="2.5" fill="#0a0a0a" stroke="#000" stroke-width="0.5"/>
<circle cx="575.4" cy="246.0" r="2.5" fill="#0a0a0a" stroke="#000" stroke-width="0.5"/>
<circle cx="531.7" cy="247.5" r="2.5" fill="#0a0a0a" stroke="#000" stroke-width="0.5"/>
<circle cx="584.6" cy="243.0" r="2.5" fill="#0a0a0a" stroke="#000" stroke-width="0.5"/>
<circle cx="523.4" cy="243.4" r="2.5" fill="#0a0a0a" stroke="#000" stroke-width="0.5"/>
<circle cx="536.5" cy="244.1" r="2.5" fill="#0a0a0a" stroke="#000" stroke-width="0.5"/>
<circle cx="524.6" cy="246.1" r="2.5" fill="#0a0a0a" stroke="#000" stroke-width="0.5"/>
<circle cx="598.1" cy="245.6" r="2.5" fill="#0a0a0a" stroke="#000" stroke-width="0.5"/>
<circle cx="525.9" cy="244.7" r="2.5" fill="#0a0a0a" stroke="#000" stroke-width="0.5"/>
<circle cx="542.1" cy="240.2" r="2.5" fill="#0a0a0a" stroke="#000" stroke-width="0.5"/>
<circle cx="520.2" cy="243.6" r="2.5" fill="#0a0a0a" stroke="#000" stroke-width="0.5"/>
<circle cx="514.0" cy="245.2" r="2.5" fill="#0a0a0a" stroke="#000" stroke-width="0.5"/>
<circle cx="579.7" cy="245.4" r="2.5" fill="#0a0a0a" stroke="#000" stroke-width="0.5"/>
<circle cx="559.2" cy="247.2" r="2.5" fill="#0a0a0a" stroke="#000" stroke-width="0.5"/>
<circle cx="535.6" cy="245.8" r="2.5" fill="#0a0a0a" stroke="#000" stroke-width="0.5"/>
<circle cx="547.0" cy="238.7" r="2.5" fill="#0a0a0a" stroke="#000" stroke-width="0.5"/>
<circle cx="615.1" cy="246.1" r="2.5" fill="#0a0a0a" stroke="#000" stroke-width="0.5"/>
<circle cx="518.4" cy="246.5" r="2.5" fill="#0a0a0a" stroke="#000" stroke-width="0.5"/>
<circle cx="604.2" cy="247.9" r="2.5" fill="#0a0a0a" stroke="#000" stroke-width="0.5"/>
<circle cx="585.9" cy="244.9" r="2.5" fill="#0a0a0a" stroke="#000" stroke-width="0.5"/>
<circle cx="613.0" cy="248.5" r="2.5" fill="#0a0a0a" stroke="#000" stroke-width="0.5"/>
<circle cx="594.6" cy="245.2" r="2.5" fill="#0a0a0a" stroke="#000" stroke-width="0.5"/>
<circle cx="523.0" cy="248.7" r="2.5" fill="#0a0a0a" stroke="#000" stroke-width="0.5"/>
<circle cx="597.3" cy="244.5" r="2.5" fill="#0a0a0a" stroke="#000" stroke-width="0.5"/>
<circle cx="527.9" cy="244.8" r="2.5" fill="#0a0a0a" stroke="#000" stroke-width="0.5"/>
<circle cx="605.8" cy="246.9" r="2.5" fill="#0a0a0a" stroke="#000" stroke-width="0.5"/>
<circle cx="569.3" cy="246.9" r="2.5" fill="#0a0a0a" stroke="#000" stroke-width="0.5"/>
<circle cx="527.2" cy="243.3" r="2.5" fill="#0a0a0a" stroke="#000" stroke-width="0.5"/>
<circle cx="584.3" cy="245.7" r="2.5" fill="#0a0a0a" stroke="#000" stroke-width="0.5"/>
<circle cx="516.4" cy="247.8" r="2.5" fill="#0a0a0a" stroke="#000" stroke-width="0.5"/>
<circle cx="573.3" cy="243.4" r="2.5" fill="#0a0a0a" stroke="#000" stroke-width="0.5"/>
<circle cx="537.3" cy="245.6" r="2.5" fill="#0a0a0a" stroke="#000" stroke-width="0.5"/>
<circle cx="573.7" cy="241.9" r="2.5" fill="#0a0a0a" stroke="#000" stroke-width="0.5"/>
<circle cx="595.1" cy="243.9" r="2.5" fill="#0a0a0a" stroke="#000" stroke-width="0.5"/>
<circle cx="529.6" cy="247.5" r="2.5" fill="#0a0a0a" stroke="#000" stroke-width="0.5"/>
<circle cx="586.6" cy="244.1" r="2.5" fill="#0a0a0a" stroke="#000" stroke-width="0.5"/>
<circle cx="585.4" cy="247.4" r="2.5" fill="#0a0a0a" stroke="#000" stroke-width="0.5"/>
<circle cx="595.0" cy="245.3" r="2.5" fill="#0a0a0a" stroke="#000" stroke-width="0.5"/>
<circle cx="598.3" cy="243.2" r="2.5" fill="#0a0a0a" stroke="#000" stroke-width="0.5"/>
<circle cx="560.9" cy="248.6" r="2.5" fill="#0a0a0a" stroke="#000" stroke-width="0.5"/>
<circle cx="605.7" cy="245.8" r="2.5" fill="#0a0a0a" stroke="#000" stroke-width="0.5"/>
<circle cx="601.6" cy="246.3" r="2.5" fill="#0a0a0a" stroke="#000" stroke-width="0.5"/>
<circle cx="527.9" cy="243.0" r="2.5" fill="#0a0a0a" stroke="#000" stroke-width="0.5"/>
<circle cx="547.3" cy="245.4" r="2.5" fill="#0a0a0a" stroke="#000" stroke-width="0.5"/>
<circle cx="547.8" cy="241.3" r="2.5" fill="#0a0a0a" stroke="#000" stroke-width="0.5"/>
<circle cx="508.4" cy="247.1" r="2.5" fill="#0a0a0a" stroke="#000" stroke-width="0.5"/>
<circle cx="555.8" cy="245.3" r="2.5" fill="#0a0a0a" stroke="#000" stroke-width="0.5"/>
<circle cx="520.9" cy="244.4" r="2.5" fill="#0a0a0a" stroke="#000" stroke-width="0.5"/>
<circle cx="595.6" cy="242.7" r="2.5" fill="#0a0a0a" stroke="#000" stroke-width="0.5"/>
<circle cx="542.4" cy="241.3" r="2.5" fill="#0a0a0a" stroke="#000" stroke-width="0.5"/>
<circle cx="548.9" cy="240.5" r="2.5" fill="#0a0a0a" stroke="#000" stroke-width="0.5"/>
<circle cx="514.5" cy="245.2" r="2.5" fill="#0a0a0a" stroke="#000" stroke-width="0.5"/>
<circle cx="610.4" cy="246.3" r="2.5" fill="#0a0a0a" stroke="#000" stroke-width="0.5"/>
<circle cx="563.0" cy="246.8" r="2.5" fill="#0a0a0a" stroke="#000" stroke-width="0.5"/>
<circle cx="565.6" cy="248.4" r="2.5" fill="#0a0a0a" stroke="#000" stroke-width="0.5"/>
<circle cx="611.8" cy="247.4" r="2.5" fill="#0a0a0a" stroke="#000" stroke-width="0.5"/>
<circle cx="527.5" cy="247.1" r="2.5" fill="#0a0a0a" stroke="#000" stroke-width="0.5"/>
<circle cx="534.8" cy="242.0" r="2.5" fill="#0a0a0a" stroke="#000" stroke-width="0.5"/>
<circle cx="511.1" cy="248.0" r="2.5" fill="#0a0a0a" stroke="#000" stroke-width="0.5"/>
<circle cx="583.0" cy="245.6" r="2.5" fill="#0a0a0a" stroke="#000" stroke-width="0.5"/>
<circle cx="509.8" cy="246.7" r="2.5" fill="#0a0a0a" stroke="#000" stroke-width="0.5"/>
<circle cx="569.8" cy="244.5" r="2.5" fill="#0a0a0a" stroke="#000" stroke-width="0.5"/>
<circle cx="583.4" cy="246.7" r="2.5" fill="#0a0a0a" stroke="#000" stroke-width="0.5"/>
<circle cx="601.3" cy="244.2" r="2.5" fill="#0a0a0a" stroke="#000" stroke-width="0.5"/>
<circle cx="512.8" cy="247.8" r="2.5" fill="#0a0a0a" stroke="#000" stroke-width="0.5"/>
<circle cx="560.9" cy="247.2" r="2.5" fill="#0a0a0a" stroke="#000" stroke-width="0.5"/>
<circle cx="537.9" cy="246.5" r="2.5" fill="#0a0a0a" stroke="#000" stroke-width="0.5"/>
<circle cx="551.5" cy="246.3" r="2.5" fill="#0a0a0a" stroke="#000" stroke-width="0.5"/>
<circle cx="571.5" cy="242.2" r="2.5" fill="#0a0a0a" stroke="#000" stroke-width="0.5"/>
<circle cx="523.7" cy="244.6" r="2.5" fill="#0a0a0a" stroke="#000" stroke-width="0.5"/>
<circle cx="588.1" cy="246.1" r="2.5" fill="#0a0a0a" stroke="#000" stroke-width="0.5"/>
<circle cx="596.6" cy="242.6" r="2.5" fill="#0a0a0a" stroke="#000" stroke-width="0.5"/>
<circle cx="549.7" cy="243.2" r="2.5" fill="#0a0a0a" stroke="#000" stroke-width="0.5"/>
<circle cx="598.1" cy="244.6" r="2.5" fill="#0a0a0a" stroke="#000" stroke-width="0.5"/>
<circle cx="550.4" cy="240.3" r="2.5" fill="#0a0a0a" stroke="#000" stroke-width="0.5"/>
<circle cx="591.3" cy="244.9" r="2.5" fill="#0a0a0a" stroke="#000" stroke-width="0.5"/>
<circle cx="533.7" cy="244.9" r="2.5" fill="#0a0a0a" stroke="#000" stroke-width="0.5"/>
<circle cx="554.7" cy="242.9" r="2.5" fill="#0a0a0a" stroke="#000" stroke-width="0.5"/>
<circle cx="594.3" cy="242.3" r="2.5" fill="#0a0a0a" stroke="#000" stroke-width="0.5"/>
<circle cx="595.4" cy="242.8" r="2.5" fill="#0a0a0a" stroke="#000" stroke-width="0.5"/>
<circle cx="513.7" cy="246.3" r="2.5" fill="#0a0a0a" stroke="#000" stroke-width="0.5"/>
<circle cx="610.8" cy="245.3" r="2.5" fill="#0a0a0a" stroke="#000" stroke-width="0.5"/>
<circle cx="534.7" cy="244.3" r="2.5" fill="#0a0a0a" stroke="#000" stroke-width="0.5"/>
<circle cx="575.9" cy="243.8" r="2.5" fill="#0a0a0a" stroke="#000" stroke-width="0.5"/>
<circle cx="564.9" cy="248.0" r="2.5" fill="#0a0a0a" stroke="#000" stroke-width="0.5"/>
<circle cx="554.4" cy="244.7" r="2.5" fill="#0a0a0a" stroke="#000" stroke-width="0.5"/>
<circle cx="510.1" cy="247.9" r="2.5" fill="#0a0a0a" stroke="#000" stroke-width="0.5"/>
<circle cx="612.0" cy="245.9" r="2.5" fill="#0a0a0a" stroke="#000" stroke-width="0.5"/>
<circle cx="608.5" cy="245.7" r="2.5" fill="#0a0a0a" stroke="#000" stroke-width="0.5"/>
<circle cx="594.8" cy="242.5" r="2.5" fill="#0a0a0a" stroke="#000" stroke-width="0.5"/>
<circle cx="602.9" cy="248.1" r="2.5" fill="#0a0a0a" stroke="#000" stroke-width="0.5"/>
<circle cx="576.8" cy="244.7" r="2.5" fill="#0a0a0a" stroke="#000" stroke-width="0.5"/>
<circle cx="580.8" cy="244.8" r="2.5" fill="#0a0a0a" stroke="#000" stroke-width="0.5"/>
<circle cx="566.1" cy="244.6" r="2.5" fill="#0a0a0a" stroke="#000" stroke-width="0.5"/>
<circle cx="574.6" cy="244.9" r="2.5" fill="#0a0a0a" stroke="#000" stroke-width="0.5"/>
<circle cx="563.8" cy="246.8" r="2.5" fill="#0a0a0a" stroke="#000" stroke-width="0.5"/>
<circle cx="610.0" cy="247.0" r="2.5" fill="#0a0a0a" stroke="#000" stroke-width="0.5"/>
<circle cx="540.7" cy="242.0" r="2.5" fill="#0a0a0a" stroke="#000" stroke-width="0.5"/>
<circle cx="520.8" cy="244.9" r="2.5" fill="#0a0a0a" stroke="#000" stroke-width="0.5"/>
<circle cx="610.6" cy="246.3" r="2.5" fill="#0a0a0a" stroke="#000" stroke-width="0.5"/>
<circle cx="536.7" cy="243.7" r="2.5" fill="#0a0a0a" stroke="#000" stroke-width="0.5"/>
<circle cx="565.2" cy="247.5" r="2.5" fill="#0a0a0a" stroke="#000" stroke-width="0.5"/>
<circle cx="521.2" cy="247.2" r="2.5" fill="#0a0a0a" stroke="#000" stroke-width="0.5"/>
<circle cx="539.4" cy="243.8" r="2.5" fill="#0a0a0a" stroke="#000" stroke-width="0.5"/>
<circle cx="538.9" cy="245.2" r="2.5" fill="#0a0a0a" stroke="#000" stroke-width="0.5"/>
<circle cx="517.3" cy="245.6" r="2.5" fill="#0a0a0a" stroke="#000" stroke-width="0.5"/>
<circle cx="598.1" cy="244.2" r="2.5" fill="#0a0a0a" stroke="#000" stroke-width="0.5"/>
<circle cx="569.1" cy="244.1" r="2.5" fill="#0a0a0a" stroke="#000" stroke-width="0.5"/>
<circle cx="529.5" cy="243.3" r="2.5" fill="#0a0a0a" stroke="#000" stroke-width="0.5"/>
<circle cx="557.4" cy="245.8" r="2.5" fill="#0a0a0a" stroke="#000" stroke-width="0.5"/>
<circle cx="573.7" cy="243.4" r="2.5" fill="#0a0a0a" stroke="#000" stroke-width="0.5"/>
<circle cx="541.2" cy="245.0" r="2.5" fill="#0a0a0a" stroke="#000" stroke-width="0.5"/>
<circle cx="531.7" cy="244.0" r="2.5" fill="#0a0a0a" stroke="#000" stroke-width="0.5"/>
<circle cx="549.1" cy="241.7" r="2.5" fill="#0a0a0a" stroke="#000" stroke-width="0.5"/>
<circle cx="509.2" cy="247.3" r="2.5" fill="#0a0a0a" stroke="#000" stroke-width="0.5"/>
<circle cx="600.5" cy="246.4" r="2.5" fill="#0a0a0a" stroke="#000" stroke-width="0.5"/>
<circle cx="567.7" cy="245.4" r="2.5" fill="#0a0a0a" stroke="#000" stroke-width="0.5"/>
<circle cx="538.5" cy="240.5" r="2.5" fill="#0a0a0a" stroke="#000" stroke-width="0.5"/>
<circle cx="539.6" cy="241.4" r="2.5" fill="#0a0a0a" stroke="#000" stroke-width="0.5"/>
<circle cx="524.9" cy="247.6" r="2.5" fill="#0a0a0a" stroke="#000" stroke-width="0.5"/>
<circle cx="601.5" cy="245.4" r="2.5" fill="#0a0a0a" stroke="#000" stroke-width="0.5"/>
<circle cx="514.6" cy="246.6" r="2.5" fill="#0a0a0a" stroke="#000" stroke-width="0.5"/>
<circle cx="555.1" cy="244.1" r="2.5" fill="#0a0a0a" stroke="#000" stroke-width="0.5"/>
<circle cx="519.6" cy="246.7" r="2.5" fill="#0a0a0a" stroke="#000" stroke-width="0.5"/>
<circle cx="610.9" cy="245.8" r="2.5" fill="#0a0a0a" stroke="#000" stroke-width="0.5"/>
<circle cx="524.5" cy="245.7" r="2.5" fill="#0a0a0a" stroke="#000" stroke-width="0.5"/>
<circle cx="545.8" cy="241.0" r="2.5" fill="#0a0a0a" stroke="#000" stroke-width="0.5"/>
<circle cx="574.1" cy="240.9" r="2.5" fill="#0a0a0a" stroke="#000" stroke-width="0.5"/>
<circle cx="596.1" cy="244.4" r="2.5" fill="#0a0a0a" stroke="#000" stroke-width="0.5"/>
<circle cx="587.2" cy="242.1" r="2.5" fill="#0a0a0a" stroke="#000" stroke-width="0.5"/>
<circle cx="589.5" cy="243.8" r="2.5" fill="#0a0a0a" stroke="#000" stroke-width="0.5"/>
<circle cx="592.2" cy="242.9" r="2.5" fill="#0a0a0a" stroke="#000" stroke-width="0.5"/>
<circle cx="606.1" cy="247.5" r="2.5" fill="#0a0a0a" stroke="#000" stroke-width="0.5"/>
<circle cx="601.4" cy="248.6" r="2.5" fill="#0a0a0a" stroke="#000" stroke-width="0.5"/>
<circle cx="590.1" cy="243.3" r="2.5" fill="#0a0a0a" stroke="#000" stroke-width="0.5"/>
<circle cx="561.4" cy="246.6" r="2.5" fill="#0a0a0a" stroke="#000" stroke-width="0.5"/>
<circle cx="569.3" cy="245.2" r="2.5" fill="#0a0a0a" stroke="#000" stroke-width="0.5"/>
<circle cx="592.1" cy="242.1" r="2.5" fill="#0a0a0a" stroke="#000" stroke-width="0.5"/>
<circle cx="573.1" cy="244.2" r="2.5" fill="#0a0a0a" stroke="#000" stroke-width="0.5"/>
<circle cx="556.5" cy="245.8" r="2.5" fill="#0a0a0a" stroke="#000" stroke-width="0.5"/>
<circle cx="585.6" cy="244.9" r="2.5" fill="#0a0a0a" stroke="#000" stroke-width="0.5"/>
<circle cx="549.9" cy="242.3" r="2.5" fill="#0a0a0a" stroke="#000" stroke-width="0.5"/>
<circle cx="549.2" cy="243.9" r="2.5" fill="#0a0a0a" stroke="#000" stroke-width="0.5"/>
<circle cx="592.4" cy="242.3" r="2.5" fill="#0a0a0a" stroke="#000" stroke-width="0.5"/>
<circle cx="561.6" cy="247.5" r="2.5" fill="#0a0a0a" stroke="#000" stroke-width="0.5"/>
<circle cx="527.7" cy="245.6" r="2.5" fill="#0a0a0a" stroke="#000" stroke-width="0.5"/>
<circle cx="523.5" cy="244.6" r="2.5" fill="#0a0a0a" stroke="#000" stroke-width="0.5"/>
<circle cx="570.4" cy="247.2" r="2.5" fill="#0a0a0a" stroke="#000" stroke-width="0.5"/>
<circle cx="606.7" cy="246.5" r="2.5" fill="#0a0a0a" stroke="#000" stroke-width="0.5"/>
<circle cx="598.5" cy="243.3" r="2.5" fill="#0a0a0a" stroke="#000" stroke-width="0.5"/>
<circle cx="610.9" cy="247.4" r="2.5" fill="#0a0a0a" stroke="#000" stroke-width="0.5"/>
<circle cx="553.7" cy="242.6" r="2.5" fill="#0a0a0a" stroke="#000" stroke-width="0.5"/>
<circle cx="509.0" cy="248.4" r="2.5" fill="#0a0a0a" stroke="#000" stroke-width="0.5"/>
<circle cx="568.6" cy="245.0" r="2.5" fill="#0a0a0a" stroke="#000" stroke-width="0.5"/>
<circle cx="606.7" cy="244.9" r="2.5" fill="#0a0a0a" stroke="#000" stroke-width="0.5"/>
<circle cx="565.7" cy="244.6" r="2.5" fill="#0a0a0a" stroke="#000" stroke-width="0.5"/>
<circle cx="563.5" cy="246.7" r="2.5" fill="#0a0a0a" stroke="#000" stroke-width="0.5"/>
<circle cx="581.5" cy="243.9" r="2.5" fill="#0a0a0a" stroke="#000" stroke-width="0.5"/>
<circle cx="546.3" cy="241.5" r="2.5" fill="#0a0a0a" stroke="#000" stroke-width="0.5"/>
<circle cx="545.6" cy="239.3" r="2.5" fill="#0a0a0a" stroke="#000" stroke-width="0.5"/>
<circle cx="580.6" cy="242.9" r="2.5" fill="#0a0a0a" stroke="#000" stroke-width="0.5"/>
<circle cx="518.5" cy="246.1" r="2.5" fill="#0a0a0a" stroke="#000" stroke-width="0.5"/>
<circle cx="551.0" cy="242.8" r="2.5" fill="#0a0a0a" stroke="#000" stroke-width="0.5"/>
<circle cx="569.6" cy="243.0" r="2.5" fill="#0a0a0a" stroke="#000" stroke-width="0.5"/>
<circle cx="611.5" cy="246.5" r="2.5" fill="#0a0a0a" stroke="#000" stroke-width="0.5"/>
<circle cx="555.2" cy="244.6" r="2.5" fill="#0a0a0a" stroke="#000" stroke-width="0.5"/>
<circle cx="614.9" cy="247.3" r="2.5" fill="#0a0a0a" stroke="#000" stroke-width="0.5"/>
<circle cx="564.8" cy="245.4" r="2.5" fill="#0a0a0a" stroke="#000" stroke-width="0.5"/>
<circle cx="526.2" cy="245.6" r="2.5" fill="#0a0a0a" stroke="#000" stroke-width="0.5"/>
<circle cx="613.0" cy="245.9" r="2.5" fill="#0a0a0a" stroke="#000" stroke-width="0.5"/>
<circle cx="563.0" cy="248.0" r="2.5" fill="#0a0a0a" stroke="#000" stroke-width="0.5"/>
<circle cx="604.0" cy="244.7" r="2.5" fill="#0a0a0a" stroke="#000" stroke-width="0.5"/>
<circle cx="596.0" cy="242.3" r="2.5" fill="#0a0a0a" stroke="#000" stroke-width="0.5"/>
<circle cx="603.3" cy="245.7" r="2.5" fill="#0a0a0a" stroke="#000" stroke-width="0.5"/>
<circle cx="524.7" cy="245.9" r="2.5" fill="#0a0a0a" stroke="#000" stroke-width="0.5"/>
<circle cx="562.8" cy="247.0" r="2.5" fill="#0a0a0a" stroke="#000" stroke-width="0.5"/>
<circle cx="528.1" cy="246.4" r="2.5" fill="#0a0a0a" stroke="#000" stroke-width="0.5"/>
<circle cx="575.6" cy="242.1" r="2.5" fill="#0a0a0a" stroke="#000" stroke-width="0.5"/>
<circle cx="545.8" cy="238.9" r="2.5" fill="#0a0a0a" stroke="#000" stroke-width="0.5"/>
<circle cx="576.3" cy="247.4" r="2.5" fill="#0a0a0a" stroke="#000" stroke-width="0.5"/>
<circle cx="552.1" cy="242.1" r="2.5" fill="#0a0a0a" stroke="#000" stroke-width="0.5"/>
<circle cx="540.8" cy="241.7" r="2.5" fill="#0a0a0a" stroke="#000" stroke-width="0.5"/>
<circle cx="508.3" cy="247.6" r="2.5" fill="#0a0a0a" stroke="#000" stroke-width="0.5"/>
<circle cx="598.3" cy="244.3" r="2.5" fill="#0a0a0a" stroke="#000" stroke-width="0.5"/>
<circle cx="579.7" cy="245.5" r="2.5" fill="#0a0a0a" stroke="#000" stroke-width="0.5"/>
<circle cx="561.4" cy="247.2" r="2.5" fill="#0a0a0a" stroke="#000" stroke-width="0.5"/>
<circle cx="536.5" cy="242.7" r="2.5" fill="#0a0a0a" stroke="#000" stroke-width="0.5"/>
<circle cx="565.0" cy="244.9" r="2.5" fill="#0a0a0a" stroke="#000" stroke-width="0.5"/>
<circle cx="569.6" cy="245.1" r="2.5" fill="#0a0a0a" stroke="#000" stroke-width="0.5"/>
<circle cx="520.9" cy="247.0" r="2.5" fill="#0a0a0a" stroke="#000" stroke-width="0.5"/>
<circle cx="589.5" cy="246.8" r="2.5" fill="#0a0a0a" stroke="#000" stroke-width="0.5"/>
<circle cx="518.7" cy="247.1" r="2.5" fill="#0a0a0a" stroke="#000" stroke-width="0.5"/>
<circle cx="564.0" cy="245.8" r="2.5" fill="#0a0a0a" stroke="#000" stroke-width="0.5"/>
<circle cx="573.7" cy="241.4" r="2.5" fill="#0a0a0a" stroke="#000" stroke-width="0.5"/>
<circle cx="514.6" cy="248.5" r="2.5" fill="#0a0a0a" stroke="#000" stroke-width="0.5"/>
<circle cx="590.7" cy="245.0" r="2.5" fill="#0a0a0a" stroke="#000" stroke-width="0.5"/>
<circle cx="584.7" cy="244.4" r="2.5" fill="#0a0a0a" stroke="#000" stroke-width="0.5"/>
<circle cx="526.1" cy="246.0" r="2.5" fill="#0a0a0a" stroke="#000" stroke-width="0.5"/>
<circle cx="518.6" cy="244.2" r="2.5" fill="#0a0a0a" stroke="#000" stroke-width="0.5"/>
<circle cx="570.4" cy="245.2" r="2.5" fill="#0a0a0a" stroke="#000" stroke-width="0.5"/>
<circle cx="556.2" cy="246.0" r="2.5" fill="#0a0a0a" stroke="#000" stroke-width="0.5"/>
<circle cx="513.8" cy="245.3" r="2.5" fill="#0a0a0a" stroke="#000" stroke-width="0.5"/>
<circle cx="570.5" cy="242.2" r="2.5" fill="#0a0a0a" stroke="#000" stroke-width="0.5"/>
<circle cx="555.1" cy="244.6" r="2.5" fill="#0a0a0a" stroke="#000" stroke-width="0.5"/>
<circle cx="534.7" cy="247.6" r="2.5" fill="#0a0a0a" stroke="#000" stroke-width="0.5"/>
<circle cx="607.9" cy="244.9" r="2.5" fill="#0a0a0a" stroke="#000" stroke-width="0.5"/>
<circle cx="541.7" cy="240.3" r="2.5" fill="#0a0a0a" stroke="#000" stroke-width="0.5"/>
<circle cx="595.5" cy="245.6" r="2.5" fill="#0a0a0a" stroke="#000" stroke-width="0.5"/>
<circle cx="572.6" cy="241.1" r="2.5" fill="#0a0a0a" stroke="#000" stroke-width="0.5"/>
<circle cx="561.1" cy="246.5" r="2.5" fill="#0a0a0a" stroke="#000" stroke-width="0.5"/>
<circle cx="534.0" cy="244.5" r="2.5" fill="#0a0a0a" stroke="#000" stroke-width="0.5"/>
<circle cx="585.1" cy="245.5" r="2.5" fill="#0a0a0a" stroke="#000" stroke-width="0.5"/>
<circle cx="541.1" cy="240.6" r="2.5" fill="#0a0a0a" stroke="#000" stroke-width="0.5"/>
<circle cx="559.9" cy="246.2" r="2.5" fill="#0a0a0a" stroke="#000" stroke-width="0.5"/>
<circle cx="534.0" cy="246.2" r="2.5" fill="#0a0a0a" stroke="#000" stroke-width="0.5"/>
<circle cx="546.4" cy="245.1" r="2.5" fill="#0a0a0a" stroke="#000" stroke-width="0.5"/>
<circle cx="612.2" cy="247.2" r="2.5" fill="#0a0a0a" stroke="#000" stroke-width="0.5"/>
<circle cx="568.2" cy="247.3" r="2.5" fill="#0a0a0a" stroke="#000" stroke-width="0.5"/>
<circle cx="565.2" cy="246.5" r="2.5" fill="#0a0a0a" stroke="#000" stroke-width="0.5"/>
<circle cx="551.2" cy="247.2" r="2.5" fill="#0a0a0a" stroke="#000" stroke-width="0.5"/>
<circle cx="521.1" cy="243.9" r="2.5" fill="#0a0a0a" stroke="#000" stroke-width="0.5"/>
<circle cx="545.6" cy="244.6" r="2.5" fill="#0a0a0a" stroke="#000" stroke-width="0.5"/>
<circle cx="528.4" cy="245.7" r="2.5" fill="#0a0a0a" stroke="#000" stroke-width="0.5"/>
<circle cx="533.4" cy="247.8" r="2.5" fill="#0a0a0a" stroke="#000" stroke-width="0.5"/>
<circle cx="579.2" cy="244.2" r="2.5" fill="#0a0a0a" stroke="#000" stroke-width="0.5"/>
<circle cx="524.6" cy="243.9" r="2.5" fill="#0a0a0a" stroke="#000" stroke-width="0.5"/>
<circle cx="517.8" cy="246.7" r="2.5" fill="#0a0a0a" stroke="#000" stroke-width="0.5"/>
<circle cx="597.6" cy="247.0" r="2.5" fill="#0a0a0a" stroke="#000" stroke-width="0.5"/>
<circle cx="555.5" cy="244.0" r="2.5" fill="#0a0a0a" stroke="#000" stroke-width="0.5"/>
<circle cx="594.4" cy="246.5" r="2.5" fill="#0a0a0a" stroke="#000" stroke-width="0.5"/>
<circle cx="545.8" cy="240.7" r="2.5" fill="#0a0a0a" stroke="#000" stroke-width="0.5"/>
<circle cx="548.4" cy="238.8" r="2.5" fill="#0a0a0a" stroke="#000" stroke-width="0.5"/>
<circle cx="530.2" cy="242.1" r="2.5" fill="#0a0a0a" stroke="#000" stroke-width="0.5"/>
<circle cx="562.1" cy="247.8" r="2.5" fill="#0a0a0a" stroke="#000" stroke-width="0.5"/>
<circle cx="556.5" cy="247.4" r="2.5" fill="#0a0a0a" stroke="#000" stroke-width="0.5"/>
<circle cx="583.8" cy="245.1" r="2.5" fill="#0a0a0a" stroke="#000" stroke-width="0.5"/>
<circle cx="604.5" cy="245.2" r="2.5" fill="#0a0a0a" stroke="#000" stroke-width="0.5"/>
<circle cx="547.4" cy="244.4" r="2.5" fill="#0a0a0a" stroke="#000" stroke-width="0.5"/>
<circle cx="573.2" cy="245.6" r="2.5" fill="#0a0a0a" stroke="#000" stroke-width="0.5"/>
<circle cx="601.6" cy="247.2" r="2.5" fill="#0a0a0a" stroke="#000" stroke-width="0.5"/>
<circle cx="563.0" cy="246.8" r="2.5" fill="#0a0a0a" stroke="#000" stroke-width="0.5"/>
<circle cx="536.9" cy="241.9" r="2.5" fill="#0a0a0a" stroke="#000" stroke-width="0.5"/>
<circle cx="549.2" cy="241.3" r="2.5" fill="#0a0a0a" stroke="#000" stroke-width="0.5"/>
<circle cx="568.9" cy="245.9" r="2.5" fill="#0a0a0a" stroke="#000" stroke-width="0.5"/>
<circle cx="549.8" cy="246.7" r="2.5" fill="#0a0a0a" stroke="#000" stroke-width="0.5"/>
<circle cx="526.9" cy="243.0" r="2.5" fill="#0a0a0a" stroke="#000" stroke-width="0.5"/>
<circle cx="542.4" cy="241.6" r="2.5" fill="#0a0a0a" stroke="#000" stroke-width="0.5"/>
<circle cx="519.6" cy="245.2" r="2.5" fill="#0a0a0a" stroke="#000" stroke-width="0.5"/>
<circle cx="546.7" cy="242.2" r="2.5" fill="#0a0a0a" stroke="#000" stroke-width="0.5"/>
<circle cx="539.8" cy="247.1" r="2.5" fill="#0a0a0a" stroke="#000" stroke-width="0.5"/>
<circle cx="541.3" cy="245.1" r="2.5" fill="#0a0a0a" stroke="#000" stroke-width="0.5"/>
<circle cx="521.4" cy="244.3" r="2.5" fill="#0a0a0a" stroke="#000" stroke-width="0.5"/>
<circle cx="538.2" cy="244.0" r="2.5" fill="#0a0a0a" stroke="#000" stroke-width="0.5"/>
<circle cx="605.5" cy="244.7" r="2.5" fill="#0a0a0a" stroke="#000" stroke-width="0.5"/>
<circle cx="602.7" cy="243.9" r="2.5" fill="#0a0a0a" stroke="#000" stroke-width="0.5"/>
<circle cx="522.1" cy="246.2" r="2.5" fill="#0a0a0a" stroke="#000" stroke-width="0.5"/>
<circle cx="511.1" cy="246.3" r="2.5" fill="#0a0a0a" stroke="#000" stroke-width="0.5"/>
<circle cx="579.2" cy="244.1" r="2.5" fill="#0a0a0a" stroke="#000" stroke-width="0.5"/>
<circle cx="552.2" cy="242.9" r="2.5" fill="#0a0a0a" stroke="#000" stroke-width="0.5"/>
<circle cx="583.0" cy="245.1" r="2.5" fill="#0a0a0a" stroke="#000" stroke-width="0.5"/>
<circle cx="598.8" cy="245.6" r="2.5" fill="#0a0a0a" stroke="#000" stroke-width="0.5"/>
<circle cx="575.4" cy="245.5" r="2.5" fill="#0a0a0a" stroke="#000" stroke-width="0.5"/>
<circle cx="520.3" cy="243.8" r="2.5" fill="#0a0a0a" stroke="#000" stroke-width="0.5"/>
<circle cx="586.7" cy="242.2" r="2.5" fill="#0a0a0a" stroke="#000" stroke-width="0.5"/>
<circle cx="512.2" cy="248.3" r="2.5" fill="#0a0a0a" stroke="#000" stroke-width="0.5"/>
<circle cx="525.3" cy="246.5" r="2.5" fill="#0a0a0a" stroke="#000" stroke-width="0.5"/>
<circle cx="540.5" cy="243.9" r="2.5" fill="#0a0a0a" stroke="#000" stroke-width="0.5"/>
<circle cx="512.1" cy="247.1" r="2.5" fill="#0a0a0a" stroke="#000" stroke-width="0.5"/>
<circle cx="576.5" cy="245.6" r="2.5" fill="#0a0a0a" stroke="#000" stroke-width="0.5"/>
<circle cx="598.1" cy="244.4" r="2.5" fill="#0a0a0a" stroke="#000" stroke-width="0.5"/>
<circle cx="584.9" cy="245.2" r="2.5" fill="#0a0a0a" stroke="#000" stroke-width="0.5"/>
<circle cx="554.6" cy="244.0" r="2.5" fill="#0a0a0a" stroke="#000" stroke-width="0.5"/>
<circle cx="545.4" cy="248.6" r="2.5" fill="#0a0a0a" stroke="#000" stroke-width="0.5"/>
<circle cx="597.5" cy="243.4" r="2.5" fill="#0a0a0a" stroke="#000" stroke-width="0.5"/>
<circle cx="538.7" cy="247.5" r="2.5" fill="#0a0a0a" stroke="#000" stroke-width="0.5"/>
<circle cx="599.6" cy="244.4" r="2.5" fill="#0a0a0a" stroke="#000" stroke-width="0.5"/>
<circle cx="513.0" cy="247.3" r="2.5" fill="#0a0a0a" stroke="#000" stroke-width="0.5"/>
<circle cx="519.8" cy="244.3" r="2.5" fill="#0a0a0a" stroke="#000" stroke-width="0.5"/>
<circle cx="530.5" cy="242.2" r="2.5" fill="#0a0a0a" stroke="#000" stroke-width="0.5"/>
<circle cx="588.4" cy="247.0" r="2.5" fill="#0a0a0a" stroke="#000" stroke-width="0.5"/>
<circle cx="582.5" cy="244.0" r="2.5" fill="#0a0a0a" stroke="#000" stroke-width="0.5"/>
<circle cx="588.2" cy="241.7" r="2.5" fill="#0a0a0a" stroke="#000" stroke-width="0.5"/>
<circle cx="538.1" cy="246.8" r="2.5" fill="#0a0a0a" stroke="#000" stroke-width="0.5"/>
<circle cx="609.5" cy="246.5" r="2.5" fill="#0a0a0a" stroke="#000" stroke-width="0.5"/>
<circle cx="607.8" cy="245.4" r="2.5" fill="#0a0a0a" stroke="#000" stroke-width="0.5"/>
<circle cx="587.2" cy="241.6" r="2.5" fill="#0a0a0a" stroke="#000" stroke-width="0.5"/>
<circle cx="575.4" cy="243.1" r="2.5" fill="#0a0a0a" stroke="#000" stroke-width="0.5"/>
<circle cx="513.7" cy="245.8" r="2.5" fill="#0a0a0a" stroke="#000" stroke-width="0.5"/>
<circle cx="553.9" cy="244.5" r="2.5" fill="#0a0a0a" stroke="#000" stroke-width="0.5"/>
<circle cx="607.6" cy="247.5" r="2.5" fill="#0a0a0a" stroke="#000" stroke-width="0.5"/>
<circle cx="589.7" cy="247.6" r="2.5" fill="#0a0a0a" stroke="#000" stroke-width="0.5"/>
<circle cx="583.4" cy="241.4" r="2.5" fill="#0a0a0a" stroke="#000" stroke-width="0.5"/>
<circle cx="536.0" cy="243.3" r="2.5" fill="#0a0a0a" stroke="#000" stroke-width="0.5"/>
<circle cx="612.0" cy="246.2" r="2.5" fill="#0a0a0a" stroke="#000" stroke-width="0.5"/>
<circle cx="566.3" cy="246.8" r="2.5" fill="#0a0a0a" stroke="#000" stroke-width="0.5"/>
<circle cx="514.3" cy="246.7" r="2.5" fill="#0a0a0a" stroke="#000" stroke-width="0.5"/>
<circle cx="552.1" cy="245.9" r="2.5" fill="#0a0a0a" stroke="#000" stroke-width="0.5"/>
<circle cx="541.3" cy="246.1" r="2.5" fill="#0a0a0a" stroke="#000" stroke-width="0.5"/>
<circle cx="583.8" cy="242.2" r="2.5" fill="#0a0a0a" stroke="#000" stroke-width="0.5"/>
<circle cx="533.4" cy="245.6" r="2.5" fill="#0a0a0a" stroke="#000" stroke-width="0.5"/>
<circle cx="563.3" cy="247.0" r="2.5" fill="#0a0a0a" stroke="#000" stroke-width="0.5"/>
<circle cx="608.4" cy="246.6" r="2.5" fill="#0a0a0a" stroke="#000" stroke-width="0.5"/>
<circle cx="540.1" cy="240.7" r="2.5" fill="#0a0a0a" stroke="#000" stroke-width="0.5"/>
<circle cx="523.1" cy="244.7" r="2.5" fill="#0a0a0a" stroke="#000" stroke-width="0.5"/>
<circle cx="543.7" cy="240.4" r="2.5" fill="#0a0a0a" stroke="#000" stroke-width="0.5"/>
<circle cx="566.8" cy="244.7" r="2.5" fill="#0a0a0a" stroke="#000" stroke-width="0.5"/>
<circle cx="499.6" cy="243.5" r="2.5" fill="#f04c4c" stroke="#5a1414" stroke-width="0.5"/>
<circle cx="518.5" cy="243.9" r="2.5" fill="#f04c4c" stroke="#5a1414" stroke-width="0.5"/>
<circle cx="498.3" cy="243.7" r="2.5" fill="#f04c4c" stroke="#5a1414" stroke-width="0.5"/>
<circle cx="510.7" cy="241.0" r="2.5" fill="#f04c4c" stroke="#5a1414" stroke-width="0.5"/>
<circle cx="497.0" cy="244.5" r="2.5" fill="#f04c4c" stroke="#5a1414" stroke-width="0.5"/>
<circle cx="501.9" cy="243.2" r="2.5" fill="#f04c4c" stroke="#5a1414" stroke-width="0.5"/>
<circle cx="502.2" cy="240.3" r="2.5" fill="#f04c4c" stroke="#5a1414" stroke-width="0.5"/>
<circle cx="509.5" cy="243.7" r="2.5" fill="#f04c4c" stroke="#5a1414" stroke-width="0.5"/>
<circle cx="502.5" cy="242.6" r="2.5" fill="#f04c4c" stroke="#5a1414" stroke-width="0.5"/>
<circle cx="511.2" cy="241.7" r="2.5" fill="#f04c4c" stroke="#5a1414" stroke-width="0.5"/>
<circle cx="541.7" cy="239.4" r="2.5" fill="#f04c4c" stroke="#5a1414" stroke-width="0.5"/>
<circle cx="503.9" cy="241.6" r="2.5" fill="#f04c4c" stroke="#5a1414" stroke-width="0.5"/>
<circle cx="504.3" cy="242.6" r="2.5" fill="#f04c4c" stroke="#5a1414" stroke-width="0.5"/>
<circle cx="509.8" cy="242.5" r="2.5" fill="#f04c4c" stroke="#5a1414" stroke-width="0.5"/>
<circle cx="531.6" cy="240.4" r="2.5" fill="#f04c4c" stroke="#5a1414" stroke-width="0.5"/>
<circle cx="532.1" cy="239.5" r="2.5" fill="#f04c4c" stroke="#5a1414" stroke-width="0.5"/>
<circle cx="575.0" cy="241.4" r="2.5" fill="#f04c4c" stroke="#5a1414" stroke-width="0.5"/>
<circle cx="601.4" cy="243.6" r="2.5" fill="#f04c4c" stroke="#5a1414" stroke-width="0.5"/>
<circle cx="575.2" cy="241.4" r="2.5" fill="#f04c4c" stroke="#5a1414" stroke-width="0.5"/>
<circle cx="601.5" cy="242.1" r="2.5" fill="#f04c4c" stroke="#5a1414" stroke-width="0.5"/>
<circle cx="585.7" cy="240.9" r="2.5" fill="#f04c4c" stroke="#5a1414" stroke-width="0.5"/>
<circle cx="602.0" cy="241.6" r="2.5" fill="#f04c4c" stroke="#5a1414" stroke-width="0.5"/>
<circle cx="616.1" cy="241.8" r="2.5" fill="#f04c4c" stroke="#5a1414" stroke-width="0.5"/>
<circle cx="595.8" cy="241.7" r="2.5" fill="#f04c4c" stroke="#5a1414" stroke-width="0.5"/>
<circle cx="619.3" cy="240.6" r="2.5" fill="#f04c4c" stroke="#5a1414" stroke-width="0.5"/>
<circle cx="575.7" cy="240.5" r="2.5" fill="#f04c4c" stroke="#5a1414" stroke-width="0.5"/>
<circle cx="575.4" cy="243.3" r="2.5" fill="#f04c4c" stroke="#5a1414" stroke-width="0.5"/>
<circle cx="601.2" cy="240.2" r="2.5" fill="#f04c4c" stroke="#5a1414" stroke-width="0.5"/>
<circle cx="619.4" cy="244.5" r="2.5" fill="#f04c4c" stroke="#5a1414" stroke-width="0.5"/>
<circle cx="576.8" cy="240.2" r="2.5" fill="#f04c4c" stroke="#5a1414" stroke-width="0.5"/>
<circle cx="618.0" cy="239.2" r="2.5" fill="#f04c4c" stroke="#5a1414" stroke-width="0.5"/>
<circle cx="513.4" cy="247.5" r="2.5" fill="#2e7d3a" stroke="#143c1a" stroke-width="0.5"/>
<circle cx="530.7" cy="247.8" r="2.5" fill="#2e7d3a" stroke="#143c1a" stroke-width="0.5"/>
<circle cx="537.4" cy="247.2" r="2.5" fill="#2e7d3a" stroke="#143c1a" stroke-width="0.5"/>
<circle cx="511.2" cy="248.1" r="2.5" fill="#2e7d3a" stroke="#143c1a" stroke-width="0.5"/>
<circle cx="521.1" cy="248.2" r="2.5" fill="#2e7d3a" stroke="#143c1a" stroke-width="0.5"/>
<circle cx="509.0" cy="248.1" r="2.5" fill="#2e7d3a" stroke="#143c1a" stroke-width="0.5"/>
<circle cx="514.5" cy="247.4" r="2.5" fill="#2e7d3a" stroke="#143c1a" stroke-width="0.5"/>
<circle cx="524.6" cy="248.3" r="2.5" fill="#2e7d3a" stroke="#143c1a" stroke-width="0.5"/>
<circle cx="519.6" cy="247.8" r="2.5" fill="#2e7d3a" stroke="#143c1a" stroke-width="0.5"/>
<circle cx="521.2" cy="248.2" r="2.5" fill="#2e7d3a" stroke="#143c1a" stroke-width="0.5"/>
<circle cx="509.4" cy="248.5" r="2.5" fill="#2e7d3a" stroke="#143c1a" stroke-width="0.5"/>
<circle cx="546.5" cy="247.4" r="2.5" fill="#2e7d3a" stroke="#143c1a" stroke-width="0.5"/>
<circle cx="509.9" cy="247.4" r="2.5" fill="#2e7d3a" stroke="#143c1a" stroke-width="0.5"/>
<circle cx="546.0" cy="247.6" r="2.5" fill="#2e7d3a" stroke="#143c1a" stroke-width="0.5"/>
<circle cx="510.9" cy="247.7" r="2.5" fill="#2e7d3a" stroke="#143c1a" stroke-width="0.5"/>
<circle cx="524.0" cy="248.2" r="2.5" fill="#2e7d3a" stroke="#143c1a" stroke-width="0.5"/>
<circle cx="528.4" cy="248.5" r="2.5" fill="#2e7d3a" stroke="#143c1a" stroke-width="0.5"/>
<circle cx="543.6" cy="247.5" r="2.5" fill="#2e7d3a" stroke="#143c1a" stroke-width="0.5"/>
<circle cx="531.8" cy="247.1" r="2.5" fill="#2e7d3a" stroke="#143c1a" stroke-width="0.5"/>
<circle cx="532.8" cy="248.1" r="2.5" fill="#2e7d3a" stroke="#143c1a" stroke-width="0.5"/>
<circle cx="516.5" cy="248.3" r="2.5" fill="#2e7d3a" stroke="#143c1a" stroke-width="0.5"/>
<circle cx="507.7" cy="247.3" r="2.5" fill="#2e7d3a" stroke="#143c1a" stroke-width="0.5"/>
<circle cx="540.4" cy="248.0" r="2.5" fill="#2e7d3a" stroke="#143c1a" stroke-width="0.5"/>
<circle cx="514.0" cy="247.5" r="2.5" fill="#2e7d3a" stroke="#143c1a" stroke-width="0.5"/>
<circle cx="540.6" cy="247.1" r="2.5" fill="#2e7d3a" stroke="#143c1a" stroke-width="0.5"/>
<circle cx="513.3" cy="247.3" r="2.5" fill="#2e7d3a" stroke="#143c1a" stroke-width="0.5"/>
<circle cx="540.0" cy="247.4" r="2.5" fill="#2e7d3a" stroke="#143c1a" stroke-width="0.5"/>
<circle cx="519.7" cy="248.2" r="2.5" fill="#2e7d3a" stroke="#143c1a" stroke-width="0.5"/>
<circle cx="539.8" cy="248.0" r="2.5" fill="#2e7d3a" stroke="#143c1a" stroke-width="0.5"/>
<circle cx="521.4" cy="247.7" r="2.5" fill="#2e7d3a" stroke="#143c1a" stroke-width="0.5"/>
<circle cx="521.4" cy="247.2" r="2.5" fill="#2e7d3a" stroke="#143c1a" stroke-width="0.5"/>
<circle cx="516.2" cy="248.4" r="2.5" fill="#2e7d3a" stroke="#143c1a" stroke-width="0.5"/>
<circle cx="529.4" cy="247.5" r="2.5" fill="#2e7d3a" stroke="#143c1a" stroke-width="0.5"/>
<circle cx="539.6" cy="247.4" r="2.5" fill="#2e7d3a" stroke="#143c1a" stroke-width="0.5"/>
<circle cx="543.0" cy="247.1" r="2.5" fill="#2e7d3a" stroke="#143c1a" stroke-width="0.5"/>
<circle cx="526.5" cy="247.7" r="2.5" fill="#2e7d3a" stroke="#143c1a" stroke-width="0.5"/>
<circle cx="512.9" cy="248.0" r="2.5" fill="#2e7d3a" stroke="#143c1a" stroke-width="0.5"/>
<circle cx="530.0" cy="248.4" r="2.5" fill="#2e7d3a" stroke="#143c1a" stroke-width="0.5"/>
<circle cx="534.3" cy="248.2" r="2.5" fill="#2e7d3a" stroke="#143c1a" stroke-width="0.5"/>
<circle cx="524.4" cy="247.0" r="2.5" fill="#2e7d3a" stroke="#143c1a" stroke-width="0.5"/>
<circle cx="510.2" cy="248.4" r="2.5" fill="#2e7d3a" stroke="#143c1a" stroke-width="0.5"/>
<circle cx="524.3" cy="248.2" r="2.5" fill="#2e7d3a" stroke="#143c1a" stroke-width="0.5"/>
<circle cx="535.7" cy="248.5" r="2.5" fill="#2e7d3a" stroke="#143c1a" stroke-width="0.5"/>
<circle cx="540.4" cy="247.2" r="2.5" fill="#2e7d3a" stroke="#143c1a" stroke-width="0.5"/>
<circle cx="538.3" cy="247.8" r="2.5" fill="#2e7d3a" stroke="#143c1a" stroke-width="0.5"/>
<circle cx="518.0" cy="247.5" r="2.5" fill="#2e7d3a" stroke="#143c1a" stroke-width="0.5"/>
<circle cx="527.3" cy="247.9" r="2.5" fill="#2e7d3a" stroke="#143c1a" stroke-width="0.5"/>
<circle cx="520.2" cy="247.8" r="2.5" fill="#2e7d3a" stroke="#143c1a" stroke-width="0.5"/>
<circle cx="533.4" cy="247.2" r="2.5" fill="#2e7d3a" stroke="#143c1a" stroke-width="0.5"/>
<circle cx="543.0" cy="248.2" r="2.5" fill="#2e7d3a" stroke="#143c1a" stroke-width="0.5"/>
<circle cx="587.5" cy="247.8" r="2.5" fill="#2e7d3a" stroke="#143c1a" stroke-width="0.5"/>
<circle cx="597.5" cy="248.0" r="2.5" fill="#2e7d3a" stroke="#143c1a" stroke-width="0.5"/>
<circle cx="583.7" cy="248.4" r="2.5" fill="#2e7d3a" stroke="#143c1a" stroke-width="0.5"/>
<circle cx="588.5" cy="247.8" r="2.5" fill="#2e7d3a" stroke="#143c1a" stroke-width="0.5"/>
<circle cx="612.9" cy="247.1" r="2.5" fill="#2e7d3a" stroke="#143c1a" stroke-width="0.5"/>
<circle cx="608.9" cy="247.0" r="2.5" fill="#2e7d3a" stroke="#143c1a" stroke-width="0.5"/>
<circle cx="612.5" cy="247.5" r="2.5" fill="#2e7d3a" stroke="#143c1a" stroke-width="0.5"/>
<circle cx="606.9" cy="248.4" r="2.5" fill="#2e7d3a" stroke="#143c1a" stroke-width="0.5"/>
<circle cx="601.8" cy="247.6" r="2.5" fill="#2e7d3a" stroke="#143c1a" stroke-width="0.5"/>
<circle cx="587.5" cy="247.6" r="2.5" fill="#2e7d3a" stroke="#143c1a" stroke-width="0.5"/>
<circle cx="612.2" cy="247.8" r="2.5" fill="#2e7d3a" stroke="#143c1a" stroke-width="0.5"/>
<circle cx="600.7" cy="248.0" r="2.5" fill="#2e7d3a" stroke="#143c1a" stroke-width="0.5"/>
<circle cx="589.3" cy="247.1" r="2.5" fill="#2e7d3a" stroke="#143c1a" stroke-width="0.5"/>
<circle cx="577.4" cy="248.2" r="2.5" fill="#2e7d3a" stroke="#143c1a" stroke-width="0.5"/>
<circle cx="601.9" cy="247.8" r="2.5" fill="#2e7d3a" stroke="#143c1a" stroke-width="0.5"/>
<circle cx="579.6" cy="247.5" r="2.5" fill="#2e7d3a" stroke="#143c1a" stroke-width="0.5"/>
<circle cx="590.4" cy="247.6" r="2.5" fill="#2e7d3a" stroke="#143c1a" stroke-width="0.5"/>
<circle cx="592.0" cy="247.7" r="2.5" fill="#2e7d3a" stroke="#143c1a" stroke-width="0.5"/>
<circle cx="597.6" cy="247.9" r="2.5" fill="#2e7d3a" stroke="#143c1a" stroke-width="0.5"/>
<circle cx="580.7" cy="248.2" r="2.5" fill="#2e7d3a" stroke="#143c1a" stroke-width="0.5"/>
<circle cx="609.8" cy="247.7" r="2.5" fill="#2e7d3a" stroke="#143c1a" stroke-width="0.5"/>
<circle cx="580.6" cy="247.2" r="2.5" fill="#2e7d3a" stroke="#143c1a" stroke-width="0.5"/>
<circle cx="585.9" cy="248.4" r="2.5" fill="#2e7d3a" stroke="#143c1a" stroke-width="0.5"/>
<circle cx="596.3" cy="248.1" r="2.5" fill="#2e7d3a" stroke="#143c1a" stroke-width="0.5"/>
<circle cx="594.8" cy="247.7" r="2.5" fill="#2e7d3a" stroke="#143c1a" stroke-width="0.5"/>
<circle cx="584.9" cy="247.6" r="2.5" fill="#2e7d3a" stroke="#143c1a" stroke-width="0.5"/>
<circle cx="580.6" cy="247.7" r="2.5" fill="#2e7d3a" stroke="#143c1a" stroke-width="0.5"/>
<circle cx="598.5" cy="248.4" r="2.5" fill="#2e7d3a" stroke="#143c1a" stroke-width="0.5"/>
<circle cx="591.7" cy="248.4" r="2.5" fill="#2e7d3a" stroke="#143c1a" stroke-width="0.5"/>
<circle cx="592.9" cy="247.2" r="2.5" fill="#2e7d3a" stroke="#143c1a" stroke-width="0.5"/>
<circle cx="597.1" cy="247.4" r="2.5" fill="#2e7d3a" stroke="#143c1a" stroke-width="0.5"/>
<circle cx="604.8" cy="248.3" r="2.5" fill="#2e7d3a" stroke="#143c1a" stroke-width="0.5"/>
<circle cx="613.6" cy="247.4" r="2.5" fill="#2e7d3a" stroke="#143c1a" stroke-width="0.5"/>
<circle cx="580.2" cy="247.2" r="2.5" fill="#2e7d3a" stroke="#143c1a" stroke-width="0.5"/>
<circle cx="591.1" cy="248.2" r="2.5" fill="#2e7d3a" stroke="#143c1a" stroke-width="0.5"/>
<circle cx="612.5" cy="247.6" r="2.5" fill="#2e7d3a" stroke="#143c1a" stroke-width="0.5"/>
<circle cx="605.5" cy="248.3" r="2.5" fill="#2e7d3a" stroke="#143c1a" stroke-width="0.5"/>
<circle cx="605.5" cy="248.4" r="2.5" fill="#2e7d3a" stroke="#143c1a" stroke-width="0.5"/>
<circle cx="585.3" cy="247.9" r="2.5" fill="#2e7d3a" stroke="#143c1a" stroke-width="0.5"/>
<circle cx="576.9" cy="247.6" r="2.5" fill="#2e7d3a" stroke="#143c1a" stroke-width="0.5"/>
<circle cx="584.4" cy="248.0" r="2.5" fill="#2e7d3a" stroke="#143c1a" stroke-width="0.5"/>
<circle cx="603.0" cy="247.8" r="2.5" fill="#2e7d3a" stroke="#143c1a" stroke-width="0.5"/>
<circle cx="609.8" cy="247.5" r="2.5" fill="#2e7d3a" stroke="#143c1a" stroke-width="0.5"/>
<circle cx="609.2" cy="247.6" r="2.5" fill="#2e7d3a" stroke="#143c1a" stroke-width="0.5"/>
<circle cx="610.9" cy="247.2" r="2.5" fill="#2e7d3a" stroke="#143c1a" stroke-width="0.5"/>
<circle cx="582.7" cy="247.4" r="2.5" fill="#2e7d3a" stroke="#143c1a" stroke-width="0.5"/>
<circle cx="589.2" cy="247.3" r="2.5" fill="#2e7d3a" stroke="#143c1a" stroke-width="0.5"/>
<circle cx="601.9" cy="247.2" r="2.5" fill="#2e7d3a" stroke="#143c1a" stroke-width="0.5"/>
<circle cx="581.0" cy="247.9" r="2.5" fill="#2e7d3a" stroke="#143c1a" stroke-width="0.5"/>
<circle cx="604.1" cy="247.0" r="2.5" fill="#2e7d3a" stroke="#143c1a" stroke-width="0.5"/>
<circle cx="499.8" cy="247.7" r="2.5" fill="#2e7d3a" stroke="#143c1a" stroke-width="0.5"/>
<circle cx="548.7" cy="238.4" r="2.2" fill="#5470b8" stroke="#2a3a70" stroke-width="0.5"/>
<circle cx="574.5" cy="240.3" r="2.2" fill="#5470b8" stroke="#2a3a70" stroke-width="0.5"/>
<circle cx="550.3" cy="248.6" r="2.3" fill="#aaa" stroke="#555" stroke-width="0.5"/>
<circle cx="553.0" cy="248.6" r="2.3" fill="#aaa" stroke="#555" stroke-width="0.5"/>
<circle cx="555.7" cy="248.6" r="2.3" fill="#aaa" stroke="#555" stroke-width="0.5"/>
<circle cx="558.4" cy="248.6" r="2.3" fill="#aaa" stroke="#555" stroke-width="0.5"/>
<circle cx="564.8" cy="248.6" r="2.3" fill="#aaa" stroke="#555" stroke-width="0.5"/>
<circle cx="567.5" cy="248.6" r="2.3" fill="#aaa" stroke="#555" stroke-width="0.5"/>
<circle cx="570.2" cy="248.6" r="2.3" fill="#aaa" stroke="#555" stroke-width="0.5"/>
<circle cx="572.9" cy="248.6" r="2.3" fill="#aaa" stroke="#555" stroke-width="0.5"/>
<circle cx="561.6" cy="248.6" r="2.6" fill="#ddd" stroke="#999" stroke-width="0.4"/>
<circle cx="511.9" cy="220.7" r="2.5" fill="#f04c4c" stroke="#5a1414" stroke-width="0.5"/>
<circle cx="526.7" cy="215.9" r="2.5" fill="#f04c4c" stroke="#5a1414" stroke-width="0.5"/>
<circle cx="521.3" cy="223.5" r="2.5" fill="#f04c4c" stroke="#5a1414" stroke-width="0.5"/>
<circle cx="499.8" cy="243.0" r="2.5" fill="#f04c4c" stroke="#5a1414" stroke-width="0.5"/>
<circle cx="510.6" cy="240.3" r="2.5" fill="#f04c4c" stroke="#5a1414" stroke-width="0.5"/>
<circle cx="529.4" cy="228.1" r="2.5" fill="#f04c4c" stroke="#5a1414" stroke-width="0.5"/>
<circle cx="533.4" cy="228.1" r="2.5" fill="#f04c4c" stroke="#5a1414" stroke-width="0.5"/>
<circle cx="540.1" cy="227.5" r="2.5" fill="#f04c4c" stroke="#5a1414" stroke-width="0.5"/>
<circle cx="536.1" cy="227.8" r="2.5" fill="#f04c4c" stroke="#5a1414" stroke-width="0.5"/>
<circle cx="532.1" cy="226.5" r="2.5" fill="#f04c4c" stroke="#5a1414" stroke-width="0.5"/>
<circle cx="620.7" cy="160.4" r="2.5" fill="#f04c4c" stroke="#5a1414" stroke-width="0.5"/>
<circle cx="616.6" cy="185.4" r="2.5" fill="#f04c4c" stroke="#5a1414" stroke-width="0.5"/>
<circle cx="602.7" cy="187.2" r="2.5" fill="#f04c4c" stroke="#5a1414" stroke-width="0.5"/>
<circle cx="608.1" cy="190.2" r="2.5" fill="#f04c4c" stroke="#5a1414" stroke-width="0.5"/>
<circle cx="596.5" cy="197.0" r="2.5" fill="#f04c4c" stroke="#5a1414" stroke-width="0.5"/>
<circle cx="612.6" cy="198.5" r="2.5" fill="#f04c4c" stroke="#5a1414" stroke-width="0.5"/>
<circle cx="615.3" cy="198.8" r="2.5" fill="#f04c4c" stroke="#5a1414" stroke-width="0.5"/>
<circle cx="597.0" cy="208.2" r="2.5" fill="#f04c4c" stroke="#5a1414" stroke-width="0.5"/>
<circle cx="592.5" cy="212.5" r="2.5" fill="#f04c4c" stroke="#5a1414" stroke-width="0.5"/>
<circle cx="595.7" cy="214.6" r="2.5" fill="#f04c4c" stroke="#5a1414" stroke-width="0.5"/>
<circle cx="611.3" cy="221.4" r="2.5" fill="#f04c4c" stroke="#5a1414" stroke-width="0.5"/>
<circle cx="636.8" cy="217.4" r="2.5" fill="#f04c4c" stroke="#5a1414" stroke-width="0.5"/>
<circle cx="655.6" cy="244.5" r="2.5" fill="#f04c4c" stroke="#5a1414" stroke-width="0.5"/>
<circle cx="639.5" cy="242.1" r="2.5" fill="#f04c4c" stroke="#5a1414" stroke-width="0.5"/>
<circle cx="623.4" cy="242.1" r="2.5" fill="#f04c4c" stroke="#5a1414" stroke-width="0.5"/>
<circle cx="631.4" cy="242.1" r="2.5" fill="#f04c4c" stroke="#5a1414" stroke-width="0.5"/>
<circle cx="620.7" cy="238.1" r="2.5" fill="#f04c4c" stroke="#5a1414" stroke-width="0.5"/>
<circle cx="626.0" cy="236.0" r="2.5" fill="#f04c4c" stroke="#5a1414" stroke-width="0.5"/>
<circle cx="593.8" cy="222.9" r="2.5" fill="#f04c4c" stroke="#5a1414" stroke-width="0.5"/>
<circle cx="596.5" cy="224.4" r="2.5" fill="#f04c4c" stroke="#5a1414" stroke-width="0.5"/>
<circle cx="589.8" cy="225.9" r="2.5" fill="#f04c4c" stroke="#5a1414" stroke-width="0.5"/>
<circle cx="604.6" cy="232.9" r="2.5" fill="#f04c4c" stroke="#5a1414" stroke-width="0.5"/>
<circle cx="608.6" cy="233.6" r="2.5" fill="#f04c4c" stroke="#5a1414" stroke-width="0.5"/>
<circle cx="618.0" cy="239.7" r="2.5" fill="#f04c4c" stroke="#5a1414" stroke-width="0.5"/>
<circle cx="624.7" cy="240.9" r="2.5" fill="#f04c4c" stroke="#5a1414" stroke-width="0.5"/>
<circle cx="634.1" cy="243.3" r="2.5" fill="#f04c4c" stroke="#5a1414" stroke-width="0.5"/>
<circle cx="622.0" cy="243.9" r="2.5" fill="#f04c4c" stroke="#5a1414" stroke-width="0.5"/>
<line x1="548.2" y1="155.8" x2="548.2" y2="253" stroke="#444" stroke-width="0.9" stroke-dasharray="3.2,2.2"/>
<line x1="575.0" y1="155.8" x2="575.0" y2="253" stroke="#444" stroke-width="0.9" stroke-dasharray="3.2,2.2"/>
<line x1="489.6" y1="244.8" x2="661" y2="244.8" stroke="#444" stroke-width="0.9" stroke-dasharray="3.2,2.2"/>
<line x1="597.1" y1="208.3" x2="611.5" y2="212.5" stroke="#111" stroke-width="0.6"/>
<text x="619.90" y="168.32" font-size="7" text-anchor="middle" font-weight="bold">Gfap</text>
<text x="625.90" y="182.72" font-size="7" text-anchor="middle" font-weight="bold">Sulf2</text>
<text x="592.60" y="184.92" font-size="7" text-anchor="middle" font-weight="bold">Aqp4</text>
<text x="616.90" y="193.52" font-size="7" text-anchor="middle" font-weight="bold">Plat</text>
<text x="583.00" y="197.42" font-size="7" text-anchor="middle" font-weight="bold">C4b</text>
<text x="601.80" y="204.92" font-size="7" text-anchor="middle" font-weight="bold">Vim</text>
<text x="634.50" y="204.32" font-size="7" text-anchor="middle" font-weight="bold">Serpina3n</text>
<text x="583.00" y="210.32" font-size="7" text-anchor="middle" font-weight="bold">Cpe</text>
<text x="618.00" y="215.72" font-size="7" text-anchor="middle" font-weight="bold">Id3</text>
<text x="597.00" y="224.82" font-size="7" text-anchor="middle" font-weight="bold">Dhrs1</text>
<text x="0.00" y="307.30" font-size="13.5" text-anchor="start" font-weight="bold">e</text>
<line x1="45.4" y1="306.6" x2="45.4" y2="422" stroke="#222" stroke-width="1"/>
<line x1="44.9" y1="421.6" x2="126.2" y2="421.6" stroke="#222" stroke-width="1"/>
<line x1="43" y1="322.2" x2="45.4" y2="322.2" stroke="#222" stroke-width="0.5"/>
<text x="40.20" y="324.22" font-size="5.6" text-anchor="end">0.02</text>
<line x1="43" y1="343.3" x2="45.4" y2="343.3" stroke="#222" stroke-width="0.5"/>
<text x="40.20" y="345.32" font-size="5.6" text-anchor="end">0.01</text>
<line x1="43" y1="364.4" x2="45.4" y2="364.4" stroke="#222" stroke-width="0.5"/>
<text x="40.20" y="366.42" font-size="5.6" text-anchor="end">0.00</text>
<line x1="43" y1="385.5" x2="45.4" y2="385.5" stroke="#222" stroke-width="0.5"/>
<text x="40.20" y="387.52" font-size="5.6" text-anchor="end">−0.01</text>
<line x1="43" y1="406.6" x2="45.4" y2="406.6" stroke="#222" stroke-width="0.5"/>
<text x="40.20" y="408.62" font-size="5.6" text-anchor="end">−0.02</text>
<text x="16.60" y="367.52" font-size="7" text-anchor="middle" transform="rotate(-90 16.60 365.00)">ME expression</text>
<line x1="52.8" y1="421.6" x2="52.8" y2="423.8" stroke="#222" stroke-width="0.5"/>
<line x1="51.5" y1="311.7" x2="51.5" y2="395" stroke="#2a2a2a" stroke-width="0.8"/>
<rect x="49.7" y="339" width="3.6" height="25.4" fill="#555" stroke="#2a2a2a" stroke-width="0.65"/>
<line x1="49.7" y1="351" x2="53.3" y2="351" stroke="#222" stroke-width="0.6"/>
<line x1="55.5" y1="347.4" x2="55.5" y2="398.3" stroke="#444" stroke-width="0.8"/>
<rect x="53.7" y="366.5" width="3.6" height="12.7" fill="#d6d6d6" stroke="#444" stroke-width="0.65"/>
<line x1="53.7" y1="373.4" x2="57.3" y2="373.4" stroke="#333" stroke-width="0.6"/>
<line x1="66" y1="421.6" x2="66" y2="423.8" stroke="#222" stroke-width="0.5"/>
<line x1="64.5" y1="311.7" x2="64.5" y2="406" stroke="#2a2a2a" stroke-width="0.8"/>
<rect x="62.7" y="341" width="3.6" height="26.7" fill="#555" stroke="#2a2a2a" stroke-width="0.65"/>
<line x1="62.7" y1="356" x2="66.3" y2="356" stroke="#222" stroke-width="0.6"/>
<line x1="68.5" y1="340.5" x2="68.5" y2="402.2" stroke="#444" stroke-width="0.8"/>
<rect x="66.7" y="363.9" width="3.6" height="15.3" fill="#d6d6d6" stroke="#444" stroke-width="0.65"/>
<line x1="66.7" y1="372" x2="70.3" y2="372" stroke="#333" stroke-width="0.6"/>
<line x1="79.4" y1="421.6" x2="79.4" y2="423.8" stroke="#222" stroke-width="0.5"/>
<line x1="78.5" y1="316" x2="78.5" y2="397" stroke="#2a2a2a" stroke-width="0.8"/>
<rect x="76.7" y="348.1" width="3.6" height="21.4" fill="#555" stroke="#2a2a2a" stroke-width="0.65"/>
<line x1="76.7" y1="357" x2="80.3" y2="357" stroke="#222" stroke-width="0.6"/>
<line x1="81.5" y1="342.3" x2="81.5" y2="397" stroke="#444" stroke-width="0.8"/>
<rect x="79.7" y="363.4" width="3.6" height="13.8" fill="#d6d6d6" stroke="#444" stroke-width="0.65"/>
<line x1="79.7" y1="370" x2="83.3" y2="370" stroke="#333" stroke-width="0.6"/>
<line x1="92.3" y1="421.6" x2="92.3" y2="423.8" stroke="#222" stroke-width="0.5"/>
<line x1="90.5" y1="323.6" x2="90.5" y2="404.7" stroke="#2a2a2a" stroke-width="0.8"/>
<rect x="88.7" y="358.8" width="3.6" height="23.7" fill="#555" stroke="#2a2a2a" stroke-width="0.65"/>
<line x1="88.7" y1="365" x2="92.3" y2="365" stroke="#222" stroke-width="0.6"/>
<line x1="94.5" y1="316" x2="94.5" y2="405.2" stroke="#444" stroke-width="0.8"/>
<rect x="92.7" y="350.4" width="3.6" height="23.0" fill="#d6d6d6" stroke="#444" stroke-width="0.65"/>
<line x1="92.7" y1="362" x2="96.3" y2="362" stroke="#333" stroke-width="0.6"/>
<line x1="105.7" y1="421.6" x2="105.7" y2="423.8" stroke="#222" stroke-width="0.5"/>
<line x1="104.5" y1="324.4" x2="104.5" y2="411" stroke="#2a2a2a" stroke-width="0.8"/>
<rect x="102.7" y="359.3" width="3.6" height="24.5" fill="#555" stroke="#2a2a2a" stroke-width="0.65"/>
<line x1="102.7" y1="368" x2="106.3" y2="368" stroke="#222" stroke-width="0.6"/>
<line x1="108.5" y1="316.3" x2="108.5" y2="404.7" stroke="#444" stroke-width="0.8"/>
<rect x="106.7" y="350.4" width="3.6" height="21.9" fill="#d6d6d6" stroke="#444" stroke-width="0.65"/>
<line x1="106.7" y1="362" x2="110.3" y2="362" stroke="#333" stroke-width="0.6"/>
<line x1="118.6" y1="421.6" x2="118.6" y2="423.8" stroke="#222" stroke-width="0.5"/>
<line x1="117.5" y1="341" x2="117.5" y2="408.5" stroke="#2a2a2a" stroke-width="0.8"/>
<rect x="115.7" y="367" width="3.6" height="17.8" fill="#555" stroke="#2a2a2a" stroke-width="0.65"/>
<line x1="115.7" y1="377" x2="119.3" y2="377" stroke="#222" stroke-width="0.6"/>
<line x1="120.5" y1="313.5" x2="120.5" y2="403.4" stroke="#444" stroke-width="0.8"/>
<rect x="118.7" y="347.4" width="3.6" height="22.9" fill="#d6d6d6" stroke="#444" stroke-width="0.65"/>
<line x1="118.7" y1="359" x2="122.3" y2="359" stroke="#333" stroke-width="0.6"/>
<line x1="45.4" y1="364.4" x2="127" y2="364.4" stroke="#333" stroke-width="0.7" stroke-dasharray="2.2,1.6"/>
<line x1="145.7" y1="353.9" x2="145.7" y2="365.9" stroke="#555" stroke-width="0.6"/>
<rect x="140.8" y="355.1" width="9.8" height="9.6" fill="#555" stroke="#444" stroke-width="0.6"/>
<line x1="140.8" y1="359.9" x2="150.6" y2="359.9" stroke="#333" stroke-width="0.6"/>
<text x="155.20" y="362.06" font-size="6" text-anchor="start">FGF1</text>
<line x1="145.7" y1="366.3" x2="145.7" y2="378.3" stroke="#555" stroke-width="0.6"/>
<rect x="140.8" y="367.5" width="9.8" height="9.6" fill="#d6d6d6" stroke="#444" stroke-width="0.6"/>
<line x1="140.8" y1="372.3" x2="150.6" y2="372.3" stroke="#333" stroke-width="0.6"/>
<text x="155.20" y="374.46" font-size="6" text-anchor="start">Veh</text>
<line x1="45.4" y1="429.1" x2="45.4" y2="475.9" stroke="#222" stroke-width="1"/>
<line x1="44.9" y1="475.5" x2="126.2" y2="475.5" stroke="#222" stroke-width="1"/>
<line x1="43" y1="436" x2="45.4" y2="436" stroke="#222" stroke-width="0.5"/>
<text x="40.20" y="438.12" font-size="5.9" text-anchor="end" font-style="italic">sn-astro-M1</text>
<line x1="43" y1="447" x2="45.4" y2="447" stroke="#222" stroke-width="0.5"/>
<text x="40.20" y="449.12" font-size="5.9" text-anchor="end" font-style="italic">sn-astro-M2</text>
<line x1="43" y1="458.2" x2="45.4" y2="458.2" stroke="#222" stroke-width="0.5"/>
<text x="40.20" y="460.32" font-size="5.9" text-anchor="end" font-style="italic">sn-astro-M3</text>
<line x1="43" y1="469.5" x2="45.4" y2="469.5" stroke="#222" stroke-width="0.5"/>
<text x="40.20" y="471.62" font-size="5.9" text-anchor="end" font-style="italic">sn-astro-M4</text>
<line x1="52.8" y1="475.5" x2="52.8" y2="477.7" stroke="#222" stroke-width="0.5"/>
<circle cx="52.8" cy="436" r="1.2" fill="#c8c8c8"/>
<circle cx="52.8" cy="447" r="1.2" fill="#c8c8c8"/>
<circle cx="52.8" cy="458.2" r="1.2" fill="#c8c8c8"/>
<circle cx="52.8" cy="469.5" r="1.2" fill="#c8c8c8"/>
<line x1="66" y1="475.5" x2="66" y2="477.7" stroke="#222" stroke-width="0.5"/>
<circle cx="66" cy="436" r="1.2" fill="#c8c8c8"/>
<circle cx="66" cy="447" r="1.2" fill="#c8c8c8"/>
<circle cx="66" cy="458.2" r="1.2" fill="#c8c8c8"/>
<circle cx="66" cy="469.5" r="1.2" fill="#c8c8c8"/>
<line x1="79.4" y1="475.5" x2="79.4" y2="477.7" stroke="#222" stroke-width="0.5"/>
<circle cx="79.4" cy="436" r="1.2" fill="#c8c8c8"/>
<circle cx="79.4" cy="447" r="1.2" fill="#c8c8c8"/>
<circle cx="79.4" cy="458.2" r="1.2" fill="#c8c8c8"/>
<circle cx="79.4" cy="469.5" r="1.2" fill="#c8c8c8"/>
<line x1="92.3" y1="475.5" x2="92.3" y2="477.7" stroke="#222" stroke-width="0.5"/>
<circle cx="92.3" cy="436" r="1.2" fill="#c8c8c8"/>
<circle cx="92.3" cy="447" r="1.2" fill="#c8c8c8"/>
<circle cx="92.3" cy="458.2" r="1.2" fill="#c8c8c8"/>
<circle cx="92.3" cy="469.5" r="1.2" fill="#c8c8c8"/>
<line x1="105.7" y1="475.5" x2="105.7" y2="477.7" stroke="#222" stroke-width="0.5"/>
<circle cx="105.7" cy="436" r="1.2" fill="#c8c8c8"/>
<circle cx="105.7" cy="447" r="1.2" fill="#c8c8c8"/>
<circle cx="105.7" cy="458.2" r="1.2" fill="#c8c8c8"/>
<circle cx="105.7" cy="469.5" r="1.2" fill="#c8c8c8"/>
<line x1="118.6" y1="475.5" x2="118.6" y2="477.7" stroke="#222" stroke-width="0.5"/>
<circle cx="118.6" cy="436" r="1.2" fill="#c8c8c8"/>
<circle cx="118.6" cy="447" r="1.2" fill="#c8c8c8"/>
<circle cx="118.6" cy="458.2" r="1.2" fill="#c8c8c8"/>
<circle cx="118.6" cy="469.5" r="1.2" fill="#c8c8c8"/>
<circle cx="52.8" cy="469.5" r="4.8" fill="#bdbdbd"/>
<circle cx="66" cy="469.5" r="3.6" fill="#bdbdbd"/>
<circle cx="79.4" cy="458.2" r="4.4" fill="#bdbdbd"/>
<text x="55.20" y="482.52" font-size="5.6" text-anchor="end" font-style="italic" transform="rotate(-45 55.20 480.50)">sc-astro-M1</text>
<text x="68.40" y="482.52" font-size="5.6" text-anchor="end" font-style="italic" transform="rotate(-45 68.40 480.50)">sc-astro-M3</text>
<text x="81.80" y="482.52" font-size="5.6" text-anchor="end" font-style="italic" transform="rotate(-45 81.80 480.50)">sc-astro-M2</text>
<text x="94.70" y="482.52" font-size="5.6" text-anchor="end" font-style="italic" transform="rotate(-45 94.70 480.50)">sc-astro-M9</text>
<text x="108.10" y="482.52" font-size="5.6" text-anchor="end" font-style="italic" transform="rotate(-45 108.10 480.50)">sc-astro-M5</text>
<text x="121.00" y="482.52" font-size="5.6" text-anchor="end" font-style="italic" transform="rotate(-45 121.00 480.50)">sc-astro-M8</text>
<text x="142.00" y="440.42" font-size="5.6" text-anchor="start">−Log<tspan font-size="3.8" dy="1.3">10</tspan><tspan dy="-1.3"> </tspan><tspan font-style="italic">p</tspan> value</text>
<circle cx="145.6" cy="451.3" r="3.3" fill="#bdbdbd"/>
<text x="154.40" y="453.32" font-size="5.6" text-anchor="start">2</text>
<circle cx="145.6" cy="463.7" r="4.3" fill="#bdbdbd"/>
<text x="154.40" y="465.72" font-size="5.6" text-anchor="start">4</text>
<text x="194.30" y="306.80" font-size="13.5" text-anchor="start" font-weight="bold">f</text>
<text x="243.90" y="314.50" font-size="10" text-anchor="middle" font-style="italic">sc-astro-M1</text>
<text x="243.90" y="418.00" font-size="10" text-anchor="middle" font-style="italic">sc-astro-M3</text>
<line x1="257.3" y1="322.3" x2="271.9" y2="328.4" stroke="#e2e2e2" stroke-width="0.4"/>
<line x1="257.3" y1="322.3" x2="239.2" y2="329.5" stroke="#e2e2e2" stroke-width="0.4"/>
<line x1="257.3" y1="322.3" x2="254.7" y2="343.5" stroke="#e2e2e2" stroke-width="0.4"/>
<line x1="257.3" y1="322.3" x2="278.4" y2="341.1" stroke="#e2e2e2" stroke-width="0.4"/>
<line x1="257.3" y1="322.3" x2="262.2" y2="351" stroke="#e2e2e2" stroke-width="0.4"/>
<line x1="257.3" y1="322.3" x2="202.3" y2="347.8" stroke="#e2e2e2" stroke-width="0.4"/>
<line x1="257.3" y1="322.3" x2="220.8" y2="374.5" stroke="#e2e2e2" stroke-width="0.4"/>
<line x1="257.3" y1="322.3" x2="228.8" y2="351" stroke="#e2e2e2" stroke-width="0.4"/>
<line x1="216.5" y1="329.9" x2="239.2" y2="329.5" stroke="#e2e2e2" stroke-width="0.4"/>
<line x1="216.5" y1="329.9" x2="202.3" y2="347.8" stroke="#e2e2e2" stroke-width="0.4"/>
<line x1="216.5" y1="329.9" x2="228.8" y2="351" stroke="#e2e2e2" stroke-width="0.4"/>
<line x1="216.5" y1="329.9" x2="254.7" y2="343.5" stroke="#e2e2e2" stroke-width="0.4"/>
<line x1="216.5" y1="329.9" x2="257.3" y2="322.3" stroke="#e2e2e2" stroke-width="0.4"/>
<line x1="216.5" y1="329.9" x2="220.8" y2="374.5" stroke="#e2e2e2" stroke-width="0.4"/>
<line x1="216.5" y1="329.9" x2="276.2" y2="366.5" stroke="#e2e2e2" stroke-width="0.4"/>
<line x1="216.5" y1="329.9" x2="202.3" y2="347.8" stroke="#e2e2e2" stroke-width="0.4"/>
<line x1="239.2" y1="329.5" x2="257.3" y2="322.3" stroke="#e2e2e2" stroke-width="0.4"/>
<line x1="239.2" y1="329.5" x2="254.7" y2="343.5" stroke="#e2e2e2" stroke-width="0.4"/>
<line x1="239.2" y1="329.5" x2="216.5" y2="329.9" stroke="#e2e2e2" stroke-width="0.4"/>
<line x1="239.2" y1="329.5" x2="228.8" y2="351" stroke="#e2e2e2" stroke-width="0.4"/>
<line x1="239.2" y1="329.5" x2="262.2" y2="351" stroke="#e2e2e2" stroke-width="0.4"/>
<line x1="239.2" y1="329.5" x2="202.3" y2="347.8" stroke="#e2e2e2" stroke-width="0.4"/>
<line x1="239.2" y1="329.5" x2="228.8" y2="351" stroke="#e2e2e2" stroke-width="0.4"/>
<line x1="239.2" y1="329.5" x2="262.2" y2="351" stroke="#e2e2e2" stroke-width="0.4"/>
<line x1="271.9" y1="328.4" x2="278.4" y2="341.1" stroke="#e2e2e2" stroke-width="0.4"/>
<line x1="271.9" y1="328.4" x2="257.3" y2="322.3" stroke="#e2e2e2" stroke-width="0.4"/>
<line x1="271.9" y1="328.4" x2="254.7" y2="343.5" stroke="#e2e2e2" stroke-width="0.4"/>
<line x1="271.9" y1="328.4" x2="262.2" y2="351" stroke="#e2e2e2" stroke-width="0.4"/>
<line x1="271.9" y1="328.4" x2="296.3" y2="339.6" stroke="#e2e2e2" stroke-width="0.4"/>
<line x1="271.9" y1="328.4" x2="239.2" y2="329.5" stroke="#e2e2e2" stroke-width="0.4"/>
<line x1="271.9" y1="328.4" x2="276.2" y2="366.5" stroke="#e2e2e2" stroke-width="0.4"/>
<line x1="296.3" y1="339.6" x2="278.4" y2="341.1" stroke="#e2e2e2" stroke-width="0.4"/>
<line x1="296.3" y1="339.6" x2="299.5" y2="361.2" stroke="#e2e2e2" stroke-width="0.4"/>
<line x1="296.3" y1="339.6" x2="271.9" y2="328.4" stroke="#e2e2e2" stroke-width="0.4"/>
<line x1="296.3" y1="339.6" x2="276.2" y2="366.5" stroke="#e2e2e2" stroke-width="0.4"/>
<line x1="296.3" y1="339.6" x2="262.2" y2="351" stroke="#e2e2e2" stroke-width="0.4"/>
<line x1="296.3" y1="339.6" x2="228.8" y2="351" stroke="#e2e2e2" stroke-width="0.4"/>
<line x1="296.3" y1="339.6" x2="202.3" y2="347.8" stroke="#e2e2e2" stroke-width="0.4"/>
<line x1="296.3" y1="339.6" x2="299.5" y2="361.2" stroke="#e2e2e2" stroke-width="0.4"/>
<line x1="278.4" y1="341.1" x2="271.9" y2="328.4" stroke="#e2e2e2" stroke-width="0.4"/>
<line x1="278.4" y1="341.1" x2="296.3" y2="339.6" stroke="#e2e2e2" stroke-width="0.4"/>
<line x1="278.4" y1="341.1" x2="262.2" y2="351" stroke="#e2e2e2" stroke-width="0.4"/>
<line x1="278.4" y1="341.1" x2="254.7" y2="343.5" stroke="#e2e2e2" stroke-width="0.4"/>
<line x1="278.4" y1="341.1" x2="276.2" y2="366.5" stroke="#e2e2e2" stroke-width="0.4"/>
<line x1="278.4" y1="341.1" x2="262.2" y2="351" stroke="#e2e2e2" stroke-width="0.4"/>
<line x1="278.4" y1="341.1" x2="276.2" y2="366.5" stroke="#e2e2e2" stroke-width="0.4"/>
<line x1="278.4" y1="341.1" x2="239.2" y2="329.5" stroke="#e2e2e2" stroke-width="0.4"/>
<line x1="254.7" y1="343.5" x2="262.2" y2="351" stroke="#e2e2e2" stroke-width="0.4"/>
<line x1="254.7" y1="343.5" x2="239.2" y2="329.5" stroke="#e2e2e2" stroke-width="0.4"/>
<line x1="254.7" y1="343.5" x2="257.3" y2="322.3" stroke="#e2e2e2" stroke-width="0.4"/>
<line x1="254.7" y1="343.5" x2="271.9" y2="328.4" stroke="#e2e2e2" stroke-width="0.4"/>
<line x1="254.7" y1="343.5" x2="278.4" y2="341.1" stroke="#e2e2e2" stroke-width="0.4"/>
<line x1="254.7" y1="343.5" x2="216.5" y2="329.9" stroke="#e2e2e2" stroke-width="0.4"/>
<line x1="254.7" y1="343.5" x2="202.3" y2="347.8" stroke="#e2e2e2" stroke-width="0.4"/>
<line x1="254.7" y1="343.5" x2="296.3" y2="339.6" stroke="#e2e2e2" stroke-width="0.4"/>
<line x1="202.3" y1="347.8" x2="216.5" y2="329.9" stroke="#e2e2e2" stroke-width="0.4"/>
<line x1="202.3" y1="347.8" x2="228.8" y2="351" stroke="#e2e2e2" stroke-width="0.4"/>
<line x1="202.3" y1="347.8" x2="220.8" y2="374.5" stroke="#e2e2e2" stroke-width="0.4"/>
<line x1="202.3" y1="347.8" x2="239.2" y2="329.5" stroke="#e2e2e2" stroke-width="0.4"/>
<line x1="202.3" y1="347.8" x2="242.4" y2="365.9" stroke="#e2e2e2" stroke-width="0.4"/>
<line x1="202.3" y1="347.8" x2="239.2" y2="329.5" stroke="#e2e2e2" stroke-width="0.4"/>
<line x1="202.3" y1="347.8" x2="216.5" y2="329.9" stroke="#e2e2e2" stroke-width="0.4"/>
<line x1="202.3" y1="347.8" x2="228.8" y2="351" stroke="#e2e2e2" stroke-width="0.4"/>
<line x1="228.8" y1="351" x2="242.4" y2="365.9" stroke="#e2e2e2" stroke-width="0.4"/>
<line x1="228.8" y1="351" x2="239.2" y2="329.5" stroke="#e2e2e2" stroke-width="0.4"/>
<line x1="228.8" y1="351" x2="216.5" y2="329.9" stroke="#e2e2e2" stroke-width="0.4"/>
<line x1="228.8" y1="351" x2="220.8" y2="374.5" stroke="#e2e2e2" stroke-width="0.4"/>
<line x1="228.8" y1="351" x2="202.3" y2="347.8" stroke="#e2e2e2" stroke-width="0.4"/>
<line x1="228.8" y1="351" x2="276.2" y2="366.5" stroke="#e2e2e2" stroke-width="0.4"/>
<line x1="228.8" y1="351" x2="242.4" y2="365.9" stroke="#e2e2e2" stroke-width="0.4"/>
<line x1="228.8" y1="351" x2="299.5" y2="361.2" stroke="#e2e2e2" stroke-width="0.4"/>
<line x1="262.2" y1="351" x2="254.7" y2="343.5" stroke="#e2e2e2" stroke-width="0.4"/>
<line x1="262.2" y1="351" x2="278.4" y2="341.1" stroke="#e2e2e2" stroke-width="0.4"/>
<line x1="262.2" y1="351" x2="276.2" y2="366.5" stroke="#e2e2e2" stroke-width="0.4"/>
<line x1="262.2" y1="351" x2="271.9" y2="328.4" stroke="#e2e2e2" stroke-width="0.4"/>
<line x1="262.2" y1="351" x2="242.4" y2="365.9" stroke="#e2e2e2" stroke-width="0.4"/>
<line x1="262.2" y1="351" x2="257.3" y2="322.3" stroke="#e2e2e2" stroke-width="0.4"/>
<line x1="262.2" y1="351" x2="254.7" y2="343.5" stroke="#e2e2e2" stroke-width="0.4"/>
<line x1="299.5" y1="361.2" x2="296.3" y2="339.6" stroke="#e2e2e2" stroke-width="0.4"/>
<line x1="299.5" y1="361.2" x2="276.2" y2="366.5" stroke="#e2e2e2" stroke-width="0.4"/>
<line x1="299.5" y1="361.2" x2="278.4" y2="341.1" stroke="#e2e2e2" stroke-width="0.4"/>
<line x1="299.5" y1="361.2" x2="262.2" y2="351" stroke="#e2e2e2" stroke-width="0.4"/>
<line x1="299.5" y1="361.2" x2="271.9" y2="328.4" stroke="#e2e2e2" stroke-width="0.4"/>
<line x1="299.5" y1="361.2" x2="202.3" y2="347.8" stroke="#e2e2e2" stroke-width="0.4"/>
<line x1="299.5" y1="361.2" x2="242.4" y2="365.9" stroke="#e2e2e2" stroke-width="0.4"/>
<line x1="242.4" y1="365.9" x2="228.8" y2="351" stroke="#e2e2e2" stroke-width="0.4"/>
<line x1="242.4" y1="365.9" x2="220.8" y2="374.5" stroke="#e2e2e2" stroke-width="0.4"/>
<line x1="242.4" y1="365.9" x2="262.2" y2="351" stroke="#e2e2e2" stroke-width="0.4"/>
<line x1="242.4" y1="365.9" x2="254.7" y2="343.5" stroke="#e2e2e2" stroke-width="0.4"/>
<line x1="242.4" y1="365.9" x2="261.8" y2="384.9" stroke="#e2e2e2" stroke-width="0.4"/>
<line x1="242.4" y1="365.9" x2="262.2" y2="351" stroke="#e2e2e2" stroke-width="0.4"/>
<line x1="242.4" y1="365.9" x2="299.5" y2="361.2" stroke="#e2e2e2" stroke-width="0.4"/>
<line x1="242.4" y1="365.9" x2="239.2" y2="329.5" stroke="#e2e2e2" stroke-width="0.4"/>
<line x1="276.2" y1="366.5" x2="262.2" y2="351" stroke="#e2e2e2" stroke-width="0.4"/>
<line x1="276.2" y1="366.5" x2="261.8" y2="384.9" stroke="#e2e2e2" stroke-width="0.4"/>
<line x1="276.2" y1="366.5" x2="299.5" y2="361.2" stroke="#e2e2e2" stroke-width="0.4"/>
<line x1="276.2" y1="366.5" x2="278.4" y2="341.1" stroke="#e2e2e2" stroke-width="0.4"/>
<line x1="276.2" y1="366.5" x2="254.7" y2="343.5" stroke="#e2e2e2" stroke-width="0.4"/>
<line x1="276.2" y1="366.5" x2="262.2" y2="351" stroke="#e2e2e2" stroke-width="0.4"/>
<line x1="276.2" y1="366.5" x2="257.3" y2="322.3" stroke="#e2e2e2" stroke-width="0.4"/>
<line x1="276.2" y1="366.5" x2="228.8" y2="351" stroke="#e2e2e2" stroke-width="0.4"/>
<line x1="220.8" y1="374.5" x2="242.4" y2="365.9" stroke="#e2e2e2" stroke-width="0.4"/>
<line x1="220.8" y1="374.5" x2="228.8" y2="351" stroke="#e2e2e2" stroke-width="0.4"/>
<line x1="220.8" y1="374.5" x2="202.3" y2="347.8" stroke="#e2e2e2" stroke-width="0.4"/>
<line x1="220.8" y1="374.5" x2="261.8" y2="384.9" stroke="#e2e2e2" stroke-width="0.4"/>
<line x1="220.8" y1="374.5" x2="216.5" y2="329.9" stroke="#e2e2e2" stroke-width="0.4"/>
<line x1="220.8" y1="374.5" x2="216.5" y2="329.9" stroke="#e2e2e2" stroke-width="0.4"/>
<line x1="220.8" y1="374.5" x2="257.3" y2="322.3" stroke="#e2e2e2" stroke-width="0.4"/>
<line x1="261.8" y1="384.9" x2="276.2" y2="366.5" stroke="#e2e2e2" stroke-width="0.4"/>
<line x1="261.8" y1="384.9" x2="242.4" y2="365.9" stroke="#e2e2e2" stroke-width="0.4"/>
<line x1="261.8" y1="384.9" x2="262.2" y2="351" stroke="#e2e2e2" stroke-width="0.4"/>
<line x1="261.8" y1="384.9" x2="254.7" y2="343.5" stroke="#e2e2e2" stroke-width="0.4"/>
<line x1="261.8" y1="384.9" x2="220.8" y2="374.5" stroke="#e2e2e2" stroke-width="0.4"/>
<line x1="261.8" y1="384.9" x2="271.9" y2="328.4" stroke="#e2e2e2" stroke-width="0.4"/>
<line x1="261.8" y1="384.9" x2="262.2" y2="351" stroke="#e2e2e2" stroke-width="0.4"/>
<circle cx="257.3" cy="322.3" r="3.3" fill="#cdcdcd" stroke="#8e8e8e" stroke-width="0.6"/>
<circle cx="216.5" cy="329.9" r="3.2" fill="#cdcdcd" stroke="#8e8e8e" stroke-width="0.6"/>
<circle cx="239.2" cy="329.5" r="3.3" fill="#cdcdcd" stroke="#8e8e8e" stroke-width="0.6"/>
<circle cx="271.9" cy="328.4" r="3.2" fill="#cdcdcd" stroke="#8e8e8e" stroke-width="0.6"/>
<circle cx="296.3" cy="339.6" r="3.3" fill="#cdcdcd" stroke="#8e8e8e" stroke-width="0.6"/>
<circle cx="278.4" cy="341.1" r="3.1" fill="#cdcdcd" stroke="#8e8e8e" stroke-width="0.6"/>
<circle cx="254.7" cy="343.5" r="3.3" fill="#cdcdcd" stroke="#8e8e8e" stroke-width="0.6"/>
<circle cx="202.3" cy="347.8" r="3.3" fill="#cdcdcd" stroke="#8e8e8e" stroke-width="0.6"/>
<circle cx="228.8" cy="351" r="3.2" fill="#cdcdcd" stroke="#8e8e8e" stroke-width="0.6"/>
<circle cx="262.2" cy="351" r="3.1" fill="#cdcdcd" stroke="#8e8e8e" stroke-width="0.6"/>
<circle cx="299.5" cy="361.2" r="3.3" fill="#cdcdcd" stroke="#8e8e8e" stroke-width="0.6"/>
<circle cx="242.4" cy="365.9" r="3.1" fill="#cdcdcd" stroke="#8e8e8e" stroke-width="0.6"/>
<circle cx="276.2" cy="366.5" r="3.0" fill="#cdcdcd" stroke="#8e8e8e" stroke-width="0.6"/>
<circle cx="220.8" cy="374.5" r="3.2" fill="#cdcdcd" stroke="#8e8e8e" stroke-width="0.6"/>
<circle cx="261.8" cy="384.9" r="3.2" fill="#cdcdcd" stroke="#8e8e8e" stroke-width="0.6"/>
<text x="208.60" y="327.24" font-size="6.5" text-anchor="middle" font-weight="bold" fill="#ee2a2a">Sparc</text>
<text x="225.30" y="337.64" font-size="6.5" text-anchor="middle" font-weight="bold" fill="#222">Lamp1</text>
<text x="254.70" y="330.04" font-size="6.5" text-anchor="middle" font-weight="bold" fill="#ee2a2a">Sparcl1</text>
<text x="279.80" y="335.94" font-size="6.5" text-anchor="middle" font-weight="bold" fill="#ee2a2a">Clu</text>
<text x="288.80" y="347.34" font-size="6.5" text-anchor="middle" font-weight="bold" fill="#ee2a2a">Psap</text>
<text x="247.10" y="341.54" font-size="6.5" text-anchor="middle" font-weight="bold" fill="#ee2a2a">Cpe</text>
<text x="268.50" y="347.94" font-size="6.5" text-anchor="middle" font-weight="bold" fill="#222">Mlc1</text>
<text x="217.70" y="347.34" font-size="6.5" text-anchor="middle" font-weight="bold" fill="#222">Tmbim6</text>
<text x="236.30" y="359.64" font-size="6.5" text-anchor="middle" font-weight="bold" fill="#222">Tmem47</text>
<text x="271.90" y="358.74" font-size="6.5" text-anchor="middle" font-weight="bold" fill="#222">Nnat</text>
<text x="258.20" y="368.84" font-size="6.5" text-anchor="middle" font-weight="bold" fill="#222">Gpm6b</text>
<text x="288.10" y="368.84" font-size="6.5" text-anchor="middle" font-weight="bold" fill="#222">Itm2b</text>
<text x="273.90" y="379.04" font-size="6.5" text-anchor="middle" font-weight="bold" fill="#222">Itm2c</text>
<text x="213.00" y="381.84" font-size="6.5" text-anchor="middle" font-weight="bold" fill="#222">Gnai2</text>
<text x="251.80" y="382.44" font-size="6.5" text-anchor="middle" font-weight="bold" fill="#222">Canx</text>
<line x1="276.2" y1="366.5" x2="273" y2="372.5" stroke="#333" stroke-width="0.6"/>
<line x1="221.7" y1="427.3" x2="239.6" y2="440.7" stroke="#e2e2e2" stroke-width="0.4"/>
<line x1="221.7" y1="427.3" x2="203.4" y2="442.9" stroke="#e2e2e2" stroke-width="0.4"/>
<line x1="221.7" y1="427.3" x2="230.5" y2="452.1" stroke="#e2e2e2" stroke-width="0.4"/>
<line x1="221.7" y1="427.3" x2="257.9" y2="425.6" stroke="#e2e2e2" stroke-width="0.4"/>
<line x1="221.7" y1="427.3" x2="251.9" y2="447.8" stroke="#e2e2e2" stroke-width="0.4"/>
<line x1="221.7" y1="427.3" x2="274.5" y2="455.8" stroke="#e2e2e2" stroke-width="0.4"/>
<line x1="221.7" y1="427.3" x2="285.3" y2="443.5" stroke="#e2e2e2" stroke-width="0.4"/>
<line x1="221.7" y1="427.3" x2="286.4" y2="473" stroke="#e2e2e2" stroke-width="0.4"/>
<line x1="257.9" y1="425.6" x2="251.9" y2="447.8" stroke="#e2e2e2" stroke-width="0.4"/>
<line x1="257.9" y1="425.6" x2="239.6" y2="440.7" stroke="#e2e2e2" stroke-width="0.4"/>
<line x1="257.9" y1="425.6" x2="285.3" y2="443.5" stroke="#e2e2e2" stroke-width="0.4"/>
<line x1="257.9" y1="425.6" x2="274.5" y2="455.8" stroke="#e2e2e2" stroke-width="0.4"/>
<line x1="257.9" y1="425.6" x2="221.7" y2="427.3" stroke="#e2e2e2" stroke-width="0.4"/>
<line x1="257.9" y1="425.6" x2="202.3" y2="464.4" stroke="#e2e2e2" stroke-width="0.4"/>
<line x1="257.9" y1="425.6" x2="286.4" y2="473" stroke="#e2e2e2" stroke-width="0.4"/>
<line x1="257.9" y1="425.6" x2="251.9" y2="447.8" stroke="#e2e2e2" stroke-width="0.4"/>
<line x1="239.6" y1="440.7" x2="251.9" y2="447.8" stroke="#e2e2e2" stroke-width="0.4"/>
<line x1="239.6" y1="440.7" x2="230.5" y2="452.1" stroke="#e2e2e2" stroke-width="0.4"/>
<line x1="239.6" y1="440.7" x2="221.7" y2="427.3" stroke="#e2e2e2" stroke-width="0.4"/>
<line x1="239.6" y1="440.7" x2="257.9" y2="425.6" stroke="#e2e2e2" stroke-width="0.4"/>
<line x1="239.6" y1="440.7" x2="230.3" y2="466.2" stroke="#e2e2e2" stroke-width="0.4"/>
<line x1="239.6" y1="440.7" x2="230.5" y2="452.1" stroke="#e2e2e2" stroke-width="0.4"/>
<line x1="239.6" y1="440.7" x2="221.7" y2="427.3" stroke="#e2e2e2" stroke-width="0.4"/>
<line x1="203.4" y1="442.9" x2="202.3" y2="464.4" stroke="#e2e2e2" stroke-width="0.4"/>
<line x1="203.4" y1="442.9" x2="221.7" y2="427.3" stroke="#e2e2e2" stroke-width="0.4"/>
<line x1="203.4" y1="442.9" x2="230.5" y2="452.1" stroke="#e2e2e2" stroke-width="0.4"/>
<line x1="203.4" y1="442.9" x2="230.3" y2="466.2" stroke="#e2e2e2" stroke-width="0.4"/>
<line x1="203.4" y1="442.9" x2="239.6" y2="440.7" stroke="#e2e2e2" stroke-width="0.4"/>
<line x1="203.4" y1="442.9" x2="251.9" y2="447.8" stroke="#e2e2e2" stroke-width="0.4"/>
<line x1="203.4" y1="442.9" x2="274.5" y2="455.8" stroke="#e2e2e2" stroke-width="0.4"/>
<line x1="203.4" y1="442.9" x2="285.3" y2="443.5" stroke="#e2e2e2" stroke-width="0.4"/>
<line x1="285.3" y1="443.5" x2="274.5" y2="455.8" stroke="#e2e2e2" stroke-width="0.4"/>
<line x1="285.3" y1="443.5" x2="286.4" y2="473" stroke="#e2e2e2" stroke-width="0.4"/>
<line x1="285.3" y1="443.5" x2="257.9" y2="425.6" stroke="#e2e2e2" stroke-width="0.4"/>
<line x1="285.3" y1="443.5" x2="251.9" y2="447.8" stroke="#e2e2e2" stroke-width="0.4"/>
<line x1="285.3" y1="443.5" x2="299.5" y2="475.4" stroke="#e2e2e2" stroke-width="0.4"/>
<line x1="285.3" y1="443.5" x2="286.4" y2="473" stroke="#e2e2e2" stroke-width="0.4"/>
<line x1="285.3" y1="443.5" x2="262.7" y2="477.4" stroke="#e2e2e2" stroke-width="0.4"/>
<line x1="285.3" y1="443.5" x2="274.5" y2="455.8" stroke="#e2e2e2" stroke-width="0.4"/>
<line x1="251.9" y1="447.8" x2="239.6" y2="440.7" stroke="#e2e2e2" stroke-width="0.4"/>
<line x1="251.9" y1="447.8" x2="230.5" y2="452.1" stroke="#e2e2e2" stroke-width="0.4"/>
<line x1="251.9" y1="447.8" x2="257.9" y2="425.6" stroke="#e2e2e2" stroke-width="0.4"/>
<line x1="251.9" y1="447.8" x2="274.5" y2="455.8" stroke="#e2e2e2" stroke-width="0.4"/>
<line x1="251.9" y1="447.8" x2="230.3" y2="466.2" stroke="#e2e2e2" stroke-width="0.4"/>
<line x1="251.9" y1="447.8" x2="299.5" y2="475.4" stroke="#e2e2e2" stroke-width="0.4"/>
<line x1="251.9" y1="447.8" x2="219.1" y2="481.2" stroke="#e2e2e2" stroke-width="0.4"/>
<line x1="251.9" y1="447.8" x2="230.3" y2="466.2" stroke="#e2e2e2" stroke-width="0.4"/>
<line x1="230.5" y1="452.1" x2="230.3" y2="466.2" stroke="#e2e2e2" stroke-width="0.4"/>
<line x1="230.5" y1="452.1" x2="239.6" y2="440.7" stroke="#e2e2e2" stroke-width="0.4"/>
<line x1="230.5" y1="452.1" x2="251.9" y2="447.8" stroke="#e2e2e2" stroke-width="0.4"/>
<line x1="230.5" y1="452.1" x2="221.7" y2="427.3" stroke="#e2e2e2" stroke-width="0.4"/>
<line x1="230.5" y1="452.1" x2="203.4" y2="442.9" stroke="#e2e2e2" stroke-width="0.4"/>
<line x1="230.5" y1="452.1" x2="203.4" y2="442.9" stroke="#e2e2e2" stroke-width="0.4"/>
<line x1="230.5" y1="452.1" x2="202.3" y2="464.4" stroke="#e2e2e2" stroke-width="0.4"/>
<line x1="230.5" y1="452.1" x2="221.7" y2="427.3" stroke="#e2e2e2" stroke-width="0.4"/>
<line x1="274.5" y1="455.8" x2="285.3" y2="443.5" stroke="#e2e2e2" stroke-width="0.4"/>
<line x1="274.5" y1="455.8" x2="286.4" y2="473" stroke="#e2e2e2" stroke-width="0.4"/>
<line x1="274.5" y1="455.8" x2="251.9" y2="447.8" stroke="#e2e2e2" stroke-width="0.4"/>
<line x1="274.5" y1="455.8" x2="262.7" y2="477.4" stroke="#e2e2e2" stroke-width="0.4"/>
<line x1="274.5" y1="455.8" x2="299.5" y2="475.4" stroke="#e2e2e2" stroke-width="0.4"/>
<line x1="274.5" y1="455.8" x2="286.4" y2="473" stroke="#e2e2e2" stroke-width="0.4"/>
<line x1="274.5" y1="455.8" x2="230.3" y2="466.2" stroke="#e2e2e2" stroke-width="0.4"/>
<line x1="274.5" y1="455.8" x2="239.6" y2="440.7" stroke="#e2e2e2" stroke-width="0.4"/>
<line x1="202.3" y1="464.4" x2="203.4" y2="442.9" stroke="#e2e2e2" stroke-width="0.4"/>
<line x1="202.3" y1="464.4" x2="219.1" y2="481.2" stroke="#e2e2e2" stroke-width="0.4"/>
<line x1="202.3" y1="464.4" x2="230.3" y2="466.2" stroke="#e2e2e2" stroke-width="0.4"/>
<line x1="202.3" y1="464.4" x2="230.5" y2="452.1" stroke="#e2e2e2" stroke-width="0.4"/>
<line x1="202.3" y1="464.4" x2="221.7" y2="427.3" stroke="#e2e2e2" stroke-width="0.4"/>
<line x1="202.3" y1="464.4" x2="274.5" y2="455.8" stroke="#e2e2e2" stroke-width="0.4"/>
<line x1="202.3" y1="464.4" x2="251.9" y2="447.8" stroke="#e2e2e2" stroke-width="0.4"/>
<line x1="202.3" y1="464.4" x2="239.6" y2="440.7" stroke="#e2e2e2" stroke-width="0.4"/>
<line x1="230.3" y1="466.2" x2="230.5" y2="452.1" stroke="#e2e2e2" stroke-width="0.4"/>
<line x1="230.3" y1="466.2" x2="219.1" y2="481.2" stroke="#e2e2e2" stroke-width="0.4"/>
<line x1="230.3" y1="466.2" x2="243.5" y2="488.1" stroke="#e2e2e2" stroke-width="0.4"/>
<line x1="230.3" y1="466.2" x2="239.6" y2="440.7" stroke="#e2e2e2" stroke-width="0.4"/>
<line x1="230.3" y1="466.2" x2="202.3" y2="464.4" stroke="#e2e2e2" stroke-width="0.4"/>
<line x1="230.3" y1="466.2" x2="251.9" y2="447.8" stroke="#e2e2e2" stroke-width="0.4"/>
<line x1="230.3" y1="466.2" x2="203.4" y2="442.9" stroke="#e2e2e2" stroke-width="0.4"/>
<line x1="230.3" y1="466.2" x2="221.7" y2="427.3" stroke="#e2e2e2" stroke-width="0.4"/>
<line x1="286.4" y1="473" x2="299.5" y2="475.4" stroke="#e2e2e2" stroke-width="0.4"/>
<line x1="286.4" y1="473" x2="274.5" y2="455.8" stroke="#e2e2e2" stroke-width="0.4"/>
<line x1="286.4" y1="473" x2="262.7" y2="477.4" stroke="#e2e2e2" stroke-width="0.4"/>
<line x1="286.4" y1="473" x2="285.3" y2="443.5" stroke="#e2e2e2" stroke-width="0.4"/>
<line x1="286.4" y1="473" x2="251.9" y2="447.8" stroke="#e2e2e2" stroke-width="0.4"/>
<line x1="286.4" y1="473" x2="230.3" y2="466.2" stroke="#e2e2e2" stroke-width="0.4"/>
<line x1="286.4" y1="473" x2="219.1" y2="481.2" stroke="#e2e2e2" stroke-width="0.4"/>
<line x1="286.4" y1="473" x2="203.4" y2="442.9" stroke="#e2e2e2" stroke-width="0.4"/>
<line x1="299.5" y1="475.4" x2="286.4" y2="473" stroke="#e2e2e2" stroke-width="0.4"/>
<line x1="299.5" y1="475.4" x2="274.5" y2="455.8" stroke="#e2e2e2" stroke-width="0.4"/>
<line x1="299.5" y1="475.4" x2="285.3" y2="443.5" stroke="#e2e2e2" stroke-width="0.4"/>
<line x1="299.5" y1="475.4" x2="262.7" y2="477.4" stroke="#e2e2e2" stroke-width="0.4"/>
<line x1="299.5" y1="475.4" x2="251.9" y2="447.8" stroke="#e2e2e2" stroke-width="0.4"/>
<line x1="299.5" y1="475.4" x2="257.9" y2="425.6" stroke="#e2e2e2" stroke-width="0.4"/>
<line x1="299.5" y1="475.4" x2="202.3" y2="464.4" stroke="#e2e2e2" stroke-width="0.4"/>
<line x1="299.5" y1="475.4" x2="286.4" y2="473" stroke="#e2e2e2" stroke-width="0.4"/>
<line x1="262.7" y1="477.4" x2="243.5" y2="488.1" stroke="#e2e2e2" stroke-width="0.4"/>
<line x1="262.7" y1="477.4" x2="286.4" y2="473" stroke="#e2e2e2" stroke-width="0.4"/>
<line x1="262.7" y1="477.4" x2="274.5" y2="455.8" stroke="#e2e2e2" stroke-width="0.4"/>
<line x1="262.7" y1="477.4" x2="251.9" y2="447.8" stroke="#e2e2e2" stroke-width="0.4"/>
<line x1="262.7" y1="477.4" x2="230.3" y2="466.2" stroke="#e2e2e2" stroke-width="0.4"/>
<line x1="262.7" y1="477.4" x2="219.1" y2="481.2" stroke="#e2e2e2" stroke-width="0.4"/>
<line x1="262.7" y1="477.4" x2="251.9" y2="447.8" stroke="#e2e2e2" stroke-width="0.4"/>
<line x1="262.7" y1="477.4" x2="286.4" y2="473" stroke="#e2e2e2" stroke-width="0.4"/>
<line x1="219.1" y1="481.2" x2="230.3" y2="466.2" stroke="#e2e2e2" stroke-width="0.4"/>
<line x1="219.1" y1="481.2" x2="202.3" y2="464.4" stroke="#e2e2e2" stroke-width="0.4"/>
<line x1="219.1" y1="481.2" x2="243.5" y2="488.1" stroke="#e2e2e2" stroke-width="0.4"/>
<line x1="219.1" y1="481.2" x2="230.5" y2="452.1" stroke="#e2e2e2" stroke-width="0.4"/>
<line x1="219.1" y1="481.2" x2="203.4" y2="442.9" stroke="#e2e2e2" stroke-width="0.4"/>
<line x1="219.1" y1="481.2" x2="230.5" y2="452.1" stroke="#e2e2e2" stroke-width="0.4"/>
<line x1="219.1" y1="481.2" x2="262.7" y2="477.4" stroke="#e2e2e2" stroke-width="0.4"/>
<line x1="219.1" y1="481.2" x2="257.9" y2="425.6" stroke="#e2e2e2" stroke-width="0.4"/>
<line x1="243.5" y1="488.1" x2="262.7" y2="477.4" stroke="#e2e2e2" stroke-width="0.4"/>
<line x1="243.5" y1="488.1" x2="219.1" y2="481.2" stroke="#e2e2e2" stroke-width="0.4"/>
<line x1="243.5" y1="488.1" x2="230.3" y2="466.2" stroke="#e2e2e2" stroke-width="0.4"/>
<line x1="243.5" y1="488.1" x2="230.5" y2="452.1" stroke="#e2e2e2" stroke-width="0.4"/>
<line x1="243.5" y1="488.1" x2="251.9" y2="447.8" stroke="#e2e2e2" stroke-width="0.4"/>
<line x1="243.5" y1="488.1" x2="221.7" y2="427.3" stroke="#e2e2e2" stroke-width="0.4"/>
<line x1="243.5" y1="488.1" x2="286.4" y2="473" stroke="#e2e2e2" stroke-width="0.4"/>
<circle cx="221.7" cy="427.3" r="3.3" fill="#cdcdcd" stroke="#8e8e8e" stroke-width="0.6"/>
<circle cx="257.9" cy="425.6" r="3.3" fill="#cdcdcd" stroke="#8e8e8e" stroke-width="0.6"/>
<circle cx="239.6" cy="440.7" r="3.2" fill="#cdcdcd" stroke="#8e8e8e" stroke-width="0.6"/>
<circle cx="203.4" cy="442.9" r="3.3" fill="#cdcdcd" stroke="#8e8e8e" stroke-width="0.6"/>
<circle cx="285.3" cy="443.5" r="3.2" fill="#cdcdcd" stroke="#8e8e8e" stroke-width="0.6"/>
<circle cx="251.9" cy="447.8" r="3.2" fill="#cdcdcd" stroke="#8e8e8e" stroke-width="0.6"/>
<circle cx="230.5" cy="452.1" r="3.2" fill="#cdcdcd" stroke="#8e8e8e" stroke-width="0.6"/>
<circle cx="274.5" cy="455.8" r="3.2" fill="#cdcdcd" stroke="#8e8e8e" stroke-width="0.6"/>
<circle cx="202.3" cy="464.4" r="3.3" fill="#cdcdcd" stroke="#8e8e8e" stroke-width="0.6"/>
<circle cx="230.3" cy="466.2" r="3.2" fill="#cdcdcd" stroke="#8e8e8e" stroke-width="0.6"/>
<circle cx="286.4" cy="473" r="3.3" fill="#cdcdcd" stroke="#8e8e8e" stroke-width="0.6"/>
<circle cx="299.5" cy="475.4" r="3.3" fill="#cdcdcd" stroke="#8e8e8e" stroke-width="0.6"/>
<circle cx="262.7" cy="477.4" r="3.2" fill="#cdcdcd" stroke="#8e8e8e" stroke-width="0.6"/>
<circle cx="219.1" cy="481.2" r="3.2" fill="#cdcdcd" stroke="#8e8e8e" stroke-width="0.6"/>
<circle cx="243.5" cy="488.1" r="3.3" fill="#cdcdcd" stroke="#8e8e8e" stroke-width="0.6"/>
<text x="210.70" y="435.04" font-size="6.5" text-anchor="middle" font-weight="bold" fill="#222">Slc4a4</text>
<text x="258.40" y="433.54" font-size="6.5" text-anchor="middle" font-weight="bold" fill="#222">Ttyh1</text>
<text x="233.70" y="437.84" font-size="6.5" text-anchor="middle" font-weight="bold" fill="#222">Scd2</text>
<text x="292.60" y="440.94" font-size="6.5" text-anchor="middle" font-weight="bold" fill="#222">Luzp2</text>
<text x="215.10" y="449.54" font-size="6.5" text-anchor="middle" font-weight="bold" fill="#ee2a2a">Slc1a3</text>
<text x="259.50" y="455.54" font-size="6.5" text-anchor="middle" font-weight="bold" fill="#ee2a2a">Slc1a2</text>
<text x="288.10" y="455.14" font-size="6.5" text-anchor="middle" font-weight="bold" fill="#222">Gpm6a</text>
<text x="231.00" y="459.84" font-size="6.5" text-anchor="middle" font-weight="bold" fill="#222">Ntrk2</text>
<text x="287.00" y="465.24" font-size="6.5" text-anchor="middle" font-weight="bold" fill="#222">Mt1</text>
<text x="211.50" y="468.94" font-size="6.5" text-anchor="middle" font-weight="bold" fill="#222">Glul</text>
<text x="239.10" y="473.84" font-size="6.5" text-anchor="middle" font-weight="bold" fill="#ee2a2a">Slc6a11</text>
<text x="270.30" y="474.94" font-size="6.5" text-anchor="middle" font-weight="bold" fill="#ee2a2a">Aqp4</text>
<text x="211.30" y="478.84" font-size="6.5" text-anchor="middle" font-weight="bold" fill="#222">Marcks</text>
<text x="291.80" y="483.14" font-size="6.5" text-anchor="middle" font-weight="bold" fill="#222">Mt2</text>
<text x="242.00" y="485.74" font-size="6.5" text-anchor="middle" font-weight="bold" fill="#222">Tspan3</text>
<line x1="286.4" y1="473" x2="286.4" y2="466" stroke="#333" stroke-width="0.6"/>
<text x="320.40" y="307.00" font-size="14" text-anchor="start" font-weight="bold">g</text>
<defs>
<filter id="blur2" x="-50%" y="-50%" width="200%" height="200%"><feGaussianBlur stdDeviation="3.5"/></filter>
<filter id="blur1" x="-50%" y="-50%" width="200%" height="200%"><feGaussianBlur stdDeviation="0.9"/></filter>
<filter id="spk" x="0" y="0" width="100%" height="100%"><feTurbulence type="fractalNoise" baseFrequency="0.55" numOctaves="2" seed="5" result="n"/>
<feColorMatrix in="n" values="0 0 0 0 0  0 0 0 0 0  0 0 0 0 0  3 0 0 0 -1.2" result="m"/><feComposite in="SourceGraphic" in2="m" operator="in"/></filter>
<filter id="spk2" x="0" y="0" width="100%" height="100%"><feTurbulence type="fractalNoise" baseFrequency="0.45" numOctaves="2" seed="9" result="n"/>
<feColorMatrix in="n" values="0 0 0 0 0  0 0 0 0 0  0 0 0 0 0  0 3 0 0 -1.2" result="m"/><feComposite in="SourceGraphic" in2="m" operator="in"/></filter>
</defs>
<rect x="336.2" y="336.2" width="215" height="131.49999999999997" fill="#c8c8c8"/>
<defs><clipPath id="cp0a"><rect x="336.7" y="336.5" width="35.7" height="94.3"/></clipPath><clipPath id="cp0b"><rect x="372.4" y="336.5" width="34.8" height="94.3"/></clipPath></defs>
<rect x="336.7" y="336.5" width="35.7" height="94.3" fill="#240a0c"/>
<rect x="372.4" y="336.5" width="34.8" height="94.3" fill="#2e0a0e"/>
<g clip-path="url(#cp0a)"><rect x="336.7" y="336.5" width="35.7" height="94.3" fill="#6a161a" filter="url(#spk)" opacity="0.18"/></g>
<g clip-path="url(#cp0b)"><rect x="372.4" y="336.5" width="34.8" height="94.3" fill="#7a181c" filter="url(#spk2)" opacity="0.22"/></g>
<g clip-path="url(#cp0b)"><path d="M372.4,343.5 L373.7,343.5 L374.0,345.0 L374.6,370.0 L375.1,390.0 L375.8,400.0 L376.8,404.0 L378.2,407.0 L379.8,410.5 L381.3,414.0 L382.2,417.0 L382.7,419.5 L382.4,421.0 L380.9,421.8 L372.4,421.8 Z" fill="none" stroke="#c01c20" stroke-width="7" opacity="0.45" filter="url(#blur2)"/></g>
<g clip-path="url(#cp0a)"><path d="M368.8,343.5 L368.9,360.0 L369.0,390.0 L368.6,396.0 L367.9,400.0 L366.9,403.5 L365.9,407.0 L365.1,410.5 L364.5,414.0 L364.2,417.0 L364.1,419.5 L364.6,421.3 L365.9,422.3 L367.9,422.6 L372.4,422.6 L372.4,343.5 Z" fill="none" stroke="#c01c20" stroke-width="5" opacity="0.2" filter="url(#blur2)"/></g>
<rect x="336.7" y="420.8" width="35.7" height="3.2" fill="#c01c20" opacity="0.4" filter="url(#blur1)"/>
<rect x="372.4" y="420.8" width="34.8" height="3.2" fill="#c01c20" opacity="0.7" filter="url(#blur1)"/>
<ellipse cx="389.4" cy="421.5" rx="4" ry="1.6" fill="#c01c20" opacity="0.6" filter="url(#blur1)"/>
<rect x="336.7" y="424.4" width="70.5" height="6.4" fill="#060606"/>
<path d="M368.8,343.5 L368.9,360.0 L369.0,390.0 L368.6,396.0 L367.9,400.0 L366.9,403.5 L365.9,407.0 L365.1,410.5 L364.5,414.0 L364.2,417.0 L364.1,419.5 L364.6,421.3 L365.9,422.3 L367.9,422.6 L372.4,422.6 L372.4,343.5 Z" fill="#000"/><path d="M372.4,343.5 L373.7,343.5 L374.0,345.0 L374.6,370.0 L375.1,390.0 L375.8,400.0 L376.8,404.0 L378.2,407.0 L379.8,410.5 L381.3,414.0 L382.2,417.0 L382.7,419.5 L382.4,421.0 L380.9,421.8 L372.4,421.8 Z" fill="#000"/>
<rect x="335.7" y="333.5" width="72.5" height="3" fill="#fff"/>
<line x1="372.4" y1="336.5" x2="372.4" y2="430.8" stroke="#b0b0b0" stroke-width="0.7"/>
<rect x="336.7" y="432.6" width="35.3" height="34.8" fill="#2a0a0b"/>
<rect x="372.79999999999995" y="432.6" width="34.4" height="34.8" fill="#6a1316"/>
<rect x="336.7" y="432.6" width="35.3" height="34.8" fill="#6a1418" filter="url(#spk)" opacity="0.25"/>
<rect x="372.79999999999995" y="432.6" width="34.4" height="34.8" fill="#d02228" filter="url(#spk2)" opacity="0.45"/>
<path d="M348.1,409.8 L348.1,406.8 L351.1,406.8 M358.6,406.8 L361.6,406.8 L361.6,409.8 M361.6,416.6 L361.6,419.6 L358.6,419.6 M351.1,419.6 L348.1,419.6 L348.1,416.6" fill="none" stroke="#fff" stroke-width="1.3"/>
<path d="M385.0,408.9 L385.0,405.9 L388.0,405.9 M395.5,405.9 L398.5,405.9 L398.5,408.9 M398.5,415.6 L398.5,418.6 L395.5,418.6 M388.0,418.6 L385.0,418.6 L385.0,415.6" fill="none" stroke="#fff" stroke-width="1.3"/>
<rect x="363.6" y="429.2" width="6.1" height="1.3" fill="#d0d0d0"/>
<rect x="399.9" y="429.2" width="6.1" height="1.3" fill="#d0d0d0"/>
<rect x="360.2" y="465.6" width="9.8" height="1.3" fill="#e0e0e0"/>
<rect x="396.8" y="465.6" width="9.8" height="1.3" fill="#e0e0e0"/>
<text x="371.20" y="344.26" font-size="9.6" text-anchor="end" fill="#f4f4f4">Veh</text>
<text x="373.10" y="344.22" font-size="9.5" text-anchor="start" fill="#f4f4f4">FGF1</text>
<text x="337.90" y="429.75" font-size="8.2" text-anchor="start" fill="#e02828">Aqp4</text>
<defs><clipPath id="cp1a"><rect x="408.9" y="336.5" width="35.3" height="94.3"/></clipPath><clipPath id="cp1b"><rect x="444.2" y="336.5" width="35.3" height="94.3"/></clipPath></defs>
<rect x="408.9" y="336.5" width="35.3" height="94.3" fill="#0a1a0c"/>
<rect x="444.2" y="336.5" width="35.3" height="94.3" fill="#1a461c"/>
<g clip-path="url(#cp1a)"><rect x="408.9" y="336.5" width="35.3" height="94.3" fill="#1e6a24" filter="url(#spk)" opacity="0.2"/></g>
<g clip-path="url(#cp1b)"><rect x="444.2" y="336.5" width="35.3" height="94.3" fill="#3a9a3c" filter="url(#spk2)" opacity="0.4"/></g>
<g clip-path="url(#cp1b)"><path d="M444.2,343.5 L445.5,343.5 L445.8,345.0 L446.4,370.0 L446.9,390.0 L447.6,400.0 L448.6,404.0 L450.0,407.0 L451.6,410.5 L453.1,414.0 L454.0,417.0 L454.5,419.5 L454.2,421.0 L452.7,421.8 L444.2,421.8 Z" fill="none" stroke="#36b036" stroke-width="7" opacity="0.45" filter="url(#blur2)"/></g>
<g clip-path="url(#cp1a)"><path d="M440.6,343.5 L440.7,360.0 L440.8,390.0 L440.4,396.0 L439.7,400.0 L438.7,403.5 L437.7,407.0 L436.9,410.5 L436.3,414.0 L436.0,417.0 L435.9,419.5 L436.4,421.3 L437.7,422.3 L439.7,422.6 L444.2,422.6 L444.2,343.5 Z" fill="none" stroke="#36b036" stroke-width="5" opacity="0.2" filter="url(#blur2)"/></g>
<rect x="408.9" y="420.8" width="35.3" height="3.2" fill="#36b036" opacity="0.4" filter="url(#blur1)"/>
<rect x="444.2" y="420.8" width="35.3" height="3.2" fill="#36b036" opacity="0.7" filter="url(#blur1)"/>
<ellipse cx="461.2" cy="421.5" rx="4" ry="1.6" fill="#36b036" opacity="0.6" filter="url(#blur1)"/>
<rect x="408.9" y="424.4" width="70.6" height="6.4" fill="#060606"/>
<path d="M440.6,343.5 L440.7,360.0 L440.8,390.0 L440.4,396.0 L439.7,400.0 L438.7,403.5 L437.7,407.0 L436.9,410.5 L436.3,414.0 L436.0,417.0 L435.9,419.5 L436.4,421.3 L437.7,422.3 L439.7,422.6 L444.2,422.6 L444.2,343.5 Z" fill="#000"/><path d="M444.2,343.5 L445.5,343.5 L445.8,345.0 L446.4,370.0 L446.9,390.0 L447.6,400.0 L448.6,404.0 L450.0,407.0 L451.6,410.5 L453.1,414.0 L454.0,417.0 L454.5,419.5 L454.2,421.0 L452.7,421.8 L444.2,421.8 Z" fill="#000"/>
<rect x="407.9" y="333.5" width="72.6" height="3" fill="#fff"/>
<line x1="444.2" y1="336.5" x2="444.2" y2="430.8" stroke="#b0b0b0" stroke-width="0.7"/>
<rect x="408.9" y="432.6" width="34.9" height="34.8" fill="#10290f"/>
<rect x="444.59999999999997" y="432.6" width="34.9" height="34.8" fill="#2e7a2e"/>
<rect x="408.9" y="432.6" width="34.9" height="34.8" fill="#1e6a24" filter="url(#spk)" opacity="0.3"/>
<rect x="444.59999999999997" y="432.6" width="34.9" height="34.8" fill="#56c050" filter="url(#spk2)" opacity="0.6"/>
<path d="M419.9,409.8 L419.9,406.8 L422.9,406.8 M430.4,406.8 L433.4,406.8 L433.4,409.8 M433.4,416.6 L433.4,419.6 L430.4,419.6 M422.9,419.6 L419.9,419.6 L419.9,416.6" fill="none" stroke="#fff" stroke-width="1.3"/>
<path d="M456.8,408.9 L456.8,405.9 L459.8,405.9 M467.3,405.9 L470.3,405.9 L470.3,408.9 M470.3,415.6 L470.3,418.6 L467.3,418.6 M459.8,418.6 L456.8,418.6 L456.8,415.6" fill="none" stroke="#fff" stroke-width="1.3"/>
<rect x="435.4" y="429.2" width="6.1" height="1.3" fill="#d0d0d0"/>
<rect x="472.2" y="429.2" width="6.1" height="1.3" fill="#d0d0d0"/>
<rect x="432.0" y="465.6" width="9.8" height="1.3" fill="#e0e0e0"/>
<rect x="469.1" y="465.6" width="9.8" height="1.3" fill="#e0e0e0"/>
<text x="443.00" y="344.26" font-size="9.6" text-anchor="end" fill="#f4f4f4">Veh</text>
<text x="444.90" y="344.22" font-size="9.5" text-anchor="start" fill="#f4f4f4">FGF1</text>
<text x="410.10" y="429.75" font-size="8.2" text-anchor="start" fill="#74b830">GFAP</text>
<defs><clipPath id="cp2a"><rect x="480.6" y="336.5" width="34.8" height="94.3"/></clipPath><clipPath id="cp2b"><rect x="515.4" y="336.5" width="35.4" height="94.3"/></clipPath></defs>
<rect x="480.6" y="336.5" width="34.8" height="94.3" fill="#251a0c"/>
<rect x="515.4" y="336.5" width="35.4" height="94.3" fill="#2c3816"/>
<g clip-path="url(#cp2a)"><rect x="480.6" y="336.5" width="34.8" height="94.3" fill="#4a4a16" filter="url(#spk)" opacity="0.25"/></g>
<g clip-path="url(#cp2b)"><rect x="515.4" y="336.5" width="35.4" height="94.3" fill="#4e8a2a" filter="url(#spk2)" opacity="0.45"/></g>
<g clip-path="url(#cp2b)"><path d="M515.4,343.5 L516.7,343.5 L517.0,345.0 L517.6,370.0 L518.1,390.0 L518.8,400.0 L519.8,404.0 L521.2,407.0 L522.8,410.5 L524.3,414.0 L525.2,417.0 L525.7,419.5 L525.4,421.0 L523.9,421.8 L515.4,421.8 Z" fill="none" stroke="#98a820" stroke-width="7" opacity="0.45" filter="url(#blur2)"/></g>
<g clip-path="url(#cp2a)"><path d="M511.8,343.5 L511.9,360.0 L512.0,390.0 L511.6,396.0 L510.9,400.0 L509.9,403.5 L508.9,407.0 L508.1,410.5 L507.5,414.0 L507.2,417.0 L507.1,419.5 L507.6,421.3 L508.9,422.3 L510.9,422.6 L515.4,422.6 L515.4,343.5 Z" fill="none" stroke="#98a820" stroke-width="5" opacity="0.2" filter="url(#blur2)"/></g>
<rect x="480.6" y="420.8" width="34.8" height="3.2" fill="#98a820" opacity="0.4" filter="url(#blur1)"/>
<rect x="515.4" y="420.8" width="35.4" height="3.2" fill="#98a820" opacity="0.7" filter="url(#blur1)"/>
<ellipse cx="532.4" cy="421.5" rx="4" ry="1.6" fill="#98a820" opacity="0.6" filter="url(#blur1)"/>
<rect x="480.6" y="424.4" width="70.2" height="6.4" fill="#060606"/>
<path d="M511.8,343.5 L511.9,360.0 L512.0,390.0 L511.6,396.0 L510.9,400.0 L509.9,403.5 L508.9,407.0 L508.1,410.5 L507.5,414.0 L507.2,417.0 L507.1,419.5 L507.6,421.3 L508.9,422.3 L510.9,422.6 L515.4,422.6 L515.4,343.5 Z" fill="#000"/><path d="M515.4,343.5 L516.7,343.5 L517.0,345.0 L517.6,370.0 L518.1,390.0 L518.8,400.0 L519.8,404.0 L521.2,407.0 L522.8,410.5 L524.3,414.0 L525.2,417.0 L525.7,419.5 L525.4,421.0 L523.9,421.8 L515.4,421.8 Z" fill="#000"/>
<rect x="479.6" y="333.5" width="72.2" height="3" fill="#fff"/>
<line x1="515.4" y1="336.5" x2="515.4" y2="430.8" stroke="#b0b0b0" stroke-width="0.7"/>
<rect x="480.6" y="432.6" width="34.4" height="34.8" fill="#27220f"/>
<rect x="515.8" y="432.6" width="35.0" height="34.8" fill="#5a6428"/>
<rect x="480.6" y="432.6" width="34.4" height="34.8" fill="#4a4418" filter="url(#spk)" opacity="0.3"/>
<rect x="515.8" y="432.6" width="35.0" height="34.8" fill="#b09a40" filter="url(#spk2)" opacity="0.6"/>
<path d="M491.1,409.8 L491.1,406.8 L494.1,406.8 M501.6,406.8 L504.6,406.8 L504.6,409.8 M504.6,416.6 L504.6,419.6 L501.6,419.6 M494.1,419.6 L491.1,419.6 L491.1,416.6" fill="none" stroke="#fff" stroke-width="1.3"/>
<path d="M528.0,408.9 L528.0,405.9 L531.0,405.9 M538.5,405.9 L541.5,405.9 L541.5,408.9 M541.5,415.6 L541.5,418.6 L538.5,418.6 M531.0,418.6 L528.0,418.6 L528.0,415.6" fill="none" stroke="#fff" stroke-width="1.3"/>
<rect x="506.6" y="429.2" width="6.1" height="1.3" fill="#d0d0d0"/>
<rect x="543.5" y="429.2" width="6.1" height="1.3" fill="#d0d0d0"/>
<rect x="503.2" y="465.6" width="9.8" height="1.3" fill="#e0e0e0"/>
<rect x="540.4" y="465.6" width="9.8" height="1.3" fill="#e0e0e0"/>
<text x="514.20" y="344.26" font-size="9.6" text-anchor="end" fill="#f4f4f4">Veh</text>
<text x="516.10" y="344.22" font-size="9.5" text-anchor="start" fill="#f4f4f4">FGF1</text>
<text x="334.50" y="430.34" font-size="5.4" text-anchor="end">100 µm</text>
<text x="334.50" y="464.24" font-size="5.4" text-anchor="end">50 µm</text>
<line x1="607.3" y1="303" x2="607.3" y2="492.9" stroke="#222" stroke-width="0.9"/>
<line x1="606.9" y1="492.5" x2="648.3" y2="492.5" stroke="#222" stroke-width="0.9"/>
<line x1="605" y1="483.7" x2="607.3" y2="483.7" stroke="#222" stroke-width="0.5"/>
<text x="602.00" y="485.64" font-size="5.4" text-anchor="end">0.0e + 00</text>
<line x1="605" y1="438.6" x2="607.3" y2="438.6" stroke="#222" stroke-width="0.5"/>
<text x="602.00" y="440.49" font-size="5.4" text-anchor="end">5.0e + 05</text>
<line x1="605" y1="393.4" x2="607.3" y2="393.4" stroke="#222" stroke-width="0.5"/>
<text x="602.00" y="395.34" font-size="5.4" text-anchor="end">1.0e + 06</text>
<line x1="605" y1="348.2" x2="607.3" y2="348.2" stroke="#222" stroke-width="0.5"/>
<text x="602.00" y="350.19" font-size="5.4" text-anchor="end">1.5e + 06</text>
<text x="568.30" y="403.87" font-size="5.2" text-anchor="middle" transform="rotate(-90 568.30 402.00)">Volume (µm<tspan font-size="3.2" dy="-1.6">3</tspan><tspan dy="1.6">)</tspan></text>
<rect x="609.9" y="440.4" width="8.5" height="43.3" fill="#d9d9d9" stroke="#222" stroke-width="0.6"/>
<rect x="618.4" y="375.8" width="8.7" height="107.9" fill="#6f6f6f" stroke="#222" stroke-width="0.6"/>
<rect x="629.0" y="468.8" width="8.2" height="14.9" fill="#d9d9d9" stroke="#222" stroke-width="0.6"/>
<rect x="637.2" y="365.4" width="8.7" height="118.3" fill="#6f6f6f" stroke="#222" stroke-width="0.6"/>
<line x1="622.7" y1="397.9" x2="622.7" y2="351.9" stroke="#444" stroke-width="0.5"/>
<line x1="641.5" y1="388.9" x2="641.5" y2="343.7" stroke="#444" stroke-width="0.5"/>
<line x1="614.1" y1="444.0" x2="614.1" y2="436.7" stroke="#444" stroke-width="0.5"/>
<line x1="633.1" y1="472.0" x2="633.1" y2="465.6" stroke="#444" stroke-width="0.5"/>
<circle cx="622.5" cy="312.1" r="1.1" fill="#555" stroke="#333" stroke-width="0.5"/>
<circle cx="622.5" cy="366.3" r="1.1" fill="#555" stroke="#333" stroke-width="0.5"/>
<circle cx="622.0" cy="408.8" r="1.1" fill="#555" stroke="#333" stroke-width="0.5"/>
<circle cx="622.0" cy="415.1" r="1.1" fill="#555" stroke="#333" stroke-width="0.5"/>
<circle cx="641.3" cy="320.3" r="1.1" fill="#555" stroke="#333" stroke-width="0.5"/>
<circle cx="641.8" cy="355.5" r="1.1" fill="#555" stroke="#333" stroke-width="0.5"/>
<circle cx="640.7" cy="360.9" r="1.1" fill="#555" stroke="#333" stroke-width="0.5"/>
<circle cx="641.7" cy="425.9" r="1.1" fill="#555" stroke="#333" stroke-width="0.5"/>
<circle cx="614.3" cy="434.9" r="1.1" fill="#ddd" stroke="#333" stroke-width="0.5"/>
<circle cx="613.3" cy="440.4" r="1.1" fill="#ddd" stroke="#333" stroke-width="0.5"/>
<circle cx="614.5" cy="444.0" r="1.1" fill="#ddd" stroke="#333" stroke-width="0.5"/>
<circle cx="633.0" cy="461.1" r="1.1" fill="#ddd" stroke="#333" stroke-width="0.5"/>
<circle cx="634.2" cy="471.5" r="1.1" fill="#ddd" stroke="#333" stroke-width="0.5"/>
<circle cx="633.4" cy="472.4" r="1.1" fill="#ddd" stroke="#333" stroke-width="0.5"/>
<text x="619.30" y="346.30" font-size="10" text-anchor="middle">*</text>
<text x="638.40" y="346.30" font-size="10" text-anchor="middle">**</text>
<line x1="616.3" y1="347.8" x2="620.3" y2="347.8" stroke="#333" stroke-width="0.8"/>
<line x1="635.7" y1="347.8" x2="639.7" y2="347.8" stroke="#333" stroke-width="0.8"/>
<line x1="618.4" y1="492.5" x2="618.4" y2="494.5" stroke="#222" stroke-width="0.5"/>
<line x1="637.2" y1="492.5" x2="637.2" y2="494.5" stroke="#222" stroke-width="0.5"/>
<text x="620.80" y="499.52" font-size="5.6" text-anchor="end" transform="rotate(-45 620.80 497.50)">Aqp4</text>
<text x="639.60" y="499.52" font-size="5.6" text-anchor="end" transform="rotate(-45 639.60 497.50)">Gfap</text>
<rect x="662.4" y="390.3" width="8.2" height="8.2" fill="#d9d9d9" stroke="#222" stroke-width="0.5"/>
<circle cx="666.5" cy="394.4" r="1.1" fill="none" stroke="#333" stroke-width="0.5"/>
<text x="674.60" y="395.77" font-size="3.8" text-anchor="start">Veh</text>
<rect x="662.4" y="399.4" width="8.2" height="8.2" fill="#6f6f6f" stroke="#222" stroke-width="0.5"/>
<circle cx="666.5" cy="403.5" r="1.1" fill="none" stroke="#333" stroke-width="0.5"/>
<text x="674.60" y="404.87" font-size="3.8" text-anchor="start">FGF1</text>
</svg></body></html>
